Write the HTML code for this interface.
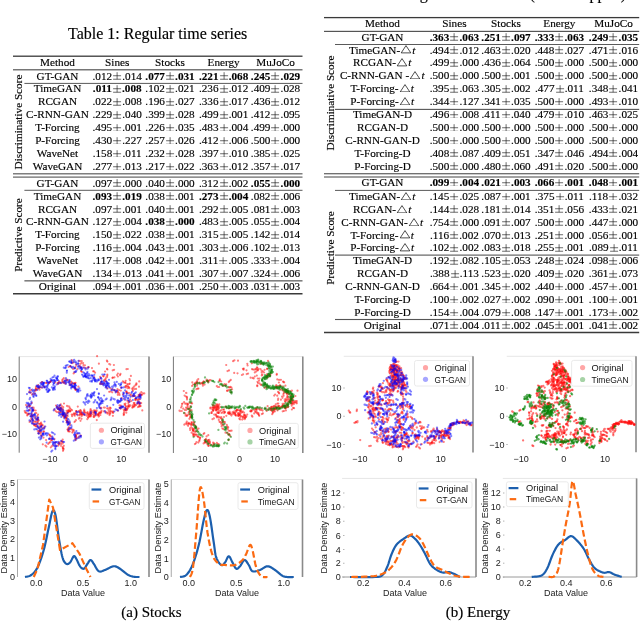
<!DOCTYPE html>
<html><head><meta charset="utf-8"><style>
html,body{margin:0;padding:0;background:#fff;}
body{width:640px;height:621px;position:relative;overflow:hidden;font-family:"Liberation Serif", serif;color:#000;filter:blur(0.3px);}
.t{-webkit-text-stroke:0.15px #000;position:absolute;width:0;height:0;line-height:0;white-space:nowrap;}
.cc{display:flex;justify-content:center;width:0;}
.cc>span,.ll>span,.rr>span{flex-shrink:0;}
.ll{display:flex;justify-content:flex-start;width:0;}
.rr{display:flex;justify-content:flex-end;width:0;}
.r{position:absolute;}
.pm{display:inline-block;vertical-align:-0.3px;margin-top:-7.6px;}
b{font-weight:bold;}
.tri{display:inline-block;vertical-align:-0.1px;margin-top:-8.2px;}
.mt{font-style:italic;margin-left:0.6px;margin-right:0.6px;}
.rot{-webkit-text-stroke:0.15px #000;position:absolute;width:0;height:0;line-height:0;white-space:nowrap;}
.cc2{position:absolute;left:0;top:0;transform:translate(-50%,-50%) rotate(-90deg);line-height:1;}
.s{font-family:"Liberation Sans", sans-serif;}
svg.p{position:absolute;left:0;top:0;}
</style></head><body>
<div class="t" style="left:157.60px;top:34.00px;font-size:16px;"><div class="cc"><span>Table 1: Regular time series</span></div></div><div class="t" style="left:57.50px;top:62.32px;font-size:11.2px;"><div class="cc"><span>Method</span></div></div><div class="t" style="left:117.20px;top:62.32px;font-size:11.2px;"><div class="cc"><span>Sines</span></div></div><div class="t" style="left:170.00px;top:62.32px;font-size:11.2px;"><div class="cc"><span>Stocks</span></div></div><div class="t" style="left:223.60px;top:62.32px;font-size:11.2px;"><div class="cc"><span>Energy</span></div></div><div class="t" style="left:275.50px;top:62.32px;font-size:11.2px;"><div class="cc"><span>MuJoCo</span></div></div><div class="t" style="left:57.50px;top:75.52px;font-size:11.2px;"><div class="cc"><span>GT-GAN</span></div></div><div class="t" style="left:117.20px;top:75.52px;font-size:11.2px;"><div class="cc"><span>.012<svg class="pm" width="10.2" height="7.6" viewBox="0 0 10.2 7.6"><path d="M1.1 3.75H9.1M1.1 7.25H9.1M5.1 0.2V7.25" stroke="#111" stroke-width="0.62"/></svg>.014</span></div></div><div class="t" style="left:170.00px;top:75.52px;font-size:11.2px;"><div class="cc"><span><b>.077<svg class="pm" width="10.2" height="7.6" viewBox="0 0 10.2 7.6"><path d="M1.1 3.75H9.1M1.1 7.25H9.1M5.1 0.2V7.25" stroke="#111" stroke-width="0.62"/></svg>.031</b></span></div></div><div class="t" style="left:223.60px;top:75.52px;font-size:11.2px;"><div class="cc"><span><b>.221<svg class="pm" width="10.2" height="7.6" viewBox="0 0 10.2 7.6"><path d="M1.1 3.75H9.1M1.1 7.25H9.1M5.1 0.2V7.25" stroke="#111" stroke-width="0.62"/></svg>.068</b></span></div></div><div class="t" style="left:275.50px;top:75.52px;font-size:11.2px;"><div class="cc"><span><b>.245<svg class="pm" width="10.2" height="7.6" viewBox="0 0 10.2 7.6"><path d="M1.1 3.75H9.1M1.1 7.25H9.1M5.1 0.2V7.25" stroke="#111" stroke-width="0.62"/></svg>.029</b></span></div></div><div class="t" style="left:57.50px;top:88.42px;font-size:11.2px;"><div class="cc"><span>TimeGAN</span></div></div><div class="t" style="left:117.20px;top:88.42px;font-size:11.2px;"><div class="cc"><span><b>.011<svg class="pm" width="10.2" height="7.6" viewBox="0 0 10.2 7.6"><path d="M1.1 3.75H9.1M1.1 7.25H9.1M5.1 0.2V7.25" stroke="#111" stroke-width="0.62"/></svg>.008</b></span></div></div><div class="t" style="left:170.00px;top:88.42px;font-size:11.2px;"><div class="cc"><span>.102<svg class="pm" width="10.2" height="7.6" viewBox="0 0 10.2 7.6"><path d="M1.1 3.75H9.1M1.1 7.25H9.1M5.1 0.2V7.25" stroke="#111" stroke-width="0.62"/></svg>.021</span></div></div><div class="t" style="left:223.60px;top:88.42px;font-size:11.2px;"><div class="cc"><span>.236<svg class="pm" width="10.2" height="7.6" viewBox="0 0 10.2 7.6"><path d="M1.1 3.75H9.1M1.1 7.25H9.1M5.1 0.2V7.25" stroke="#111" stroke-width="0.62"/></svg>.012</span></div></div><div class="t" style="left:275.50px;top:88.42px;font-size:11.2px;"><div class="cc"><span>.409<svg class="pm" width="10.2" height="7.6" viewBox="0 0 10.2 7.6"><path d="M1.1 3.75H9.1M1.1 7.25H9.1M5.1 0.2V7.25" stroke="#111" stroke-width="0.62"/></svg>.028</span></div></div><div class="t" style="left:57.50px;top:101.32px;font-size:11.2px;"><div class="cc"><span>RCGAN</span></div></div><div class="t" style="left:117.20px;top:101.32px;font-size:11.2px;"><div class="cc"><span>.022<svg class="pm" width="10.2" height="7.6" viewBox="0 0 10.2 7.6"><path d="M1.1 3.75H9.1M1.1 7.25H9.1M5.1 0.2V7.25" stroke="#111" stroke-width="0.62"/></svg>.008</span></div></div><div class="t" style="left:170.00px;top:101.32px;font-size:11.2px;"><div class="cc"><span>.196<svg class="pm" width="10.2" height="7.6" viewBox="0 0 10.2 7.6"><path d="M1.1 3.75H9.1M1.1 7.25H9.1M5.1 0.2V7.25" stroke="#111" stroke-width="0.62"/></svg>.027</span></div></div><div class="t" style="left:223.60px;top:101.32px;font-size:11.2px;"><div class="cc"><span>.336<svg class="pm" width="10.2" height="7.6" viewBox="0 0 10.2 7.6"><path d="M1.1 3.75H9.1M1.1 7.25H9.1M5.1 0.2V7.25" stroke="#111" stroke-width="0.62"/></svg>.017</span></div></div><div class="t" style="left:275.50px;top:101.32px;font-size:11.2px;"><div class="cc"><span>.436<svg class="pm" width="10.2" height="7.6" viewBox="0 0 10.2 7.6"><path d="M1.1 3.75H9.1M1.1 7.25H9.1M5.1 0.2V7.25" stroke="#111" stroke-width="0.62"/></svg>.012</span></div></div><div class="t" style="left:57.50px;top:114.22px;font-size:11.2px;"><div class="cc"><span>C-RNN-GAN</span></div></div><div class="t" style="left:117.20px;top:114.22px;font-size:11.2px;"><div class="cc"><span>.229<svg class="pm" width="10.2" height="7.6" viewBox="0 0 10.2 7.6"><path d="M1.1 3.75H9.1M1.1 7.25H9.1M5.1 0.2V7.25" stroke="#111" stroke-width="0.62"/></svg>.040</span></div></div><div class="t" style="left:170.00px;top:114.22px;font-size:11.2px;"><div class="cc"><span>.399<svg class="pm" width="10.2" height="7.6" viewBox="0 0 10.2 7.6"><path d="M1.1 3.75H9.1M1.1 7.25H9.1M5.1 0.2V7.25" stroke="#111" stroke-width="0.62"/></svg>.028</span></div></div><div class="t" style="left:223.60px;top:114.22px;font-size:11.2px;"><div class="cc"><span>.499<svg class="pm" width="10.2" height="7.6" viewBox="0 0 10.2 7.6"><path d="M1.1 3.75H9.1M1.1 7.25H9.1M5.1 0.2V7.25" stroke="#111" stroke-width="0.62"/></svg>.001</span></div></div><div class="t" style="left:275.50px;top:114.22px;font-size:11.2px;"><div class="cc"><span>.412<svg class="pm" width="10.2" height="7.6" viewBox="0 0 10.2 7.6"><path d="M1.1 3.75H9.1M1.1 7.25H9.1M5.1 0.2V7.25" stroke="#111" stroke-width="0.62"/></svg>.095</span></div></div><div class="t" style="left:57.50px;top:127.12px;font-size:11.2px;"><div class="cc"><span>T-Forcing</span></div></div><div class="t" style="left:117.20px;top:127.12px;font-size:11.2px;"><div class="cc"><span>.495<svg class="pm" width="10.2" height="7.6" viewBox="0 0 10.2 7.6"><path d="M1.1 3.75H9.1M1.1 7.25H9.1M5.1 0.2V7.25" stroke="#111" stroke-width="0.62"/></svg>.001</span></div></div><div class="t" style="left:170.00px;top:127.12px;font-size:11.2px;"><div class="cc"><span>.226<svg class="pm" width="10.2" height="7.6" viewBox="0 0 10.2 7.6"><path d="M1.1 3.75H9.1M1.1 7.25H9.1M5.1 0.2V7.25" stroke="#111" stroke-width="0.62"/></svg>.035</span></div></div><div class="t" style="left:223.60px;top:127.12px;font-size:11.2px;"><div class="cc"><span>.483<svg class="pm" width="10.2" height="7.6" viewBox="0 0 10.2 7.6"><path d="M1.1 3.75H9.1M1.1 7.25H9.1M5.1 0.2V7.25" stroke="#111" stroke-width="0.62"/></svg>.004</span></div></div><div class="t" style="left:275.50px;top:127.12px;font-size:11.2px;"><div class="cc"><span>.499<svg class="pm" width="10.2" height="7.6" viewBox="0 0 10.2 7.6"><path d="M1.1 3.75H9.1M1.1 7.25H9.1M5.1 0.2V7.25" stroke="#111" stroke-width="0.62"/></svg>.000</span></div></div><div class="t" style="left:57.50px;top:140.02px;font-size:11.2px;"><div class="cc"><span>P-Forcing</span></div></div><div class="t" style="left:117.20px;top:140.02px;font-size:11.2px;"><div class="cc"><span>.430<svg class="pm" width="10.2" height="7.6" viewBox="0 0 10.2 7.6"><path d="M1.1 3.75H9.1M1.1 7.25H9.1M5.1 0.2V7.25" stroke="#111" stroke-width="0.62"/></svg>.227</span></div></div><div class="t" style="left:170.00px;top:140.02px;font-size:11.2px;"><div class="cc"><span>.257<svg class="pm" width="10.2" height="7.6" viewBox="0 0 10.2 7.6"><path d="M1.1 3.75H9.1M1.1 7.25H9.1M5.1 0.2V7.25" stroke="#111" stroke-width="0.62"/></svg>.026</span></div></div><div class="t" style="left:223.60px;top:140.02px;font-size:11.2px;"><div class="cc"><span>.412<svg class="pm" width="10.2" height="7.6" viewBox="0 0 10.2 7.6"><path d="M1.1 3.75H9.1M1.1 7.25H9.1M5.1 0.2V7.25" stroke="#111" stroke-width="0.62"/></svg>.006</span></div></div><div class="t" style="left:275.50px;top:140.02px;font-size:11.2px;"><div class="cc"><span>.500<svg class="pm" width="10.2" height="7.6" viewBox="0 0 10.2 7.6"><path d="M1.1 3.75H9.1M1.1 7.25H9.1M5.1 0.2V7.25" stroke="#111" stroke-width="0.62"/></svg>.000</span></div></div><div class="t" style="left:57.50px;top:152.92px;font-size:11.2px;"><div class="cc"><span>WaveNet</span></div></div><div class="t" style="left:117.20px;top:152.92px;font-size:11.2px;"><div class="cc"><span>.158<svg class="pm" width="10.2" height="7.6" viewBox="0 0 10.2 7.6"><path d="M1.1 3.75H9.1M1.1 7.25H9.1M5.1 0.2V7.25" stroke="#111" stroke-width="0.62"/></svg>.011</span></div></div><div class="t" style="left:170.00px;top:152.92px;font-size:11.2px;"><div class="cc"><span>.232<svg class="pm" width="10.2" height="7.6" viewBox="0 0 10.2 7.6"><path d="M1.1 3.75H9.1M1.1 7.25H9.1M5.1 0.2V7.25" stroke="#111" stroke-width="0.62"/></svg>.028</span></div></div><div class="t" style="left:223.60px;top:152.92px;font-size:11.2px;"><div class="cc"><span>.397<svg class="pm" width="10.2" height="7.6" viewBox="0 0 10.2 7.6"><path d="M1.1 3.75H9.1M1.1 7.25H9.1M5.1 0.2V7.25" stroke="#111" stroke-width="0.62"/></svg>.010</span></div></div><div class="t" style="left:275.50px;top:152.92px;font-size:11.2px;"><div class="cc"><span>.385<svg class="pm" width="10.2" height="7.6" viewBox="0 0 10.2 7.6"><path d="M1.1 3.75H9.1M1.1 7.25H9.1M5.1 0.2V7.25" stroke="#111" stroke-width="0.62"/></svg>.025</span></div></div><div class="t" style="left:57.50px;top:165.82px;font-size:11.2px;"><div class="cc"><span>WaveGAN</span></div></div><div class="t" style="left:117.20px;top:165.82px;font-size:11.2px;"><div class="cc"><span>.277<svg class="pm" width="10.2" height="7.6" viewBox="0 0 10.2 7.6"><path d="M1.1 3.75H9.1M1.1 7.25H9.1M5.1 0.2V7.25" stroke="#111" stroke-width="0.62"/></svg>.013</span></div></div><div class="t" style="left:170.00px;top:165.82px;font-size:11.2px;"><div class="cc"><span>.217<svg class="pm" width="10.2" height="7.6" viewBox="0 0 10.2 7.6"><path d="M1.1 3.75H9.1M1.1 7.25H9.1M5.1 0.2V7.25" stroke="#111" stroke-width="0.62"/></svg>.022</span></div></div><div class="t" style="left:223.60px;top:165.82px;font-size:11.2px;"><div class="cc"><span>.363<svg class="pm" width="10.2" height="7.6" viewBox="0 0 10.2 7.6"><path d="M1.1 3.75H9.1M1.1 7.25H9.1M5.1 0.2V7.25" stroke="#111" stroke-width="0.62"/></svg>.012</span></div></div><div class="t" style="left:275.50px;top:165.82px;font-size:11.2px;"><div class="cc"><span>.357<svg class="pm" width="10.2" height="7.6" viewBox="0 0 10.2 7.6"><path d="M1.1 3.75H9.1M1.1 7.25H9.1M5.1 0.2V7.25" stroke="#111" stroke-width="0.62"/></svg>.017</span></div></div><div class="t" style="left:57.50px;top:182.52px;font-size:11.2px;"><div class="cc"><span>GT-GAN</span></div></div><div class="t" style="left:117.20px;top:182.52px;font-size:11.2px;"><div class="cc"><span>.097<svg class="pm" width="10.2" height="7.6" viewBox="0 0 10.2 7.6"><path d="M1.1 3.75H9.1M1.1 7.25H9.1M5.1 0.2V7.25" stroke="#111" stroke-width="0.62"/></svg>.000</span></div></div><div class="t" style="left:170.00px;top:182.52px;font-size:11.2px;"><div class="cc"><span>.040<svg class="pm" width="10.2" height="7.6" viewBox="0 0 10.2 7.6"><path d="M1.1 3.75H9.1M1.1 7.25H9.1M5.1 0.2V7.25" stroke="#111" stroke-width="0.62"/></svg>.000</span></div></div><div class="t" style="left:223.60px;top:182.52px;font-size:11.2px;"><div class="cc"><span>.312<svg class="pm" width="10.2" height="7.6" viewBox="0 0 10.2 7.6"><path d="M1.1 3.75H9.1M1.1 7.25H9.1M5.1 0.2V7.25" stroke="#111" stroke-width="0.62"/></svg>.002</span></div></div><div class="t" style="left:275.50px;top:182.52px;font-size:11.2px;"><div class="cc"><span><b>.055<svg class="pm" width="10.2" height="7.6" viewBox="0 0 10.2 7.6"><path d="M1.1 3.75H9.1M1.1 7.25H9.1M5.1 0.2V7.25" stroke="#111" stroke-width="0.62"/></svg>.000</b></span></div></div><div class="t" style="left:57.50px;top:195.62px;font-size:11.2px;"><div class="cc"><span>TimeGAN</span></div></div><div class="t" style="left:117.20px;top:195.62px;font-size:11.2px;"><div class="cc"><span><b>.093<svg class="pm" width="10.2" height="7.6" viewBox="0 0 10.2 7.6"><path d="M1.1 3.75H9.1M1.1 7.25H9.1M5.1 0.2V7.25" stroke="#111" stroke-width="0.62"/></svg>.019</b></span></div></div><div class="t" style="left:170.00px;top:195.62px;font-size:11.2px;"><div class="cc"><span>.038<svg class="pm" width="10.2" height="7.6" viewBox="0 0 10.2 7.6"><path d="M1.1 3.75H9.1M1.1 7.25H9.1M5.1 0.2V7.25" stroke="#111" stroke-width="0.62"/></svg>.001</span></div></div><div class="t" style="left:223.60px;top:195.62px;font-size:11.2px;"><div class="cc"><span><b>.273<svg class="pm" width="10.2" height="7.6" viewBox="0 0 10.2 7.6"><path d="M1.1 3.75H9.1M1.1 7.25H9.1M5.1 0.2V7.25" stroke="#111" stroke-width="0.62"/></svg>.004</b></span></div></div><div class="t" style="left:275.50px;top:195.62px;font-size:11.2px;"><div class="cc"><span>.082<svg class="pm" width="10.2" height="7.6" viewBox="0 0 10.2 7.6"><path d="M1.1 3.75H9.1M1.1 7.25H9.1M5.1 0.2V7.25" stroke="#111" stroke-width="0.62"/></svg>.006</span></div></div><div class="t" style="left:57.50px;top:208.52px;font-size:11.2px;"><div class="cc"><span>RCGAN</span></div></div><div class="t" style="left:117.20px;top:208.52px;font-size:11.2px;"><div class="cc"><span>.097<svg class="pm" width="10.2" height="7.6" viewBox="0 0 10.2 7.6"><path d="M1.1 3.75H9.1M1.1 7.25H9.1M5.1 0.2V7.25" stroke="#111" stroke-width="0.62"/></svg>.001</span></div></div><div class="t" style="left:170.00px;top:208.52px;font-size:11.2px;"><div class="cc"><span>.040<svg class="pm" width="10.2" height="7.6" viewBox="0 0 10.2 7.6"><path d="M1.1 3.75H9.1M1.1 7.25H9.1M5.1 0.2V7.25" stroke="#111" stroke-width="0.62"/></svg>.001</span></div></div><div class="t" style="left:223.60px;top:208.52px;font-size:11.2px;"><div class="cc"><span>.292<svg class="pm" width="10.2" height="7.6" viewBox="0 0 10.2 7.6"><path d="M1.1 3.75H9.1M1.1 7.25H9.1M5.1 0.2V7.25" stroke="#111" stroke-width="0.62"/></svg>.005</span></div></div><div class="t" style="left:275.50px;top:208.52px;font-size:11.2px;"><div class="cc"><span>.081<svg class="pm" width="10.2" height="7.6" viewBox="0 0 10.2 7.6"><path d="M1.1 3.75H9.1M1.1 7.25H9.1M5.1 0.2V7.25" stroke="#111" stroke-width="0.62"/></svg>.003</span></div></div><div class="t" style="left:57.50px;top:221.42px;font-size:11.2px;"><div class="cc"><span>C-RNN-GAN</span></div></div><div class="t" style="left:117.20px;top:221.42px;font-size:11.2px;"><div class="cc"><span>.127<svg class="pm" width="10.2" height="7.6" viewBox="0 0 10.2 7.6"><path d="M1.1 3.75H9.1M1.1 7.25H9.1M5.1 0.2V7.25" stroke="#111" stroke-width="0.62"/></svg>.004</span></div></div><div class="t" style="left:170.00px;top:221.42px;font-size:11.2px;"><div class="cc"><span><b>.038<svg class="pm" width="10.2" height="7.6" viewBox="0 0 10.2 7.6"><path d="M1.1 3.75H9.1M1.1 7.25H9.1M5.1 0.2V7.25" stroke="#111" stroke-width="0.62"/></svg>.000</b></span></div></div><div class="t" style="left:223.60px;top:221.42px;font-size:11.2px;"><div class="cc"><span>.483<svg class="pm" width="10.2" height="7.6" viewBox="0 0 10.2 7.6"><path d="M1.1 3.75H9.1M1.1 7.25H9.1M5.1 0.2V7.25" stroke="#111" stroke-width="0.62"/></svg>.005</span></div></div><div class="t" style="left:275.50px;top:221.42px;font-size:11.2px;"><div class="cc"><span>.055<svg class="pm" width="10.2" height="7.6" viewBox="0 0 10.2 7.6"><path d="M1.1 3.75H9.1M1.1 7.25H9.1M5.1 0.2V7.25" stroke="#111" stroke-width="0.62"/></svg>.004</span></div></div><div class="t" style="left:57.50px;top:234.32px;font-size:11.2px;"><div class="cc"><span>T-Forcing</span></div></div><div class="t" style="left:117.20px;top:234.32px;font-size:11.2px;"><div class="cc"><span>.150<svg class="pm" width="10.2" height="7.6" viewBox="0 0 10.2 7.6"><path d="M1.1 3.75H9.1M1.1 7.25H9.1M5.1 0.2V7.25" stroke="#111" stroke-width="0.62"/></svg>.022</span></div></div><div class="t" style="left:170.00px;top:234.32px;font-size:11.2px;"><div class="cc"><span>.038<svg class="pm" width="10.2" height="7.6" viewBox="0 0 10.2 7.6"><path d="M1.1 3.75H9.1M1.1 7.25H9.1M5.1 0.2V7.25" stroke="#111" stroke-width="0.62"/></svg>.001</span></div></div><div class="t" style="left:223.60px;top:234.32px;font-size:11.2px;"><div class="cc"><span>.315<svg class="pm" width="10.2" height="7.6" viewBox="0 0 10.2 7.6"><path d="M1.1 3.75H9.1M1.1 7.25H9.1M5.1 0.2V7.25" stroke="#111" stroke-width="0.62"/></svg>.005</span></div></div><div class="t" style="left:275.50px;top:234.32px;font-size:11.2px;"><div class="cc"><span>.142<svg class="pm" width="10.2" height="7.6" viewBox="0 0 10.2 7.6"><path d="M1.1 3.75H9.1M1.1 7.25H9.1M5.1 0.2V7.25" stroke="#111" stroke-width="0.62"/></svg>.014</span></div></div><div class="t" style="left:57.50px;top:247.22px;font-size:11.2px;"><div class="cc"><span>P-Forcing</span></div></div><div class="t" style="left:117.20px;top:247.22px;font-size:11.2px;"><div class="cc"><span>.116<svg class="pm" width="10.2" height="7.6" viewBox="0 0 10.2 7.6"><path d="M1.1 3.75H9.1M1.1 7.25H9.1M5.1 0.2V7.25" stroke="#111" stroke-width="0.62"/></svg>.004</span></div></div><div class="t" style="left:170.00px;top:247.22px;font-size:11.2px;"><div class="cc"><span>.043<svg class="pm" width="10.2" height="7.6" viewBox="0 0 10.2 7.6"><path d="M1.1 3.75H9.1M1.1 7.25H9.1M5.1 0.2V7.25" stroke="#111" stroke-width="0.62"/></svg>.001</span></div></div><div class="t" style="left:223.60px;top:247.22px;font-size:11.2px;"><div class="cc"><span>.303<svg class="pm" width="10.2" height="7.6" viewBox="0 0 10.2 7.6"><path d="M1.1 3.75H9.1M1.1 7.25H9.1M5.1 0.2V7.25" stroke="#111" stroke-width="0.62"/></svg>.006</span></div></div><div class="t" style="left:275.50px;top:247.22px;font-size:11.2px;"><div class="cc"><span>.102<svg class="pm" width="10.2" height="7.6" viewBox="0 0 10.2 7.6"><path d="M1.1 3.75H9.1M1.1 7.25H9.1M5.1 0.2V7.25" stroke="#111" stroke-width="0.62"/></svg>.013</span></div></div><div class="t" style="left:57.50px;top:260.12px;font-size:11.2px;"><div class="cc"><span>WaveNet</span></div></div><div class="t" style="left:117.20px;top:260.12px;font-size:11.2px;"><div class="cc"><span>.117<svg class="pm" width="10.2" height="7.6" viewBox="0 0 10.2 7.6"><path d="M1.1 3.75H9.1M1.1 7.25H9.1M5.1 0.2V7.25" stroke="#111" stroke-width="0.62"/></svg>.008</span></div></div><div class="t" style="left:170.00px;top:260.12px;font-size:11.2px;"><div class="cc"><span>.042<svg class="pm" width="10.2" height="7.6" viewBox="0 0 10.2 7.6"><path d="M1.1 3.75H9.1M1.1 7.25H9.1M5.1 0.2V7.25" stroke="#111" stroke-width="0.62"/></svg>.001</span></div></div><div class="t" style="left:223.60px;top:260.12px;font-size:11.2px;"><div class="cc"><span>.311<svg class="pm" width="10.2" height="7.6" viewBox="0 0 10.2 7.6"><path d="M1.1 3.75H9.1M1.1 7.25H9.1M5.1 0.2V7.25" stroke="#111" stroke-width="0.62"/></svg>.005</span></div></div><div class="t" style="left:275.50px;top:260.12px;font-size:11.2px;"><div class="cc"><span>.333<svg class="pm" width="10.2" height="7.6" viewBox="0 0 10.2 7.6"><path d="M1.1 3.75H9.1M1.1 7.25H9.1M5.1 0.2V7.25" stroke="#111" stroke-width="0.62"/></svg>.004</span></div></div><div class="t" style="left:57.50px;top:273.02px;font-size:11.2px;"><div class="cc"><span>WaveGAN</span></div></div><div class="t" style="left:117.20px;top:273.02px;font-size:11.2px;"><div class="cc"><span>.134<svg class="pm" width="10.2" height="7.6" viewBox="0 0 10.2 7.6"><path d="M1.1 3.75H9.1M1.1 7.25H9.1M5.1 0.2V7.25" stroke="#111" stroke-width="0.62"/></svg>.013</span></div></div><div class="t" style="left:170.00px;top:273.02px;font-size:11.2px;"><div class="cc"><span>.041<svg class="pm" width="10.2" height="7.6" viewBox="0 0 10.2 7.6"><path d="M1.1 3.75H9.1M1.1 7.25H9.1M5.1 0.2V7.25" stroke="#111" stroke-width="0.62"/></svg>.001</span></div></div><div class="t" style="left:223.60px;top:273.02px;font-size:11.2px;"><div class="cc"><span>.307<svg class="pm" width="10.2" height="7.6" viewBox="0 0 10.2 7.6"><path d="M1.1 3.75H9.1M1.1 7.25H9.1M5.1 0.2V7.25" stroke="#111" stroke-width="0.62"/></svg>.007</span></div></div><div class="t" style="left:275.50px;top:273.02px;font-size:11.2px;"><div class="cc"><span>.324<svg class="pm" width="10.2" height="7.6" viewBox="0 0 10.2 7.6"><path d="M1.1 3.75H9.1M1.1 7.25H9.1M5.1 0.2V7.25" stroke="#111" stroke-width="0.62"/></svg>.006</span></div></div><div class="t" style="left:57.50px;top:286.12px;font-size:11.2px;"><div class="cc"><span>Original</span></div></div><div class="t" style="left:117.20px;top:286.12px;font-size:11.2px;"><div class="cc"><span>.094<svg class="pm" width="10.2" height="7.6" viewBox="0 0 10.2 7.6"><path d="M1.1 3.75H9.1M1.1 7.25H9.1M5.1 0.2V7.25" stroke="#111" stroke-width="0.62"/></svg>.001</span></div></div><div class="t" style="left:170.00px;top:286.12px;font-size:11.2px;"><div class="cc"><span>.036<svg class="pm" width="10.2" height="7.6" viewBox="0 0 10.2 7.6"><path d="M1.1 3.75H9.1M1.1 7.25H9.1M5.1 0.2V7.25" stroke="#111" stroke-width="0.62"/></svg>.001</span></div></div><div class="t" style="left:223.60px;top:286.12px;font-size:11.2px;"><div class="cc"><span>.250<svg class="pm" width="10.2" height="7.6" viewBox="0 0 10.2 7.6"><path d="M1.1 3.75H9.1M1.1 7.25H9.1M5.1 0.2V7.25" stroke="#111" stroke-width="0.62"/></svg>.003</span></div></div><div class="t" style="left:275.50px;top:286.12px;font-size:11.2px;"><div class="cc"><span>.031<svg class="pm" width="10.2" height="7.6" viewBox="0 0 10.2 7.6"><path d="M1.1 3.75H9.1M1.1 7.25H9.1M5.1 0.2V7.25" stroke="#111" stroke-width="0.62"/></svg>.003</span></div></div><div class="rot" style="left:19.30px;top:122.00px;font-size:11.2px"><div class="cc2">Discriminative Score</div></div><div class="rot" style="left:19.30px;top:235.00px;font-size:11.2px"><div class="cc2">Predictive Score</div></div><div class="t" style="left:341.00px;top:-5.70px;font-size:16px;"><div class="ll"><span>Table 2: Irregular time series (30% dropped)</span></div></div><div class="t" style="left:382.50px;top:23.22px;font-size:11.2px;"><div class="cc"><span>Method</span></div></div><div class="t" style="left:454.40px;top:23.22px;font-size:11.2px;"><div class="cc"><span>Sines</span></div></div><div class="t" style="left:506.00px;top:23.22px;font-size:11.2px;"><div class="cc"><span>Stocks</span></div></div><div class="t" style="left:559.40px;top:23.22px;font-size:11.2px;"><div class="cc"><span>Energy</span></div></div><div class="t" style="left:613.50px;top:23.22px;font-size:11.2px;"><div class="cc"><span>MuJoCo</span></div></div><div class="t" style="left:382.50px;top:36.52px;font-size:11.2px;"><div class="cc"><span>GT-GAN</span></div></div><div class="t" style="left:454.40px;top:36.52px;font-size:11.2px;"><div class="cc"><span><b>.363<svg class="pm" width="10.2" height="7.6" viewBox="0 0 10.2 7.6"><path d="M1.1 3.75H9.1M1.1 7.25H9.1M5.1 0.2V7.25" stroke="#111" stroke-width="0.62"/></svg>.063</b></span></div></div><div class="t" style="left:506.00px;top:36.52px;font-size:11.2px;"><div class="cc"><span><b>.251<svg class="pm" width="10.2" height="7.6" viewBox="0 0 10.2 7.6"><path d="M1.1 3.75H9.1M1.1 7.25H9.1M5.1 0.2V7.25" stroke="#111" stroke-width="0.62"/></svg>.097</b></span></div></div><div class="t" style="left:559.40px;top:36.52px;font-size:11.2px;"><div class="cc"><span><b>.333<svg class="pm" width="10.2" height="7.6" viewBox="0 0 10.2 7.6"><path d="M1.1 3.75H9.1M1.1 7.25H9.1M5.1 0.2V7.25" stroke="#111" stroke-width="0.62"/></svg>.063</b></span></div></div><div class="t" style="left:613.50px;top:36.52px;font-size:11.2px;"><div class="cc"><span><b>.249<svg class="pm" width="10.2" height="7.6" viewBox="0 0 10.2 7.6"><path d="M1.1 3.75H9.1M1.1 7.25H9.1M5.1 0.2V7.25" stroke="#111" stroke-width="0.62"/></svg>.035</b></span></div></div><div class="t" style="left:382.50px;top:49.52px;font-size:11.2px;"><div class="cc"><span>TimeGAN-<svg class="tri" width="11.6" height="8.2" viewBox="0 0 11.6 8.2"><path d="M6.0 0.6 L10.8 7.9 L1.2 7.9 Z" fill="none" stroke="#000" stroke-width="0.7" stroke-linejoin="miter"/></svg><i class="mt">t</i></span></div></div><div class="t" style="left:454.40px;top:49.52px;font-size:11.2px;"><div class="cc"><span>.494<svg class="pm" width="10.2" height="7.6" viewBox="0 0 10.2 7.6"><path d="M1.1 3.75H9.1M1.1 7.25H9.1M5.1 0.2V7.25" stroke="#111" stroke-width="0.62"/></svg>.012</span></div></div><div class="t" style="left:506.00px;top:49.52px;font-size:11.2px;"><div class="cc"><span>.463<svg class="pm" width="10.2" height="7.6" viewBox="0 0 10.2 7.6"><path d="M1.1 3.75H9.1M1.1 7.25H9.1M5.1 0.2V7.25" stroke="#111" stroke-width="0.62"/></svg>.020</span></div></div><div class="t" style="left:559.40px;top:49.52px;font-size:11.2px;"><div class="cc"><span>.448<svg class="pm" width="10.2" height="7.6" viewBox="0 0 10.2 7.6"><path d="M1.1 3.75H9.1M1.1 7.25H9.1M5.1 0.2V7.25" stroke="#111" stroke-width="0.62"/></svg>.027</span></div></div><div class="t" style="left:613.50px;top:49.52px;font-size:11.2px;"><div class="cc"><span>.471<svg class="pm" width="10.2" height="7.6" viewBox="0 0 10.2 7.6"><path d="M1.1 3.75H9.1M1.1 7.25H9.1M5.1 0.2V7.25" stroke="#111" stroke-width="0.62"/></svg>.016</span></div></div><div class="t" style="left:382.50px;top:62.42px;font-size:11.2px;"><div class="cc"><span>RCGAN-<svg class="tri" width="11.6" height="8.2" viewBox="0 0 11.6 8.2"><path d="M6.0 0.6 L10.8 7.9 L1.2 7.9 Z" fill="none" stroke="#000" stroke-width="0.7" stroke-linejoin="miter"/></svg><i class="mt">t</i></span></div></div><div class="t" style="left:454.40px;top:62.42px;font-size:11.2px;"><div class="cc"><span>.499<svg class="pm" width="10.2" height="7.6" viewBox="0 0 10.2 7.6"><path d="M1.1 3.75H9.1M1.1 7.25H9.1M5.1 0.2V7.25" stroke="#111" stroke-width="0.62"/></svg>.000</span></div></div><div class="t" style="left:506.00px;top:62.42px;font-size:11.2px;"><div class="cc"><span>.436<svg class="pm" width="10.2" height="7.6" viewBox="0 0 10.2 7.6"><path d="M1.1 3.75H9.1M1.1 7.25H9.1M5.1 0.2V7.25" stroke="#111" stroke-width="0.62"/></svg>.064</span></div></div><div class="t" style="left:559.40px;top:62.42px;font-size:11.2px;"><div class="cc"><span>.500<svg class="pm" width="10.2" height="7.6" viewBox="0 0 10.2 7.6"><path d="M1.1 3.75H9.1M1.1 7.25H9.1M5.1 0.2V7.25" stroke="#111" stroke-width="0.62"/></svg>.000</span></div></div><div class="t" style="left:613.50px;top:62.42px;font-size:11.2px;"><div class="cc"><span>.500<svg class="pm" width="10.2" height="7.6" viewBox="0 0 10.2 7.6"><path d="M1.1 3.75H9.1M1.1 7.25H9.1M5.1 0.2V7.25" stroke="#111" stroke-width="0.62"/></svg>.000</span></div></div><div class="t" style="left:382.50px;top:75.32px;font-size:11.2px;"><div class="cc"><span>C-RNN-GAN -<svg class="tri" width="11.6" height="8.2" viewBox="0 0 11.6 8.2"><path d="M6.0 0.6 L10.8 7.9 L1.2 7.9 Z" fill="none" stroke="#000" stroke-width="0.7" stroke-linejoin="miter"/></svg><i class="mt">t</i></span></div></div><div class="t" style="left:454.40px;top:75.32px;font-size:11.2px;"><div class="cc"><span>.500<svg class="pm" width="10.2" height="7.6" viewBox="0 0 10.2 7.6"><path d="M1.1 3.75H9.1M1.1 7.25H9.1M5.1 0.2V7.25" stroke="#111" stroke-width="0.62"/></svg>.000</span></div></div><div class="t" style="left:506.00px;top:75.32px;font-size:11.2px;"><div class="cc"><span>.500<svg class="pm" width="10.2" height="7.6" viewBox="0 0 10.2 7.6"><path d="M1.1 3.75H9.1M1.1 7.25H9.1M5.1 0.2V7.25" stroke="#111" stroke-width="0.62"/></svg>.001</span></div></div><div class="t" style="left:559.40px;top:75.32px;font-size:11.2px;"><div class="cc"><span>.500<svg class="pm" width="10.2" height="7.6" viewBox="0 0 10.2 7.6"><path d="M1.1 3.75H9.1M1.1 7.25H9.1M5.1 0.2V7.25" stroke="#111" stroke-width="0.62"/></svg>.000</span></div></div><div class="t" style="left:613.50px;top:75.32px;font-size:11.2px;"><div class="cc"><span>.500<svg class="pm" width="10.2" height="7.6" viewBox="0 0 10.2 7.6"><path d="M1.1 3.75H9.1M1.1 7.25H9.1M5.1 0.2V7.25" stroke="#111" stroke-width="0.62"/></svg>.000</span></div></div><div class="t" style="left:382.50px;top:88.22px;font-size:11.2px;"><div class="cc"><span>T-Forcing-<svg class="tri" width="11.6" height="8.2" viewBox="0 0 11.6 8.2"><path d="M6.0 0.6 L10.8 7.9 L1.2 7.9 Z" fill="none" stroke="#000" stroke-width="0.7" stroke-linejoin="miter"/></svg><i class="mt">t</i></span></div></div><div class="t" style="left:454.40px;top:88.22px;font-size:11.2px;"><div class="cc"><span>.395<svg class="pm" width="10.2" height="7.6" viewBox="0 0 10.2 7.6"><path d="M1.1 3.75H9.1M1.1 7.25H9.1M5.1 0.2V7.25" stroke="#111" stroke-width="0.62"/></svg>.063</span></div></div><div class="t" style="left:506.00px;top:88.22px;font-size:11.2px;"><div class="cc"><span>.305<svg class="pm" width="10.2" height="7.6" viewBox="0 0 10.2 7.6"><path d="M1.1 3.75H9.1M1.1 7.25H9.1M5.1 0.2V7.25" stroke="#111" stroke-width="0.62"/></svg>.002</span></div></div><div class="t" style="left:559.40px;top:88.22px;font-size:11.2px;"><div class="cc"><span>.477<svg class="pm" width="10.2" height="7.6" viewBox="0 0 10.2 7.6"><path d="M1.1 3.75H9.1M1.1 7.25H9.1M5.1 0.2V7.25" stroke="#111" stroke-width="0.62"/></svg>.011</span></div></div><div class="t" style="left:613.50px;top:88.22px;font-size:11.2px;"><div class="cc"><span>.348<svg class="pm" width="10.2" height="7.6" viewBox="0 0 10.2 7.6"><path d="M1.1 3.75H9.1M1.1 7.25H9.1M5.1 0.2V7.25" stroke="#111" stroke-width="0.62"/></svg>.041</span></div></div><div class="t" style="left:382.50px;top:101.12px;font-size:11.2px;"><div class="cc"><span>P-Forcing-<svg class="tri" width="11.6" height="8.2" viewBox="0 0 11.6 8.2"><path d="M6.0 0.6 L10.8 7.9 L1.2 7.9 Z" fill="none" stroke="#000" stroke-width="0.7" stroke-linejoin="miter"/></svg><i class="mt">t</i></span></div></div><div class="t" style="left:454.40px;top:101.12px;font-size:11.2px;"><div class="cc"><span>.344<svg class="pm" width="10.2" height="7.6" viewBox="0 0 10.2 7.6"><path d="M1.1 3.75H9.1M1.1 7.25H9.1M5.1 0.2V7.25" stroke="#111" stroke-width="0.62"/></svg>.127</span></div></div><div class="t" style="left:506.00px;top:101.12px;font-size:11.2px;"><div class="cc"><span>.341<svg class="pm" width="10.2" height="7.6" viewBox="0 0 10.2 7.6"><path d="M1.1 3.75H9.1M1.1 7.25H9.1M5.1 0.2V7.25" stroke="#111" stroke-width="0.62"/></svg>.035</span></div></div><div class="t" style="left:559.40px;top:101.12px;font-size:11.2px;"><div class="cc"><span>.500<svg class="pm" width="10.2" height="7.6" viewBox="0 0 10.2 7.6"><path d="M1.1 3.75H9.1M1.1 7.25H9.1M5.1 0.2V7.25" stroke="#111" stroke-width="0.62"/></svg>.000</span></div></div><div class="t" style="left:613.50px;top:101.12px;font-size:11.2px;"><div class="cc"><span>.493<svg class="pm" width="10.2" height="7.6" viewBox="0 0 10.2 7.6"><path d="M1.1 3.75H9.1M1.1 7.25H9.1M5.1 0.2V7.25" stroke="#111" stroke-width="0.62"/></svg>.010</span></div></div><div class="t" style="left:382.50px;top:114.02px;font-size:11.2px;"><div class="cc"><span>TimeGAN-D</span></div></div><div class="t" style="left:454.40px;top:114.02px;font-size:11.2px;"><div class="cc"><span>.496<svg class="pm" width="10.2" height="7.6" viewBox="0 0 10.2 7.6"><path d="M1.1 3.75H9.1M1.1 7.25H9.1M5.1 0.2V7.25" stroke="#111" stroke-width="0.62"/></svg>.008</span></div></div><div class="t" style="left:506.00px;top:114.02px;font-size:11.2px;"><div class="cc"><span>.411<svg class="pm" width="10.2" height="7.6" viewBox="0 0 10.2 7.6"><path d="M1.1 3.75H9.1M1.1 7.25H9.1M5.1 0.2V7.25" stroke="#111" stroke-width="0.62"/></svg>.040</span></div></div><div class="t" style="left:559.40px;top:114.02px;font-size:11.2px;"><div class="cc"><span>.479<svg class="pm" width="10.2" height="7.6" viewBox="0 0 10.2 7.6"><path d="M1.1 3.75H9.1M1.1 7.25H9.1M5.1 0.2V7.25" stroke="#111" stroke-width="0.62"/></svg>.010</span></div></div><div class="t" style="left:613.50px;top:114.02px;font-size:11.2px;"><div class="cc"><span>.463<svg class="pm" width="10.2" height="7.6" viewBox="0 0 10.2 7.6"><path d="M1.1 3.75H9.1M1.1 7.25H9.1M5.1 0.2V7.25" stroke="#111" stroke-width="0.62"/></svg>.025</span></div></div><div class="t" style="left:382.50px;top:126.92px;font-size:11.2px;"><div class="cc"><span>RCGAN-D</span></div></div><div class="t" style="left:454.40px;top:126.92px;font-size:11.2px;"><div class="cc"><span>.500<svg class="pm" width="10.2" height="7.6" viewBox="0 0 10.2 7.6"><path d="M1.1 3.75H9.1M1.1 7.25H9.1M5.1 0.2V7.25" stroke="#111" stroke-width="0.62"/></svg>.000</span></div></div><div class="t" style="left:506.00px;top:126.92px;font-size:11.2px;"><div class="cc"><span>.500<svg class="pm" width="10.2" height="7.6" viewBox="0 0 10.2 7.6"><path d="M1.1 3.75H9.1M1.1 7.25H9.1M5.1 0.2V7.25" stroke="#111" stroke-width="0.62"/></svg>.000</span></div></div><div class="t" style="left:559.40px;top:126.92px;font-size:11.2px;"><div class="cc"><span>.500<svg class="pm" width="10.2" height="7.6" viewBox="0 0 10.2 7.6"><path d="M1.1 3.75H9.1M1.1 7.25H9.1M5.1 0.2V7.25" stroke="#111" stroke-width="0.62"/></svg>.000</span></div></div><div class="t" style="left:613.50px;top:126.92px;font-size:11.2px;"><div class="cc"><span>.500<svg class="pm" width="10.2" height="7.6" viewBox="0 0 10.2 7.6"><path d="M1.1 3.75H9.1M1.1 7.25H9.1M5.1 0.2V7.25" stroke="#111" stroke-width="0.62"/></svg>.000</span></div></div><div class="t" style="left:382.50px;top:139.82px;font-size:11.2px;"><div class="cc"><span>C-RNN-GAN-D</span></div></div><div class="t" style="left:454.40px;top:139.82px;font-size:11.2px;"><div class="cc"><span>.500<svg class="pm" width="10.2" height="7.6" viewBox="0 0 10.2 7.6"><path d="M1.1 3.75H9.1M1.1 7.25H9.1M5.1 0.2V7.25" stroke="#111" stroke-width="0.62"/></svg>.000</span></div></div><div class="t" style="left:506.00px;top:139.82px;font-size:11.2px;"><div class="cc"><span>.500<svg class="pm" width="10.2" height="7.6" viewBox="0 0 10.2 7.6"><path d="M1.1 3.75H9.1M1.1 7.25H9.1M5.1 0.2V7.25" stroke="#111" stroke-width="0.62"/></svg>.000</span></div></div><div class="t" style="left:559.40px;top:139.82px;font-size:11.2px;"><div class="cc"><span>.500<svg class="pm" width="10.2" height="7.6" viewBox="0 0 10.2 7.6"><path d="M1.1 3.75H9.1M1.1 7.25H9.1M5.1 0.2V7.25" stroke="#111" stroke-width="0.62"/></svg>.000</span></div></div><div class="t" style="left:613.50px;top:139.82px;font-size:11.2px;"><div class="cc"><span>.500<svg class="pm" width="10.2" height="7.6" viewBox="0 0 10.2 7.6"><path d="M1.1 3.75H9.1M1.1 7.25H9.1M5.1 0.2V7.25" stroke="#111" stroke-width="0.62"/></svg>.000</span></div></div><div class="t" style="left:382.50px;top:152.72px;font-size:11.2px;"><div class="cc"><span>T-Forcing-D</span></div></div><div class="t" style="left:454.40px;top:152.72px;font-size:11.2px;"><div class="cc"><span>.408<svg class="pm" width="10.2" height="7.6" viewBox="0 0 10.2 7.6"><path d="M1.1 3.75H9.1M1.1 7.25H9.1M5.1 0.2V7.25" stroke="#111" stroke-width="0.62"/></svg>.087</span></div></div><div class="t" style="left:506.00px;top:152.72px;font-size:11.2px;"><div class="cc"><span>.409<svg class="pm" width="10.2" height="7.6" viewBox="0 0 10.2 7.6"><path d="M1.1 3.75H9.1M1.1 7.25H9.1M5.1 0.2V7.25" stroke="#111" stroke-width="0.62"/></svg>.051</span></div></div><div class="t" style="left:559.40px;top:152.72px;font-size:11.2px;"><div class="cc"><span>.347<svg class="pm" width="10.2" height="7.6" viewBox="0 0 10.2 7.6"><path d="M1.1 3.75H9.1M1.1 7.25H9.1M5.1 0.2V7.25" stroke="#111" stroke-width="0.62"/></svg>.046</span></div></div><div class="t" style="left:613.50px;top:152.72px;font-size:11.2px;"><div class="cc"><span>.494<svg class="pm" width="10.2" height="7.6" viewBox="0 0 10.2 7.6"><path d="M1.1 3.75H9.1M1.1 7.25H9.1M5.1 0.2V7.25" stroke="#111" stroke-width="0.62"/></svg>.004</span></div></div><div class="t" style="left:382.50px;top:165.62px;font-size:11.2px;"><div class="cc"><span>P-Forcing-D</span></div></div><div class="t" style="left:454.40px;top:165.62px;font-size:11.2px;"><div class="cc"><span>.500<svg class="pm" width="10.2" height="7.6" viewBox="0 0 10.2 7.6"><path d="M1.1 3.75H9.1M1.1 7.25H9.1M5.1 0.2V7.25" stroke="#111" stroke-width="0.62"/></svg>.000</span></div></div><div class="t" style="left:506.00px;top:165.62px;font-size:11.2px;"><div class="cc"><span>.480<svg class="pm" width="10.2" height="7.6" viewBox="0 0 10.2 7.6"><path d="M1.1 3.75H9.1M1.1 7.25H9.1M5.1 0.2V7.25" stroke="#111" stroke-width="0.62"/></svg>.060</span></div></div><div class="t" style="left:559.40px;top:165.62px;font-size:11.2px;"><div class="cc"><span>.491<svg class="pm" width="10.2" height="7.6" viewBox="0 0 10.2 7.6"><path d="M1.1 3.75H9.1M1.1 7.25H9.1M5.1 0.2V7.25" stroke="#111" stroke-width="0.62"/></svg>.020</span></div></div><div class="t" style="left:613.50px;top:165.62px;font-size:11.2px;"><div class="cc"><span>.500<svg class="pm" width="10.2" height="7.6" viewBox="0 0 10.2 7.6"><path d="M1.1 3.75H9.1M1.1 7.25H9.1M5.1 0.2V7.25" stroke="#111" stroke-width="0.62"/></svg>.000</span></div></div><div class="t" style="left:382.50px;top:182.02px;font-size:11.2px;"><div class="cc"><span>GT-GAN</span></div></div><div class="t" style="left:454.40px;top:182.02px;font-size:11.2px;"><div class="cc"><span><b>.099<svg class="pm" width="10.2" height="7.6" viewBox="0 0 10.2 7.6"><path d="M1.1 3.75H9.1M1.1 7.25H9.1M5.1 0.2V7.25" stroke="#111" stroke-width="0.62"/></svg>.004</b></span></div></div><div class="t" style="left:506.00px;top:182.02px;font-size:11.2px;"><div class="cc"><span><b>.021<svg class="pm" width="10.2" height="7.6" viewBox="0 0 10.2 7.6"><path d="M1.1 3.75H9.1M1.1 7.25H9.1M5.1 0.2V7.25" stroke="#111" stroke-width="0.62"/></svg>.003</b></span></div></div><div class="t" style="left:559.40px;top:182.02px;font-size:11.2px;"><div class="cc"><span><b>.066<svg class="pm" width="10.2" height="7.6" viewBox="0 0 10.2 7.6"><path d="M1.1 3.75H9.1M1.1 7.25H9.1M5.1 0.2V7.25" stroke="#111" stroke-width="0.62"/></svg>.001</b></span></div></div><div class="t" style="left:613.50px;top:182.02px;font-size:11.2px;"><div class="cc"><span><b>.048<svg class="pm" width="10.2" height="7.6" viewBox="0 0 10.2 7.6"><path d="M1.1 3.75H9.1M1.1 7.25H9.1M5.1 0.2V7.25" stroke="#111" stroke-width="0.62"/></svg>.001</b></span></div></div><div class="t" style="left:382.50px;top:195.82px;font-size:11.2px;"><div class="cc"><span>TimeGAN-<svg class="tri" width="11.6" height="8.2" viewBox="0 0 11.6 8.2"><path d="M6.0 0.6 L10.8 7.9 L1.2 7.9 Z" fill="none" stroke="#000" stroke-width="0.7" stroke-linejoin="miter"/></svg><i class="mt">t</i></span></div></div><div class="t" style="left:454.40px;top:195.82px;font-size:11.2px;"><div class="cc"><span>.145<svg class="pm" width="10.2" height="7.6" viewBox="0 0 10.2 7.6"><path d="M1.1 3.75H9.1M1.1 7.25H9.1M5.1 0.2V7.25" stroke="#111" stroke-width="0.62"/></svg>.025</span></div></div><div class="t" style="left:506.00px;top:195.82px;font-size:11.2px;"><div class="cc"><span>.087<svg class="pm" width="10.2" height="7.6" viewBox="0 0 10.2 7.6"><path d="M1.1 3.75H9.1M1.1 7.25H9.1M5.1 0.2V7.25" stroke="#111" stroke-width="0.62"/></svg>.001</span></div></div><div class="t" style="left:559.40px;top:195.82px;font-size:11.2px;"><div class="cc"><span>.375<svg class="pm" width="10.2" height="7.6" viewBox="0 0 10.2 7.6"><path d="M1.1 3.75H9.1M1.1 7.25H9.1M5.1 0.2V7.25" stroke="#111" stroke-width="0.62"/></svg>.011</span></div></div><div class="t" style="left:613.50px;top:195.82px;font-size:11.2px;"><div class="cc"><span>.118<svg class="pm" width="10.2" height="7.6" viewBox="0 0 10.2 7.6"><path d="M1.1 3.75H9.1M1.1 7.25H9.1M5.1 0.2V7.25" stroke="#111" stroke-width="0.62"/></svg>.032</span></div></div><div class="t" style="left:382.50px;top:208.72px;font-size:11.2px;"><div class="cc"><span>RCGAN-<svg class="tri" width="11.6" height="8.2" viewBox="0 0 11.6 8.2"><path d="M6.0 0.6 L10.8 7.9 L1.2 7.9 Z" fill="none" stroke="#000" stroke-width="0.7" stroke-linejoin="miter"/></svg><i class="mt">t</i></span></div></div><div class="t" style="left:454.40px;top:208.72px;font-size:11.2px;"><div class="cc"><span>.144<svg class="pm" width="10.2" height="7.6" viewBox="0 0 10.2 7.6"><path d="M1.1 3.75H9.1M1.1 7.25H9.1M5.1 0.2V7.25" stroke="#111" stroke-width="0.62"/></svg>.028</span></div></div><div class="t" style="left:506.00px;top:208.72px;font-size:11.2px;"><div class="cc"><span>.181<svg class="pm" width="10.2" height="7.6" viewBox="0 0 10.2 7.6"><path d="M1.1 3.75H9.1M1.1 7.25H9.1M5.1 0.2V7.25" stroke="#111" stroke-width="0.62"/></svg>.014</span></div></div><div class="t" style="left:559.40px;top:208.72px;font-size:11.2px;"><div class="cc"><span>.351<svg class="pm" width="10.2" height="7.6" viewBox="0 0 10.2 7.6"><path d="M1.1 3.75H9.1M1.1 7.25H9.1M5.1 0.2V7.25" stroke="#111" stroke-width="0.62"/></svg>.056</span></div></div><div class="t" style="left:613.50px;top:208.72px;font-size:11.2px;"><div class="cc"><span>.433<svg class="pm" width="10.2" height="7.6" viewBox="0 0 10.2 7.6"><path d="M1.1 3.75H9.1M1.1 7.25H9.1M5.1 0.2V7.25" stroke="#111" stroke-width="0.62"/></svg>.021</span></div></div><div class="t" style="left:382.50px;top:221.62px;font-size:11.2px;"><div class="cc"><span>C-RNN-GAN-<svg class="tri" width="11.6" height="8.2" viewBox="0 0 11.6 8.2"><path d="M6.0 0.6 L10.8 7.9 L1.2 7.9 Z" fill="none" stroke="#000" stroke-width="0.7" stroke-linejoin="miter"/></svg><i class="mt">t</i></span></div></div><div class="t" style="left:454.40px;top:221.62px;font-size:11.2px;"><div class="cc"><span>.754<svg class="pm" width="10.2" height="7.6" viewBox="0 0 10.2 7.6"><path d="M1.1 3.75H9.1M1.1 7.25H9.1M5.1 0.2V7.25" stroke="#111" stroke-width="0.62"/></svg>.000</span></div></div><div class="t" style="left:506.00px;top:221.62px;font-size:11.2px;"><div class="cc"><span>.091<svg class="pm" width="10.2" height="7.6" viewBox="0 0 10.2 7.6"><path d="M1.1 3.75H9.1M1.1 7.25H9.1M5.1 0.2V7.25" stroke="#111" stroke-width="0.62"/></svg>.007</span></div></div><div class="t" style="left:559.40px;top:221.62px;font-size:11.2px;"><div class="cc"><span>.500<svg class="pm" width="10.2" height="7.6" viewBox="0 0 10.2 7.6"><path d="M1.1 3.75H9.1M1.1 7.25H9.1M5.1 0.2V7.25" stroke="#111" stroke-width="0.62"/></svg>.000</span></div></div><div class="t" style="left:613.50px;top:221.62px;font-size:11.2px;"><div class="cc"><span>.447<svg class="pm" width="10.2" height="7.6" viewBox="0 0 10.2 7.6"><path d="M1.1 3.75H9.1M1.1 7.25H9.1M5.1 0.2V7.25" stroke="#111" stroke-width="0.62"/></svg>.000</span></div></div><div class="t" style="left:382.50px;top:234.52px;font-size:11.2px;"><div class="cc"><span>T-Forcing-<svg class="tri" width="11.6" height="8.2" viewBox="0 0 11.6 8.2"><path d="M6.0 0.6 L10.8 7.9 L1.2 7.9 Z" fill="none" stroke="#000" stroke-width="0.7" stroke-linejoin="miter"/></svg><i class="mt">t</i></span></div></div><div class="t" style="left:454.40px;top:234.52px;font-size:11.2px;"><div class="cc"><span>.116<svg class="pm" width="10.2" height="7.6" viewBox="0 0 10.2 7.6"><path d="M1.1 3.75H9.1M1.1 7.25H9.1M5.1 0.2V7.25" stroke="#111" stroke-width="0.62"/></svg>.002</span></div></div><div class="t" style="left:506.00px;top:234.52px;font-size:11.2px;"><div class="cc"><span>.070<svg class="pm" width="10.2" height="7.6" viewBox="0 0 10.2 7.6"><path d="M1.1 3.75H9.1M1.1 7.25H9.1M5.1 0.2V7.25" stroke="#111" stroke-width="0.62"/></svg>.013</span></div></div><div class="t" style="left:559.40px;top:234.52px;font-size:11.2px;"><div class="cc"><span>.251<svg class="pm" width="10.2" height="7.6" viewBox="0 0 10.2 7.6"><path d="M1.1 3.75H9.1M1.1 7.25H9.1M5.1 0.2V7.25" stroke="#111" stroke-width="0.62"/></svg>.000</span></div></div><div class="t" style="left:613.50px;top:234.52px;font-size:11.2px;"><div class="cc"><span>.056<svg class="pm" width="10.2" height="7.6" viewBox="0 0 10.2 7.6"><path d="M1.1 3.75H9.1M1.1 7.25H9.1M5.1 0.2V7.25" stroke="#111" stroke-width="0.62"/></svg>.001</span></div></div><div class="t" style="left:382.50px;top:247.42px;font-size:11.2px;"><div class="cc"><span>P-Forcing-<svg class="tri" width="11.6" height="8.2" viewBox="0 0 11.6 8.2"><path d="M6.0 0.6 L10.8 7.9 L1.2 7.9 Z" fill="none" stroke="#000" stroke-width="0.7" stroke-linejoin="miter"/></svg><i class="mt">t</i></span></div></div><div class="t" style="left:454.40px;top:247.42px;font-size:11.2px;"><div class="cc"><span>.102<svg class="pm" width="10.2" height="7.6" viewBox="0 0 10.2 7.6"><path d="M1.1 3.75H9.1M1.1 7.25H9.1M5.1 0.2V7.25" stroke="#111" stroke-width="0.62"/></svg>.002</span></div></div><div class="t" style="left:506.00px;top:247.42px;font-size:11.2px;"><div class="cc"><span>.083<svg class="pm" width="10.2" height="7.6" viewBox="0 0 10.2 7.6"><path d="M1.1 3.75H9.1M1.1 7.25H9.1M5.1 0.2V7.25" stroke="#111" stroke-width="0.62"/></svg>.018</span></div></div><div class="t" style="left:559.40px;top:247.42px;font-size:11.2px;"><div class="cc"><span>.255<svg class="pm" width="10.2" height="7.6" viewBox="0 0 10.2 7.6"><path d="M1.1 3.75H9.1M1.1 7.25H9.1M5.1 0.2V7.25" stroke="#111" stroke-width="0.62"/></svg>.001</span></div></div><div class="t" style="left:613.50px;top:247.42px;font-size:11.2px;"><div class="cc"><span>.089<svg class="pm" width="10.2" height="7.6" viewBox="0 0 10.2 7.6"><path d="M1.1 3.75H9.1M1.1 7.25H9.1M5.1 0.2V7.25" stroke="#111" stroke-width="0.62"/></svg>.011</span></div></div><div class="t" style="left:382.50px;top:260.32px;font-size:11.2px;"><div class="cc"><span>TimeGAN-D</span></div></div><div class="t" style="left:454.40px;top:260.32px;font-size:11.2px;"><div class="cc"><span>.192<svg class="pm" width="10.2" height="7.6" viewBox="0 0 10.2 7.6"><path d="M1.1 3.75H9.1M1.1 7.25H9.1M5.1 0.2V7.25" stroke="#111" stroke-width="0.62"/></svg>.082</span></div></div><div class="t" style="left:506.00px;top:260.32px;font-size:11.2px;"><div class="cc"><span>.105<svg class="pm" width="10.2" height="7.6" viewBox="0 0 10.2 7.6"><path d="M1.1 3.75H9.1M1.1 7.25H9.1M5.1 0.2V7.25" stroke="#111" stroke-width="0.62"/></svg>.053</span></div></div><div class="t" style="left:559.40px;top:260.32px;font-size:11.2px;"><div class="cc"><span>.248<svg class="pm" width="10.2" height="7.6" viewBox="0 0 10.2 7.6"><path d="M1.1 3.75H9.1M1.1 7.25H9.1M5.1 0.2V7.25" stroke="#111" stroke-width="0.62"/></svg>.024</span></div></div><div class="t" style="left:613.50px;top:260.32px;font-size:11.2px;"><div class="cc"><span>.098<svg class="pm" width="10.2" height="7.6" viewBox="0 0 10.2 7.6"><path d="M1.1 3.75H9.1M1.1 7.25H9.1M5.1 0.2V7.25" stroke="#111" stroke-width="0.62"/></svg>.006</span></div></div><div class="t" style="left:382.50px;top:273.22px;font-size:11.2px;"><div class="cc"><span>RCGAN-D</span></div></div><div class="t" style="left:454.40px;top:273.22px;font-size:11.2px;"><div class="cc"><span>.388<svg class="pm" width="10.2" height="7.6" viewBox="0 0 10.2 7.6"><path d="M1.1 3.75H9.1M1.1 7.25H9.1M5.1 0.2V7.25" stroke="#111" stroke-width="0.62"/></svg>.113</span></div></div><div class="t" style="left:506.00px;top:273.22px;font-size:11.2px;"><div class="cc"><span>.523<svg class="pm" width="10.2" height="7.6" viewBox="0 0 10.2 7.6"><path d="M1.1 3.75H9.1M1.1 7.25H9.1M5.1 0.2V7.25" stroke="#111" stroke-width="0.62"/></svg>.020</span></div></div><div class="t" style="left:559.40px;top:273.22px;font-size:11.2px;"><div class="cc"><span>.409<svg class="pm" width="10.2" height="7.6" viewBox="0 0 10.2 7.6"><path d="M1.1 3.75H9.1M1.1 7.25H9.1M5.1 0.2V7.25" stroke="#111" stroke-width="0.62"/></svg>.020</span></div></div><div class="t" style="left:613.50px;top:273.22px;font-size:11.2px;"><div class="cc"><span>.361<svg class="pm" width="10.2" height="7.6" viewBox="0 0 10.2 7.6"><path d="M1.1 3.75H9.1M1.1 7.25H9.1M5.1 0.2V7.25" stroke="#111" stroke-width="0.62"/></svg>.073</span></div></div><div class="t" style="left:382.50px;top:286.12px;font-size:11.2px;"><div class="cc"><span>C-RNN-GAN-D</span></div></div><div class="t" style="left:454.40px;top:286.12px;font-size:11.2px;"><div class="cc"><span>.664<svg class="pm" width="10.2" height="7.6" viewBox="0 0 10.2 7.6"><path d="M1.1 3.75H9.1M1.1 7.25H9.1M5.1 0.2V7.25" stroke="#111" stroke-width="0.62"/></svg>.001</span></div></div><div class="t" style="left:506.00px;top:286.12px;font-size:11.2px;"><div class="cc"><span>.345<svg class="pm" width="10.2" height="7.6" viewBox="0 0 10.2 7.6"><path d="M1.1 3.75H9.1M1.1 7.25H9.1M5.1 0.2V7.25" stroke="#111" stroke-width="0.62"/></svg>.002</span></div></div><div class="t" style="left:559.40px;top:286.12px;font-size:11.2px;"><div class="cc"><span>.440<svg class="pm" width="10.2" height="7.6" viewBox="0 0 10.2 7.6"><path d="M1.1 3.75H9.1M1.1 7.25H9.1M5.1 0.2V7.25" stroke="#111" stroke-width="0.62"/></svg>.000</span></div></div><div class="t" style="left:613.50px;top:286.12px;font-size:11.2px;"><div class="cc"><span>.457<svg class="pm" width="10.2" height="7.6" viewBox="0 0 10.2 7.6"><path d="M1.1 3.75H9.1M1.1 7.25H9.1M5.1 0.2V7.25" stroke="#111" stroke-width="0.62"/></svg>.001</span></div></div><div class="t" style="left:382.50px;top:299.02px;font-size:11.2px;"><div class="cc"><span>T-Forcing-D</span></div></div><div class="t" style="left:454.40px;top:299.02px;font-size:11.2px;"><div class="cc"><span>.100<svg class="pm" width="10.2" height="7.6" viewBox="0 0 10.2 7.6"><path d="M1.1 3.75H9.1M1.1 7.25H9.1M5.1 0.2V7.25" stroke="#111" stroke-width="0.62"/></svg>.002</span></div></div><div class="t" style="left:506.00px;top:299.02px;font-size:11.2px;"><div class="cc"><span>.027<svg class="pm" width="10.2" height="7.6" viewBox="0 0 10.2 7.6"><path d="M1.1 3.75H9.1M1.1 7.25H9.1M5.1 0.2V7.25" stroke="#111" stroke-width="0.62"/></svg>.002</span></div></div><div class="t" style="left:559.40px;top:299.02px;font-size:11.2px;"><div class="cc"><span>.090<svg class="pm" width="10.2" height="7.6" viewBox="0 0 10.2 7.6"><path d="M1.1 3.75H9.1M1.1 7.25H9.1M5.1 0.2V7.25" stroke="#111" stroke-width="0.62"/></svg>.001</span></div></div><div class="t" style="left:613.50px;top:299.02px;font-size:11.2px;"><div class="cc"><span>.100<svg class="pm" width="10.2" height="7.6" viewBox="0 0 10.2 7.6"><path d="M1.1 3.75H9.1M1.1 7.25H9.1M5.1 0.2V7.25" stroke="#111" stroke-width="0.62"/></svg>.001</span></div></div><div class="t" style="left:382.50px;top:311.92px;font-size:11.2px;"><div class="cc"><span>P-Forcing-D</span></div></div><div class="t" style="left:454.40px;top:311.92px;font-size:11.2px;"><div class="cc"><span>.154<svg class="pm" width="10.2" height="7.6" viewBox="0 0 10.2 7.6"><path d="M1.1 3.75H9.1M1.1 7.25H9.1M5.1 0.2V7.25" stroke="#111" stroke-width="0.62"/></svg>.004</span></div></div><div class="t" style="left:506.00px;top:311.92px;font-size:11.2px;"><div class="cc"><span>.079<svg class="pm" width="10.2" height="7.6" viewBox="0 0 10.2 7.6"><path d="M1.1 3.75H9.1M1.1 7.25H9.1M5.1 0.2V7.25" stroke="#111" stroke-width="0.62"/></svg>.008</span></div></div><div class="t" style="left:559.40px;top:311.92px;font-size:11.2px;"><div class="cc"><span>.147<svg class="pm" width="10.2" height="7.6" viewBox="0 0 10.2 7.6"><path d="M1.1 3.75H9.1M1.1 7.25H9.1M5.1 0.2V7.25" stroke="#111" stroke-width="0.62"/></svg>.001</span></div></div><div class="t" style="left:613.50px;top:311.92px;font-size:11.2px;"><div class="cc"><span>.173<svg class="pm" width="10.2" height="7.6" viewBox="0 0 10.2 7.6"><path d="M1.1 3.75H9.1M1.1 7.25H9.1M5.1 0.2V7.25" stroke="#111" stroke-width="0.62"/></svg>.002</span></div></div><div class="t" style="left:382.50px;top:324.72px;font-size:11.2px;"><div class="cc"><span>Original</span></div></div><div class="t" style="left:454.40px;top:324.72px;font-size:11.2px;"><div class="cc"><span>.071<svg class="pm" width="10.2" height="7.6" viewBox="0 0 10.2 7.6"><path d="M1.1 3.75H9.1M1.1 7.25H9.1M5.1 0.2V7.25" stroke="#111" stroke-width="0.62"/></svg>.004</span></div></div><div class="t" style="left:506.00px;top:324.72px;font-size:11.2px;"><div class="cc"><span>.011<svg class="pm" width="10.2" height="7.6" viewBox="0 0 10.2 7.6"><path d="M1.1 3.75H9.1M1.1 7.25H9.1M5.1 0.2V7.25" stroke="#111" stroke-width="0.62"/></svg>.002</span></div></div><div class="t" style="left:559.40px;top:324.72px;font-size:11.2px;"><div class="cc"><span>.045<svg class="pm" width="10.2" height="7.6" viewBox="0 0 10.2 7.6"><path d="M1.1 3.75H9.1M1.1 7.25H9.1M5.1 0.2V7.25" stroke="#111" stroke-width="0.62"/></svg>.001</span></div></div><div class="t" style="left:613.50px;top:324.72px;font-size:11.2px;"><div class="cc"><span>.041<svg class="pm" width="10.2" height="7.6" viewBox="0 0 10.2 7.6"><path d="M1.1 3.75H9.1M1.1 7.25H9.1M5.1 0.2V7.25" stroke="#111" stroke-width="0.62"/></svg>.002</span></div></div><div class="rot" style="left:331.20px;top:102.50px;font-size:11.2px"><div class="cc2">Discriminative Score</div></div><div class="rot" style="left:331.00px;top:248.00px;font-size:11.2px"><div class="cc2">Predictive Score</div></div><svg class="p" width="640" height="621"><rect x="13.00" y="55.55" width="289.50" height="1.30" fill="#3a3a3a"/><rect x="13.00" y="69.20" width="289.50" height="1.20" fill="#555"/><rect x="24.40" y="82.90" width="278.10" height="1.00" fill="#5a5a5a"/><rect x="13.00" y="173.15" width="289.50" height="1.30" fill="#6a6a6a"/><rect x="13.00" y="176.55" width="289.50" height="1.10" fill="#555"/><rect x="24.40" y="189.80" width="278.10" height="1.00" fill="#5a5a5a"/><rect x="24.40" y="280.25" width="278.10" height="1.20" fill="#555"/><rect x="13.00" y="293.00" width="289.50" height="1.50" fill="#3a3a3a"/><rect x="324.00" y="16.95" width="315.20" height="1.30" fill="#3a3a3a"/><rect x="324.00" y="30.80" width="315.20" height="1.20" fill="#555"/><rect x="335.00" y="44.00" width="304.20" height="1.00" fill="#5a5a5a"/><rect x="335.00" y="108.85" width="304.20" height="1.10" fill="#555"/><rect x="324.00" y="173.05" width="315.20" height="1.30" fill="#6a6a6a"/><rect x="324.00" y="176.45" width="315.20" height="1.10" fill="#555"/><rect x="335.00" y="189.90" width="304.20" height="1.00" fill="#5a5a5a"/><rect x="335.00" y="254.55" width="304.20" height="1.10" fill="#555"/><rect x="335.00" y="318.95" width="304.20" height="1.10" fill="#555"/><rect x="324.00" y="331.75" width="315.20" height="1.50" fill="#3a3a3a"/></svg><svg class="p s" width="640" height="621" viewBox="0 0 640 621" font-family='"Liberation Sans", sans-serif'><line x1="19.2" y1="356.6" x2="149" y2="356.6" stroke="#e6e6e6" stroke-width="1"/><line x1="19.2" y1="356.6" x2="19.2" y2="452.7" stroke="#777" stroke-width="1"/><line x1="149" y1="356.6" x2="149" y2="452.7" stroke="#8a8a8a" stroke-width="1.6"/><path d="M38.2 385.2h0M36.7 386.3h0M35.9 386.9h0M70.0 384.9h0M64.4 382.4h0M63.0 382.3h0M61.5 382.7h0M63.8 378.2h0M39.5 389.6h0M62.6 381.8h0M50.5 381.6h0M73.2 387.3h0M43.5 385.9h0M67.8 379.9h0M34.9 391.1h0M39.0 387.4h0M71.2 381.5h0M31.2 390.0h0M29.8 390.2h0M30.7 392.7h0M59.2 382.8h0M57.6 383.0h0M74.8 383.6h0M75.5 389.8h0M26.0 405.0h0M41.2 435.0h0M45.4 445.5h0M62.4 441.8h0M44.1 431.6h0M62.6 447.1h0M62.9 448.6h0M31.8 414.5h0M37.4 416.2h0M35.6 421.9h0M29.3 413.8h0M63.0 450.8h0M34.0 410.3h0M36.2 413.1h0M35.2 413.0h0M36.4 426.5h0M58.7 444.2h0M39.6 430.7h0M38.4 433.5h0M37.9 421.1h0M37.3 421.3h0M40.0 426.4h0M38.0 419.4h0M33.4 415.6h0M34.2 416.7h0M38.5 423.6h0M40.5 423.6h0M50.3 436.1h0M30.5 420.7h0M55.0 442.7h0M31.8 413.7h0M31.2 418.7h0M36.7 426.5h0M37.3 426.8h0M38.8 427.6h0M40.6 433.3h0M68.2 431.3h0M63.6 415.2h0M64.0 415.9h0M64.6 417.6h0M67.5 420.9h0M75.6 435.2h0M75.6 437.9h0M58.4 409.2h0M61.0 412.3h0M56.9 406.5h0M67.7 422.8h0M70.2 428.9h0M67.6 416.2h0M65.9 416.3h0M76.1 436.3h0M60.8 408.1h0M73.4 429.8h0M62.2 414.4h0M69.9 425.1h0M84.2 409.7h0M84.0 410.8h0M135.1 405.3h0M62.5 410.7h0M125.5 403.6h0M100.1 412.4h0M129.4 406.3h0M94.0 411.7h0M109.4 413.7h0M87.9 418.2h0M87.3 419.2h0M90.0 411.7h0M75.3 413.9h0M139.8 406.3h0M94.5 415.8h0M93.6 416.8h0M100.4 415.0h0M99.2 415.6h0M84.4 414.9h0M96.2 414.2h0M81.3 413.8h0M82.0 414.8h0M89.9 416.3h0M66.7 412.7h0M109.9 411.3h0M109.1 411.7h0M107.9 412.6h0M105.8 411.8h0M128.8 401.7h0M119.7 408.0h0M130.1 399.3h0M121.9 407.0h0M99.7 414.6h0M98.4 414.2h0M64.0 403.5h0M68.8 409.9h0M66.6 410.8h0M65.7 415.5h0M66.6 415.9h0M70.0 411.4h0M110.7 411.0h0M58.3 412.2h0M125.1 410.1h0M113.1 412.9h0M61.2 409.4h0M139.3 404.5h0M74.4 414.0h0M74.8 415.7h0M88.7 415.0h0M120.6 408.8h0M123.7 415.1h0M127.7 408.6h0M70.9 409.4h0M78.9 418.7h0M87.7 414.4h0M76.3 411.1h0M90.6 409.2h0M95.1 410.5h0M135.4 399.4h0M69.4 410.0h0M75.9 420.2h0M75.3 421.0h0M84.5 412.2h0M107.3 374.6h0M107.4 369.5h0M128.2 384.6h0M128.0 386.5h0M97.1 356.2h0M129.5 379.0h0M130.0 380.3h0M132.6 389.6h0M127.7 388.2h0M112.8 377.5h0M114.1 369.8h0M125.2 386.6h0M129.0 384.1h0M126.5 391.3h0M134.1 395.6h0M119.1 390.2h0M72.2 363.1h0M95.1 372.7h0M106.1 387.0h0M107.6 388.4h0M122.9 381.4h0M125.1 382.6h0M83.4 365.1h0M84.9 365.3h0M101.6 384.0h0M79.2 365.6h0M74.4 372.4h0M104.0 380.4h0M88.7 367.1h0M70.7 366.4h0M68.6 367.0h0M137.9 407.1h0M144.3 393.4h0M125.9 406.2h0M139.7 396.2h0M129.2 393.0h0" stroke="#ff0000" stroke-opacity="0.5" stroke-width="2.20" stroke-linecap="round" fill="none"/><path d="M41.3 382.5h0M45.8 382.8h0M62.2 380.3h0M76.4 389.6h0M49.0 383.1h0M66.8 380.3h0M65.6 380.2h0M37.8 388.4h0M36.4 388.8h0M29.3 392.4h0M50.7 381.0h0M71.8 382.6h0M35.9 388.6h0M58.4 382.8h0M74.7 383.3h0M78.4 386.7h0M66.0 379.5h0M75.2 388.6h0M55.1 382.4h0M39.6 424.1h0M40.7 424.4h0M41.2 425.8h0M46.4 446.6h0M28.8 406.3h0M27.1 406.6h0M27.0 413.3h0M38.0 414.5h0M33.2 420.7h0M34.7 421.6h0M28.4 414.2h0M52.8 445.3h0M51.8 446.2h0M50.8 447.3h0M58.4 445.6h0M36.6 424.6h0M41.6 424.0h0M58.5 445.3h0M39.3 432.4h0M59.4 442.8h0M37.7 419.6h0M34.0 425.2h0M37.4 422.4h0M44.5 426.5h0M38.8 420.4h0M31.8 415.9h0M31.5 416.7h0M61.4 441.6h0M40.6 424.9h0M49.9 435.0h0M29.6 410.5h0M49.2 442.8h0M25.2 412.5h0M41.1 432.1h0M37.8 431.1h0M40.0 431.5h0M62.5 415.2h0M69.7 431.6h0M66.3 418.1h0M66.5 419.8h0M66.9 420.8h0M66.4 418.9h0M57.8 407.6h0M57.3 407.6h0M68.0 430.1h0M76.0 438.5h0M76.1 435.0h0M68.3 428.5h0M63.9 416.9h0M65.1 417.5h0M54.2 409.7h0M55.6 411.0h0M69.4 422.9h0M75.4 439.2h0M80.9 435.6h0M70.0 423.6h0M113.4 411.5h0M128.8 404.8h0M134.4 404.3h0M79.2 415.0h0M96.7 410.3h0M124.5 404.0h0M110.0 407.5h0M132.8 405.4h0M77.8 415.3h0M94.0 410.3h0M72.7 414.5h0M68.0 412.2h0M140.7 406.1h0M128.2 405.7h0M125.6 407.5h0M80.9 411.6h0M80.3 410.2h0M80.0 411.6h0M97.8 415.2h0M123.7 409.6h0M126.1 410.2h0M107.1 408.3h0M96.5 411.4h0M81.1 412.0h0M133.8 403.1h0M81.3 413.1h0M87.6 412.2h0M88.3 413.6h0M80.4 413.7h0M106.7 412.8h0M107.4 413.6h0M112.8 412.2h0M133.5 406.6h0M132.4 407.7h0M119.5 405.4h0M89.2 413.3h0M67.9 410.6h0M82.6 414.3h0M110.3 413.6h0M99.0 412.7h0M74.1 414.7h0M60.2 408.2h0M137.6 403.3h0M142.3 410.4h0M93.1 414.5h0M138.6 399.6h0M137.9 400.6h0M101.5 410.7h0M100.9 412.9h0M88.9 416.6h0M124.0 414.3h0M69.9 408.2h0M89.8 414.3h0M90.9 415.6h0M138.7 399.7h0M96.8 420.1h0M103.9 411.3h0M72.1 416.2h0M94.6 412.6h0M135.3 400.1h0M125.8 408.4h0M74.5 422.0h0M136.2 404.9h0M60.2 409.6h0M136.1 388.9h0M112.7 370.3h0M117.9 376.5h0M125.4 382.8h0M103.5 376.5h0M100.2 376.8h0M120.5 373.9h0M113.9 365.0h0M127.2 384.0h0M106.9 360.7h0M135.6 385.0h0M134.3 386.4h0M139.2 381.4h0M142.3 394.6h0M127.8 393.2h0M123.0 394.3h0M117.8 394.8h0M73.6 362.5h0M123.8 382.4h0M103.5 383.5h0M100.9 381.9h0M100.6 382.9h0M113.9 389.9h0M75.6 366.8h0M117.9 392.1h0M83.6 367.4h0M110.6 391.5h0M112.2 392.3h0M93.1 371.3h0M110.6 388.6h0M80.9 367.5h0M73.6 373.5h0M81.3 363.2h0M80.5 363.8h0M70.1 366.2h0M135.2 398.9h0M139.0 406.6h0M136.4 383.4h0M142.8 393.4h0M138.5 396.5h0M126.9 386.1h0M139.5 395.2h0M138.6 402.1h0" stroke="#ff0000" stroke-opacity="0.5" stroke-width="2.20" stroke-linecap="round" fill="none"/><path d="M46.7 383.0h0M44.7 387.3h0M58.9 381.2h0M33.5 393.5h0M32.0 394.6h0M38.7 387.9h0M36.3 390.2h0M42.2 382.0h0M50.5 382.0h0M41.8 387.7h0M73.9 383.8h0M43.5 437.6h0M62.8 443.3h0M43.3 431.7h0M63.5 449.6h0M29.8 406.1h0M51.1 439.2h0M52.0 440.2h0M32.1 407.7h0M46.1 440.1h0M63.8 445.8h0M27.2 415.5h0M63.5 449.2h0M35.7 410.5h0M35.8 424.6h0M35.5 426.1h0M62.5 443.6h0M49.7 438.4h0M49.2 434.6h0M42.8 444.3h0M33.4 423.7h0M42.7 425.2h0M54.4 438.8h0M62.7 439.5h0M62.1 441.0h0M41.1 422.5h0M51.6 436.6h0M29.6 422.0h0M31.0 416.0h0M32.2 419.3h0M35.2 418.5h0M36.4 418.7h0M24.7 411.0h0M40.7 429.8h0M64.6 413.2h0M63.8 414.1h0M71.9 429.4h0M66.3 417.9h0M76.0 436.3h0M76.9 437.8h0M59.8 411.7h0M73.7 430.5h0M73.7 431.5h0M56.0 405.5h0M72.9 431.1h0M66.6 422.4h0M68.8 429.1h0M77.5 433.8h0M68.7 427.4h0M67.4 429.5h0M61.7 405.9h0M61.4 408.4h0M64.8 413.7h0M72.9 431.5h0M75.6 440.2h0M79.1 436.6h0M78.4 437.4h0M128.3 403.0h0M59.5 407.6h0M134.5 403.1h0M134.4 404.3h0M62.9 409.2h0M62.8 412.2h0M117.8 410.7h0M110.7 408.2h0M60.8 404.3h0M132.7 406.9h0M128.5 407.1h0M87.3 416.1h0M109.5 415.1h0M88.2 417.2h0M79.6 417.6h0M101.3 407.9h0M71.7 414.6h0M91.8 410.9h0M92.3 412.4h0M133.6 406.5h0M80.1 412.8h0M95.1 414.0h0M76.3 411.2h0M86.5 415.4h0M70.3 411.2h0M95.8 415.4h0M90.7 416.4h0M88.7 416.7h0M126.3 412.7h0M77.8 406.6h0M81.3 415.2h0M81.6 416.2h0M81.5 418.8h0M110.5 411.7h0M120.9 405.7h0M76.1 412.4h0M76.4 413.8h0M90.7 413.0h0M85.8 412.9h0M87.1 413.2h0M139.6 402.4h0M140.2 403.3h0M68.8 411.5h0M110.5 412.4h0M60.0 412.2h0M67.0 405.9h0M68.1 406.4h0M69.3 406.6h0M90.8 414.2h0M90.5 414.7h0M98.3 415.4h0M98.7 416.6h0M81.6 412.5h0M125.5 408.9h0M138.9 402.9h0M59.1 407.7h0M74.0 413.3h0M91.0 412.4h0M120.2 407.7h0M126.9 410.1h0M123.7 413.5h0M72.0 410.2h0M63.2 407.2h0M62.5 408.0h0M61.9 409.6h0M80.5 420.8h0M137.4 399.3h0M90.8 414.1h0M76.5 412.3h0M75.7 412.8h0M94.9 411.8h0M96.0 411.6h0M107.0 368.8h0M117.9 373.6h0M117.0 375.0h0M132.2 388.5h0M128.9 387.2h0M92.0 368.1h0M100.4 378.4h0M107.3 375.6h0M120.0 375.2h0M126.5 369.2h0M127.8 369.0h0M98.9 363.7h0M130.9 375.9h0M125.8 387.5h0M125.7 380.8h0M129.8 383.7h0M141.2 394.8h0M126.3 392.1h0M119.5 394.9h0M120.8 390.6h0M105.2 379.5h0M71.8 360.1h0M72.1 360.8h0M102.6 384.1h0M115.1 390.7h0M73.1 369.1h0M77.4 369.0h0M117.5 389.2h0M117.6 391.3h0M81.9 371.8h0M109.2 391.8h0M104.7 380.7h0M88.1 367.3h0M86.0 368.0h0M83.1 363.1h0M136.4 384.4h0M133.0 395.5h0M130.8 394.5h0M125.0 405.1h0M125.9 385.8h0M136.2 399.4h0M135.3 396.3h0M133.3 395.7h0" stroke="#ff0000" stroke-opacity="0.5" stroke-width="2.20" stroke-linecap="round" fill="none"/><path d="M69.6 382.3h0M69.8 383.4h0M35.8 389.2h0M62.7 379.3h0M75.7 389.4h0M34.9 393.9h0M49.2 382.8h0M63.2 382.1h0M64.0 382.8h0M65.5 383.7h0M40.1 387.3h0M71.4 384.1h0M36.4 389.6h0M57.9 384.1h0M75.6 382.8h0M73.3 383.3h0M75.1 387.5h0M42.1 428.1h0M41.8 436.0h0M61.0 445.8h0M25.8 412.6h0M27.6 414.6h0M51.1 440.3h0M33.6 407.5h0M60.6 443.5h0M61.0 444.2h0M63.0 447.9h0M63.4 448.3h0M33.6 408.7h0M33.0 410.5h0M56.1 445.6h0M28.8 404.7h0M29.8 405.8h0M34.9 425.2h0M35.0 425.0h0M58.9 442.6h0M60.9 443.7h0M32.9 422.6h0M44.2 427.9h0M31.8 402.9h0M41.7 425.4h0M37.6 418.1h0M29.7 409.8h0M50.1 442.2h0M48.2 443.9h0M39.7 429.3h0M39.1 431.4h0M68.8 431.1h0M68.3 422.1h0M66.3 417.7h0M66.2 420.3h0M65.7 415.1h0M63.9 415.5h0M63.1 415.6h0M67.0 413.8h0M67.5 414.8h0M66.4 417.8h0M56.7 412.0h0M63.2 415.2h0M72.3 432.6h0M81.7 414.0h0M79.9 414.6h0M83.9 412.7h0M112.9 415.8h0M99.6 413.3h0M108.5 409.9h0M59.7 405.6h0M93.9 416.2h0M94.1 417.0h0M94.0 412.9h0M100.3 407.9h0M91.0 413.4h0M127.4 406.8h0M138.0 402.8h0M80.7 410.5h0M134.4 406.4h0M109.9 409.4h0M124.9 409.9h0M108.5 408.4h0M69.4 410.9h0M94.2 416.5h0M90.5 414.7h0M78.8 411.0h0M79.7 412.0h0M103.9 407.5h0M89.0 414.6h0M112.3 411.6h0M127.4 400.8h0M129.4 401.5h0M83.6 414.3h0M84.4 412.5h0M139.6 405.4h0M128.9 405.9h0M125.8 409.4h0M124.9 410.5h0M124.2 410.8h0M98.1 414.1h0M130.4 405.4h0M139.8 399.1h0M101.3 411.9h0M127.1 408.8h0M124.1 412.2h0M84.5 411.0h0M104.8 407.6h0M139.5 399.2h0M89.4 413.5h0M90.6 410.3h0M68.2 411.7h0M131.3 401.0h0M57.7 408.7h0M59.0 409.7h0M134.5 389.1h0M106.2 377.4h0M105.7 378.7h0M109.2 364.0h0M110.2 364.6h0M133.2 387.6h0M129.3 388.2h0M103.3 375.9h0M112.5 377.9h0M107.1 377.1h0M132.9 390.9h0M114.4 377.3h0M107.4 361.6h0M105.1 371.5h0M139.0 386.7h0M139.9 393.6h0M126.7 392.4h0M79.2 360.9h0M80.6 361.0h0M81.7 361.2h0M119.2 393.3h0M118.1 393.0h0M141.3 394.8h0M139.8 394.4h0M138.6 395.2h0M100.0 383.9h0M116.0 391.9h0M94.2 377.0h0M112.2 389.3h0M76.1 364.8h0M74.4 368.1h0M81.0 371.2h0M94.0 371.3h0M80.2 366.7h0M105.9 381.5h0M132.5 396.3h0M130.6 395.4h0M124.5 399.6h0M121.8 398.1h0M141.2 403.1h0M121.2 387.4h0M141.3 392.2h0" stroke="#ff0000" stroke-opacity="0.5" stroke-width="2.20" stroke-linecap="round" fill="none"/><path d="M37.0 386.4h0M32.3 389.5h0M33.5 390.2h0M35.3 394.1h0M36.2 395.2h0M54.1 380.2h0M51.3 380.4h0M73.5 386.1h0M63.4 382.5h0M43.4 383.1h0M35.0 393.4h0M47.7 384.9h0M43.4 385.0h0M70.9 385.0h0M74.6 387.3h0M38.6 386.8h0M65.5 383.7h0M66.0 383.7h0M53.3 384.9h0M34.7 395.0h0M77.5 389.8h0M64.9 381.0h0M53.9 388.7h0M53.5 388.3h0M53.1 388.9h0M42.5 434.0h0M28.7 410.1h0M52.4 436.6h0M46.6 442.6h0M55.3 448.1h0M38.2 417.9h0M37.8 419.7h0M36.2 420.0h0M32.3 410.1h0M31.6 412.5h0M55.9 442.1h0M35.6 416.3h0M59.3 443.8h0M38.3 433.2h0M33.1 420.5h0M31.1 408.4h0M55.8 446.3h0M41.5 425.8h0M26.6 410.6h0M51.3 438.5h0M43.6 429.4h0M37.0 429.3h0M40.2 439.3h0M55.1 444.9h0M53.2 433.0h0M64.1 442.0h0M34.9 414.2h0M33.4 415.0h0M29.5 420.4h0M52.4 437.6h0M54.2 439.5h0M37.3 426.3h0M43.1 428.5h0M32.4 423.7h0M58.7 409.1h0M67.7 413.1h0M67.1 421.2h0M75.0 435.1h0M56.6 407.7h0M59.1 413.2h0M80.8 435.9h0M62.9 414.5h0M71.3 428.0h0M76.4 431.1h0M74.9 433.7h0M62.7 412.5h0M65.6 414.4h0M60.3 414.8h0M58.9 415.5h0M60.1 409.7h0M68.8 423.8h0M74.4 435.3h0M65.0 416.8h0M58.8 409.2h0M62.7 413.0h0M61.7 409.2h0M63.1 413.2h0M88.3 375.8h0M125.1 390.4h0M104.0 374.5h0M102.3 374.6h0M84.7 374.5h0M83.5 377.0h0M101.7 381.0h0M85.7 376.3h0M126.6 394.1h0M126.7 395.6h0M107.8 384.9h0M108.9 385.8h0M123.8 387.4h0M90.2 375.5h0M91.6 375.4h0M75.3 371.6h0M74.6 371.9h0M117.0 390.5h0M103.2 381.7h0M69.3 361.6h0M124.0 393.0h0M93.8 379.1h0M78.2 367.0h0M87.4 371.9h0M88.4 376.3h0M88.4 378.2h0M71.0 362.8h0M65.7 365.8h0M114.4 384.7h0M94.5 379.8h0M98.3 380.5h0M107.7 383.1h0M79.4 368.5h0M105.9 386.1h0M104.1 383.4h0M132.0 391.8h0M75.4 361.3h0M75.5 362.3h0M107.0 383.0h0M116.8 381.9h0M82.0 369.2h0M78.2 363.4h0M76.6 364.4h0M92.7 380.0h0M140.5 396.4h0M137.3 397.1h0M135.9 398.2h0M126.2 397.4h0M120.4 400.9h0M84.7 403.3h0M85.3 404.6h0M111.2 399.0h0M132.7 395.7h0M138.5 401.5h0M98.3 397.4h0M99.6 400.1h0M85.9 399.4h0M99.5 405.3h0M92.1 395.8h0M91.1 397.8h0M89.4 401.6h0M86.2 402.0h0M95.2 400.2h0M93.1 393.6h0M120.9 398.5h0M120.3 407.9h0M84.7 414.8h0M116.7 409.9h0M95.6 412.7h0M123.2 407.2h0M77.1 414.6h0" stroke="#0000ff" stroke-opacity="0.5" stroke-width="2.20" stroke-linecap="round" fill="none"/><path d="M46.4 389.0h0M75.3 385.7h0M67.0 382.0h0M49.9 382.1h0M64.4 380.5h0M65.2 381.2h0M74.1 386.9h0M74.5 388.1h0M43.2 383.5h0M30.5 392.4h0M69.2 380.6h0M69.3 381.5h0M69.7 383.3h0M48.2 383.9h0M46.7 380.8h0M47.3 382.2h0M42.6 385.5h0M66.3 381.0h0M29.8 388.1h0M72.5 387.0h0M77.0 391.6h0M78.5 391.8h0M44.8 387.3h0M58.0 376.4h0M39.9 386.0h0M40.7 387.0h0M41.2 384.4h0M68.8 382.7h0M33.6 396.9h0M53.8 383.3h0M52.2 380.6h0M79.4 388.3h0M56.9 378.8h0M57.6 380.1h0M47.3 388.4h0M48.3 388.8h0M56.7 384.5h0M48.2 391.8h0M49.4 390.2h0M43.7 435.0h0M28.0 410.9h0M38.9 433.7h0M38.5 428.2h0M39.4 430.6h0M54.7 443.2h0M31.4 401.5h0M31.4 402.9h0M32.5 418.8h0M26.7 402.9h0M29.4 403.9h0M51.3 451.6h0M37.5 423.3h0M36.7 423.9h0M41.2 427.0h0M28.8 413.6h0M27.7 410.7h0M49.4 438.7h0M31.4 402.8h0M28.0 402.8h0M30.4 416.2h0M34.3 429.4h0M35.8 429.1h0M53.2 443.5h0M32.9 411.0h0M53.0 439.0h0M41.8 435.8h0M43.1 434.1h0M41.8 429.4h0M45.2 433.4h0M31.8 423.1h0M60.0 405.2h0M79.4 436.6h0M80.6 435.9h0M63.0 412.7h0M68.0 424.5h0M70.0 428.1h0M69.4 428.6h0M64.4 413.1h0M63.1 421.7h0M75.3 436.4h0M75.5 439.8h0M73.8 440.7h0M54.6 409.2h0M53.7 410.3h0M71.4 425.3h0M79.5 433.4h0M69.6 421.4h0M69.6 427.8h0M68.6 419.5h0M78.9 437.9h0M64.3 418.4h0M71.5 426.7h0M75.1 432.5h0M59.8 410.0h0M86.9 375.9h0M71.2 360.7h0M95.0 380.7h0M109.0 379.8h0M135.8 392.4h0M104.7 374.5h0M120.9 384.1h0M85.8 375.0h0M136.2 398.2h0M65.2 368.2h0M100.7 383.5h0M115.8 385.1h0M102.2 384.2h0M106.9 388.4h0M66.8 371.1h0M66.8 372.7h0M82.6 367.8h0M82.0 374.5h0M76.5 370.6h0M104.4 382.6h0M94.3 374.8h0M100.8 383.2h0M100.5 384.1h0M91.9 381.7h0M84.4 373.0h0M85.8 374.3h0M93.8 377.9h0M93.2 378.1h0M84.6 376.2h0M123.6 394.2h0M123.3 395.7h0M95.7 380.4h0M78.5 360.9h0M121.5 382.9h0M120.8 384.0h0M88.3 367.6h0M87.6 368.7h0M134.5 396.0h0M115.0 390.3h0M116.4 391.2h0M81.6 368.6h0M74.6 368.2h0M67.7 365.0h0M66.7 365.4h0M113.7 385.8h0M139.5 394.9h0M105.6 387.5h0M101.7 381.9h0M123.3 395.9h0M85.6 369.4h0M73.7 361.8h0M69.6 361.6h0M99.0 380.0h0M81.8 367.4h0M103.7 384.6h0M131.5 392.9h0M95.5 381.0h0M109.1 387.0h0M76.3 362.7h0M86.4 373.9h0M139.4 396.0h0M105.7 399.5h0M102.6 403.0h0M128.3 397.9h0M139.5 402.9h0M137.2 403.5h0M99.2 398.7h0M140.4 396.8h0M114.7 399.4h0M113.4 398.8h0M100.4 403.7h0M88.6 400.6h0M129.2 400.8h0M129.5 401.8h0M97.0 389.1h0M94.4 392.2h0M90.7 395.2h0M90.2 396.4h0M98.9 394.1h0M94.2 395.5h0M87.0 395.2h0M102.2 401.2h0M117.9 400.3h0M98.7 404.7h0M120.4 401.6h0M121.7 407.8h0M107.2 406.1h0M95.0 411.8h0M91.0 412.1h0M99.5 407.7h0M77.7 412.2h0M78.5 411.9h0M90.7 413.4h0M125.1 407.9h0M125.6 409.4h0" stroke="#0000ff" stroke-opacity="0.5" stroke-width="2.20" stroke-linecap="round" fill="none"/><path d="M71.2 388.4h0M46.7 387.2h0M75.0 384.1h0M68.8 381.8h0M55.0 381.3h0M38.0 387.2h0M58.5 383.5h0M42.4 387.5h0M35.0 390.0h0M36.3 396.0h0M76.1 385.5h0M77.3 390.1h0M32.6 391.2h0M33.7 391.9h0M43.5 383.9h0M53.8 380.4h0M74.7 386.5h0M75.3 387.8h0M43.9 383.0h0M65.9 378.2h0M66.7 379.7h0M72.4 383.4h0M72.0 384.7h0M72.2 386.4h0M28.9 387.8h0M43.8 387.2h0M47.1 380.8h0M48.0 382.3h0M53.5 377.0h0M36.6 385.6h0M60.1 382.7h0M58.8 382.9h0M37.8 386.6h0M77.9 389.9h0M40.6 383.2h0M69.7 380.0h0M69.7 381.2h0M33.3 395.9h0M77.9 389.3h0M56.9 378.0h0M77.9 391.0h0M53.2 387.5h0M51.9 387.4h0M54.9 386.3h0M53.9 387.3h0M48.6 391.1h0M47.4 434.3h0M46.8 435.4h0M31.7 411.3h0M43.1 433.2h0M34.9 415.1h0M40.4 427.0h0M39.6 427.6h0M49.1 439.1h0M29.3 405.3h0M40.6 430.9h0M38.9 437.6h0M31.8 414.9h0M32.4 416.7h0M32.4 419.7h0M54.2 445.9h0M56.9 446.1h0M27.8 403.9h0M52.3 450.5h0M35.0 424.0h0M40.6 436.4h0M41.2 437.4h0M44.5 421.5h0M52.3 439.1h0M30.8 404.4h0M45.3 426.5h0M31.4 416.8h0M32.6 417.4h0M53.8 442.1h0M51.9 432.4h0M35.4 417.8h0M61.1 440.9h0M63.2 441.8h0M32.9 409.9h0M30.9 421.3h0M32.5 421.1h0M58.6 441.8h0M55.6 442.4h0M37.8 426.0h0M38.4 427.3h0M39.8 428.3h0M48.0 433.5h0M45.8 434.1h0M47.1 435.2h0M37.9 417.5h0M59.3 406.1h0M69.8 422.5h0M63.5 411.5h0M69.3 423.3h0M76.9 438.6h0M64.8 415.4h0M57.6 405.2h0M57.0 406.7h0M77.1 433.2h0M67.8 422.2h0M67.7 418.8h0M80.8 437.3h0M63.4 414.0h0M61.3 416.9h0M61.6 414.1h0M62.8 415.3h0M61.3 413.8h0M58.2 407.4h0M57.8 408.8h0M59.7 408.6h0M67.7 424.7h0M60.4 411.0h0M61.4 413.9h0M60.2 413.9h0M71.3 362.1h0M96.9 381.6h0M97.0 380.4h0M96.3 380.8h0M85.3 376.1h0M65.9 367.5h0M108.1 383.7h0M86.5 377.4h0M115.5 386.4h0M92.2 375.7h0M111.5 390.3h0M126.8 393.3h0M106.7 385.5h0M71.5 367.2h0M121.2 387.9h0M105.5 383.8h0M114.5 382.3h0M115.1 384.0h0M87.3 373.1h0M88.0 374.2h0M101.0 377.8h0M88.9 374.8h0M134.0 393.9h0M98.4 379.3h0M89.4 378.5h0M90.8 378.1h0M79.9 366.4h0M75.0 368.3h0M112.1 386.6h0M139.4 396.6h0M138.9 397.7h0M123.3 392.6h0M124.1 396.4h0M125.4 396.0h0M109.0 383.7h0M130.6 396.8h0M80.8 367.6h0M103.6 385.4h0M118.8 383.9h0M121.0 384.7h0M115.7 386.3h0M95.4 379.5h0M109.8 387.5h0M112.2 386.9h0M112.7 387.7h0M87.9 374.3h0M88.9 374.2h0M106.2 381.2h0M94.8 378.5h0M81.3 369.9h0M78.2 363.8h0M106.7 398.7h0M121.1 400.0h0M87.6 401.5h0M83.6 402.2h0M118.9 400.9h0M101.9 401.6h0M128.0 398.6h0M128.3 400.1h0M137.5 402.3h0M140.5 394.9h0M101.2 403.4h0M98.1 397.3h0M91.6 396.9h0M87.9 402.9h0M94.4 401.9h0M93.7 402.4h0M88.4 395.6h0M98.8 393.3h0M87.5 394.0h0M117.9 402.3h0M117.6 402.6h0M117.2 400.6h0M97.0 402.2h0M119.1 402.1h0M119.7 407.8h0M95.6 414.7h0M114.3 411.5h0M99.1 406.6h0M100.7 408.6h0M76.6 411.8h0M122.1 406.5h0M113.3 404.8h0M82.4 412.6h0" stroke="#0000ff" stroke-opacity="0.5" stroke-width="2.20" stroke-linecap="round" fill="none"/><path d="M71.2 387.0h0M50.6 378.9h0M51.0 379.5h0M51.9 380.1h0M47.4 386.2h0M65.6 382.5h0M74.6 385.5h0M55.2 380.5h0M48.8 382.3h0M72.3 386.0h0M75.0 384.4h0M27.0 394.1h0M78.7 390.2h0M80.3 390.5h0M44.0 382.7h0M42.0 384.2h0M42.2 382.0h0M53.9 382.2h0M29.2 392.2h0M46.3 386.0h0M42.4 384.4h0M75.8 389.0h0M69.4 385.1h0M70.7 385.1h0M30.1 397.9h0M29.6 399.2h0M57.2 378.9h0M56.3 380.3h0M71.4 385.8h0M54.5 375.6h0M52.4 377.5h0M57.7 380.0h0M37.5 389.8h0M61.0 383.1h0M57.3 376.7h0M55.8 377.7h0M39.2 387.7h0M38.3 385.6h0M33.0 394.2h0M53.2 382.2h0M53.9 383.2h0M44.5 386.6h0M49.5 389.9h0M54.6 387.7h0M54.9 389.4h0M53.7 388.3h0M47.3 391.9h0M53.1 389.9h0M46.6 390.1h0M47.7 391.0h0M36.7 419.2h0M27.8 406.1h0M26.7 407.2h0M52.9 438.1h0M55.5 446.6h0M55.4 449.2h0M32.3 407.8h0M32.7 409.4h0M43.1 434.2h0M52.4 442.2h0M53.3 442.8h0M57.7 443.0h0M30.9 413.9h0M29.7 407.5h0M44.3 427.9h0M27.1 406.9h0M27.2 408.0h0M53.1 444.6h0M41.3 438.4h0M54.7 434.3h0M32.6 416.2h0M57.0 442.1h0M41.4 430.3h0M46.7 433.0h0M33.9 424.0h0M34.1 414.5h0M63.2 410.4h0M68.5 429.8h0M62.8 413.9h0M75.1 437.6h0M66.6 415.5h0M65.5 416.7h0M78.6 433.2h0M67.0 422.4h0M64.3 413.6h0M67.9 422.7h0M74.1 434.5h0M74.9 436.9h0M60.8 407.8h0M63.0 414.1h0M61.5 411.1h0M71.8 362.8h0M134.7 393.4h0M133.6 394.0h0M95.1 381.4h0M140.5 398.6h0M85.6 374.0h0M63.8 367.7h0M107.7 383.4h0M85.9 376.9h0M87.6 377.5h0M101.3 382.0h0M83.1 375.9h0M84.4 375.9h0M112.1 389.7h0M105.4 385.3h0M107.8 385.9h0M70.2 366.0h0M72.1 367.8h0M67.0 370.5h0M100.9 378.3h0M122.0 387.6h0M92.7 375.9h0M129.1 395.3h0M83.4 372.3h0M106.3 385.1h0M106.5 386.7h0M107.0 383.5h0M75.8 371.9h0M82.9 375.5h0M94.7 380.1h0M78.2 366.0h0M101.5 378.9h0M115.7 392.4h0M133.8 395.0h0M113.9 390.2h0M80.8 367.8h0M73.2 366.9h0M102.0 382.5h0M74.2 359.8h0M84.7 367.9h0M73.9 360.2h0M120.1 385.5h0M123.7 398.5h0M106.8 382.1h0M107.0 382.1h0M93.6 377.7h0M91.6 380.9h0M90.2 381.3h0M104.1 395.5h0M118.8 401.6h0M102.5 400.6h0M103.5 401.0h0M111.5 397.5h0M110.7 400.2h0M133.6 396.1h0M124.8 398.2h0M125.5 399.7h0M139.8 403.6h0M140.6 397.9h0M101.0 398.2h0M102.0 399.3h0M85.5 398.2h0M132.9 400.0h0M94.0 393.2h0M90.9 396.1h0M92.0 393.4h0M93.2 394.8h0M91.2 394.4h0M93.2 393.6h0M93.6 394.1h0M86.7 396.6h0M101.1 401.2h0M100.6 402.3h0M99.7 403.8h0M121.1 398.9h0M121.9 399.9h0M117.3 401.8h0M118.1 402.8h0M97.5 403.1h0M96.9 408.1h0M83.8 413.8h0M95.9 413.1h0M104.9 411.0h0M105.4 412.6h0M123.1 406.4h0M121.1 406.7h0M115.6 409.4h0M118.1 410.4h0" stroke="#0000ff" stroke-opacity="0.5" stroke-width="2.20" stroke-linecap="round" fill="none"/><rect x="90.4" y="423.2" width="54.099999999999994" height="25.19999999999999" rx="2" fill="#fff" fill-opacity="0.85" stroke="#e4e4e4" stroke-width="0.8"/><circle cx="101.4" cy="430.26" r="2.6" fill="#ff0000" fill-opacity="0.35"/><text x="110.40" y="433.46" font-size="9" text-anchor="start" fill="#111" textLength="32.0" lengthAdjust="spacingAndGlyphs">Original</text><circle cx="101.4" cy="441.85" r="2.6" fill="#0000ff" fill-opacity="0.35"/><text x="110.40" y="445.05" font-size="9" text-anchor="start" fill="#111" textLength="31.5" lengthAdjust="spacingAndGlyphs">GT-GAN</text><text x="50.00" y="462.00" font-size="9" text-anchor="middle" fill="#222">−10</text><text x="85.50" y="462.00" font-size="9" text-anchor="middle" fill="#222">0</text><text x="121.25" y="462.00" font-size="9" text-anchor="middle" fill="#222">10</text><text x="17.00" y="382.45" font-size="9" text-anchor="end" fill="#222">10</text><text x="17.00" y="409.95" font-size="9" text-anchor="end" fill="#222">0</text><text x="17.00" y="436.95" font-size="9" text-anchor="end" fill="#222">−10</text><line x1="173.4" y1="356.6" x2="302.8" y2="356.6" stroke="#e6e6e6" stroke-width="1"/><line x1="173.4" y1="356.6" x2="173.4" y2="453" stroke="#777" stroke-width="1"/><line x1="302.8" y1="356.6" x2="302.8" y2="453" stroke="#8a8a8a" stroke-width="1.6"/><path d="M228.7 387.3h0M219.8 380.5h0M202.3 383.6h0M224.5 384.0h0M223.8 385.1h0M184.6 395.6h0M208.0 381.2h0M199.4 382.5h0M204.6 384.6h0M227.4 390.9h0M196.5 383.2h0M226.2 384.3h0M197.2 382.0h0M203.5 381.7h0M191.1 427.4h0M190.0 428.4h0M190.1 429.9h0M193.8 434.7h0M193.5 435.9h0M193.1 429.9h0M186.1 410.0h0M184.9 409.9h0M186.7 423.0h0M187.5 405.3h0M200.2 437.5h0M192.1 428.0h0M193.4 430.4h0M186.0 407.7h0M191.4 416.3h0M189.4 418.8h0M191.3 403.1h0M218.6 444.0h0M205.7 439.7h0M185.6 423.6h0M191.2 425.2h0M204.3 433.2h0M188.8 422.9h0M196.6 430.9h0M208.4 446.0h0M196.5 442.1h0M195.9 443.3h0M182.5 403.5h0M206.6 436.4h0M193.8 424.4h0M209.7 443.5h0M205.6 441.8h0M191.4 422.3h0M218.4 410.3h0M223.3 425.2h0M213.1 411.0h0M219.5 421.8h0M217.4 416.5h0M218.8 413.0h0M221.6 426.3h0M213.4 407.8h0M210.4 408.4h0M225.5 432.7h0M217.3 412.6h0M217.2 408.8h0M217.2 412.1h0M216.0 414.3h0M230.2 436.0h0M227.5 432.9h0M228.2 427.4h0M258.9 409.0h0M252.4 416.7h0M229.8 413.7h0M224.0 409.6h0M278.1 406.3h0M276.8 406.8h0M217.8 409.5h0M214.8 406.9h0M261.5 409.8h0M217.6 407.2h0M213.2 404.9h0M258.3 413.8h0M244.5 415.7h0M245.4 416.4h0M246.4 416.4h0M274.5 406.3h0M233.6 413.0h0M290.3 398.2h0M275.5 407.3h0M294.2 403.7h0M281.0 407.1h0M244.8 419.2h0M291.7 405.7h0M242.7 416.8h0M294.5 402.5h0M296.4 402.4h0M238.0 413.1h0M239.0 413.3h0M270.2 409.6h0M289.7 402.1h0M288.2 402.0h0M242.8 412.0h0M244.1 412.7h0M223.4 412.2h0M282.7 405.3h0M224.5 412.4h0M211.4 412.9h0M247.2 414.5h0M246.4 415.9h0M240.3 412.4h0M256.0 409.1h0M216.9 405.7h0M272.7 406.9h0M229.6 411.5h0M239.7 415.2h0M258.4 413.1h0M259.2 415.8h0M236.7 410.2h0M234.9 413.2h0M285.7 405.8h0M251.3 411.2h0M243.1 411.7h0M240.6 412.0h0M287.3 404.0h0M287.9 404.9h0M275.9 408.5h0M243.8 417.4h0M242.7 418.9h0M242.2 419.6h0M239.3 413.7h0M274.7 411.6h0M239.3 413.5h0M238.5 415.9h0M220.1 407.0h0M273.6 408.6h0M285.3 408.4h0M224.0 417.0h0M222.5 412.3h0M224.1 413.2h0M275.6 408.6h0M229.0 408.5h0M243.4 418.7h0M256.8 375.6h0M261.8 375.4h0M267.7 377.4h0M254.6 369.6h0M267.6 375.4h0M257.3 368.0h0M256.4 369.4h0M280.3 385.6h0M280.9 379.8h0M260.5 363.9h0M267.2 368.5h0M247.3 363.8h0M262.9 371.3h0M246.5 370.3h0M243.8 368.6h0M285.4 391.8h0M280.6 389.4h0M257.8 378.5h0M288.5 391.1h0M288.0 392.2h0M252.6 377.9h0M276.0 386.4h0M260.7 384.6h0M287.8 396.9h0M277.2 395.7h0M290.8 403.2h0M286.7 398.7h0M289.6 399.0h0M293.4 404.2h0M265.7 386.6h0M226.2 365.0h0M291.6 398.7h0M295.4 396.0h0M295.5 401.1h0M287.4 399.7h0M287.2 400.6h0M283.6 395.8h0M284.7 400.0h0M285.0 401.3h0M285.4 398.9h0" stroke="#ff0000" stroke-opacity="0.5" stroke-width="2.20" stroke-linecap="round" fill="none"/><path d="M229.6 380.9h0M207.5 380.8h0M231.1 392.3h0M230.5 386.9h0M198.5 388.6h0M196.4 389.2h0M195.1 383.5h0M201.8 383.1h0M203.1 383.9h0M206.6 379.5h0M207.1 380.2h0M192.1 385.9h0M208.7 380.9h0M187.0 398.0h0M225.5 385.6h0M202.9 385.7h0M199.5 440.0h0M206.9 443.6h0M194.6 434.4h0M194.7 434.2h0M194.5 436.0h0M214.0 444.3h0M212.7 444.9h0M212.0 444.9h0M190.2 424.1h0M187.8 404.2h0M187.7 406.7h0M204.0 443.0h0M203.6 443.4h0M198.0 436.6h0M189.0 408.8h0M204.7 440.2h0M205.0 441.5h0M204.7 442.4h0M194.4 428.4h0M193.0 433.5h0M207.8 441.4h0M186.6 403.7h0M181.1 407.5h0M198.6 428.5h0M197.8 428.9h0M203.5 434.0h0M207.7 444.7h0M191.5 410.2h0M193.1 431.0h0M194.2 431.6h0M208.3 435.2h0M193.5 422.0h0M192.0 422.7h0M191.7 423.5h0M187.0 415.9h0M188.7 412.7h0M218.8 419.9h0M216.7 416.2h0M213.9 418.4h0M212.5 419.2h0M222.6 421.6h0M228.6 439.9h0M223.4 429.1h0M230.3 430.8h0M213.8 408.8h0M221.1 418.5h0M222.0 420.0h0M219.7 417.4h0M228.4 434.4h0M228.9 434.0h0M213.3 409.9h0M269.7 408.5h0M225.5 406.5h0M226.6 407.7h0M218.7 408.0h0M286.4 405.3h0M271.0 410.2h0M260.1 409.9h0M229.0 412.9h0M260.8 408.5h0M291.3 400.6h0M289.7 402.0h0M212.9 406.1h0M254.3 409.8h0M251.8 415.7h0M291.4 400.1h0M272.5 410.3h0M292.1 400.2h0M291.6 404.2h0M261.8 414.1h0M238.6 413.6h0M237.0 409.4h0M287.7 406.8h0M245.2 417.7h0M255.3 411.2h0M270.9 408.3h0M241.4 416.2h0M243.0 417.1h0M279.4 406.2h0M270.7 408.2h0M279.0 408.3h0M278.8 409.2h0M285.2 407.8h0M251.0 411.4h0M214.8 406.0h0M213.8 407.2h0M214.5 408.7h0M265.3 408.5h0M224.5 411.6h0M255.0 409.3h0M213.4 407.5h0M214.8 407.4h0M294.1 408.2h0M291.9 409.5h0M256.4 409.2h0M216.6 407.2h0M272.7 409.8h0M282.8 406.6h0M273.4 409.9h0M274.5 410.7h0M232.1 414.2h0M232.4 412.3h0M233.8 412.8h0M287.3 406.7h0M276.7 407.7h0M216.6 409.8h0M239.9 415.0h0M231.5 415.6h0M240.7 410.7h0M217.5 404.5h0M218.1 405.5h0M218.0 407.3h0M256.6 411.7h0M256.7 412.4h0M262.6 410.6h0M219.3 404.4h0M234.1 414.2h0M235.4 414.9h0M236.1 410.7h0M273.0 412.8h0M282.7 411.3h0M292.4 398.8h0M240.9 410.1h0M277.4 403.6h0M272.5 411.6h0M275.0 409.0h0M271.4 406.8h0M252.0 369.2h0M291.9 390.7h0M291.1 391.0h0M269.8 376.3h0M257.0 367.3h0M266.2 377.5h0M255.8 368.8h0M266.8 374.4h0M267.0 374.9h0M268.6 374.7h0M257.7 370.4h0M289.1 393.9h0M261.7 372.6h0M283.1 381.5h0M284.2 382.3h0M270.6 373.5h0M251.8 363.3h0M278.9 382.5h0M283.9 392.9h0M243.1 374.3h0M241.9 375.0h0M248.1 373.6h0M289.2 401.0h0M264.6 387.9h0M287.2 396.9h0M233.1 361.2h0M266.9 387.3h0M257.2 385.4h0M291.3 395.3h0M234.2 372.9h0M276.1 387.6h0M282.4 386.7h0M279.0 392.7h0M275.1 394.5h0M274.2 395.6h0M282.0 396.6h0M282.5 397.8h0M286.3 392.9h0M279.9 385.3h0M278.3 386.1h0M280.9 399.7h0" stroke="#ff0000" stroke-opacity="0.5" stroke-width="2.20" stroke-linecap="round" fill="none"/><path d="M230.8 379.9h0M228.8 382.1h0M208.3 382.2h0M203.8 381.5h0M200.4 383.7h0M219.4 380.8h0M230.1 389.8h0M232.1 389.3h0M196.7 381.8h0M197.0 383.2h0M192.3 382.4h0M185.9 396.5h0M221.2 381.5h0M193.2 384.5h0M195.4 382.8h0M210.6 380.2h0M209.7 380.2h0M183.8 391.0h0M197.3 383.1h0M198.3 442.6h0M196.5 434.5h0M190.9 414.6h0M190.6 415.8h0M190.0 417.2h0M192.5 429.6h0M187.1 424.1h0M205.2 442.0h0M197.2 436.1h0M209.3 439.9h0M189.5 407.8h0M194.2 422.8h0M187.2 408.4h0M188.5 409.1h0M191.6 432.7h0M208.3 440.3h0M189.6 402.6h0M192.1 403.4h0M185.2 403.7h0M187.7 403.9h0M186.9 424.3h0M184.3 424.7h0M181.8 406.0h0M183.2 408.7h0M214.2 443.4h0M188.5 424.2h0M200.0 438.7h0M182.0 404.0h0M181.8 411.0h0M190.1 410.9h0M216.9 442.9h0M217.3 443.8h0M218.0 445.3h0M209.4 441.0h0M209.8 442.7h0M205.0 442.6h0M209.0 443.1h0M191.4 423.8h0M184.3 413.1h0M185.3 413.7h0M187.8 414.9h0M186.7 415.3h0M214.2 414.6h0M215.8 415.4h0M217.1 409.0h0M224.8 422.7h0M211.7 411.9h0M220.4 422.0h0M221.9 422.6h0M220.1 411.2h0M219.0 412.1h0M224.9 422.1h0M229.0 430.8h0M212.3 409.2h0M218.5 412.8h0M215.7 410.3h0M215.7 415.3h0M229.4 434.7h0M226.8 424.9h0M235.5 414.8h0M276.6 408.0h0M271.5 407.1h0M230.0 412.9h0M227.9 413.2h0M290.3 401.2h0M271.8 408.1h0M257.2 413.3h0M243.9 415.3h0M243.9 414.8h0M240.4 416.9h0M292.5 401.9h0M292.2 403.2h0M282.7 405.7h0M238.2 415.8h0M245.5 416.5h0M284.2 403.6h0M254.2 413.4h0M240.1 419.4h0M293.4 402.5h0M278.5 405.9h0M240.4 413.7h0M277.5 410.5h0M250.9 410.3h0M221.5 413.0h0M267.6 406.2h0M211.7 413.0h0M239.9 410.5h0M216.3 408.0h0M266.7 410.9h0M293.1 407.9h0M238.5 415.2h0M258.3 413.9h0M210.5 407.5h0M212.3 407.6h0M237.4 410.4h0M287.9 407.2h0M250.1 411.2h0M226.3 415.8h0M288.4 406.5h0M218.2 407.0h0M236.9 410.7h0M225.0 412.3h0M285.9 410.4h0M291.3 398.5h0M276.1 409.0h0M245.8 417.2h0M245.0 418.0h0M253.2 369.6h0M283.5 382.1h0M270.4 374.9h0M250.6 377.7h0M268.0 360.9h0M276.8 373.9h0M285.4 385.7h0M279.1 379.9h0M247.6 365.5h0M258.5 368.9h0M261.5 370.7h0M284.7 389.6h0M284.4 390.7h0M290.9 399.3h0M291.9 400.7h0M246.7 374.1h0M290.5 399.6h0M242.9 368.8h0M283.6 391.2h0M253.7 378.4h0M276.8 387.3h0M229.0 370.4h0M261.5 385.0h0M238.0 360.7h0M259.4 378.5h0M259.0 380.7h0M293.2 397.5h0M257.3 386.2h0M257.5 381.8h0M276.9 388.3h0M297.5 390.7h0M296.8 401.1h0M293.8 401.0h0M286.9 393.6h0M290.9 396.2h0M278.2 398.5h0M296.8 403.3h0" stroke="#ff0000" stroke-opacity="0.5" stroke-width="2.20" stroke-linecap="round" fill="none"/><path d="M216.8 386.2h0M217.8 386.9h0M219.1 387.0h0M229.7 387.3h0M202.6 382.7h0M219.8 379.3h0M231.5 387.5h0M186.4 393.0h0M186.1 392.9h0M222.5 385.8h0M227.0 390.6h0M197.0 385.7h0M197.7 388.6h0M195.0 384.6h0M206.4 381.1h0M228.6 390.0h0M187.0 396.9h0M187.0 399.4h0M198.3 379.1h0M197.3 380.2h0M199.3 441.2h0M196.4 427.4h0M193.2 434.8h0M188.9 423.5h0M186.8 421.7h0M195.8 434.8h0M208.0 440.9h0M190.4 406.2h0M193.2 429.2h0M193.7 429.4h0M193.2 430.5h0M191.0 417.4h0M192.5 424.9h0M208.2 440.0h0M205.9 439.1h0M213.1 442.7h0M188.1 425.8h0M198.4 437.1h0M199.7 437.6h0M194.9 444.1h0M184.1 402.2h0M180.0 411.1h0M179.5 410.7h0M189.4 411.7h0M195.5 431.9h0M194.8 425.2h0M196.0 426.5h0M208.8 445.6h0M208.1 441.9h0M209.7 441.7h0M185.6 415.7h0M189.5 414.3h0M221.1 423.6h0M227.4 427.9h0M227.7 429.3h0M223.7 421.9h0M221.6 424.4h0M213.2 410.1h0M218.4 416.6h0M221.3 410.1h0M221.9 424.7h0M222.4 428.5h0M231.6 430.7h0M214.6 407.8h0M215.7 408.9h0M221.1 417.8h0M216.2 410.1h0M218.2 412.9h0M216.9 417.3h0M218.5 417.5h0M227.4 426.7h0M221.3 417.0h0M221.7 418.3h0M228.7 413.8h0M235.3 413.3h0M223.1 409.6h0M215.4 405.5h0M270.6 408.4h0M216.8 406.5h0M218.7 408.8h0M258.9 415.0h0M245.0 414.9h0M275.2 406.7h0M233.6 411.7h0M272.9 411.8h0M291.1 399.3h0M262.9 413.4h0M286.0 400.0h0M285.5 401.3h0M281.9 406.6h0M238.0 414.7h0M238.8 410.1h0M271.3 409.6h0M239.3 418.7h0M279.9 407.6h0M241.6 411.3h0M283.6 407.3h0M286.1 407.8h0M235.8 412.2h0M282.6 403.8h0M240.2 410.8h0M256.7 409.7h0M267.4 409.3h0M257.4 407.7h0M216.7 404.3h0M273.2 408.7h0M228.3 412.3h0M213.6 407.5h0M252.2 410.4h0M241.9 412.4h0M275.6 405.8h0M273.8 406.1h0M257.3 407.7h0M230.6 414.4h0M239.0 414.9h0M255.5 412.1h0M218.5 405.7h0M236.0 415.7h0M234.9 411.3h0M272.9 412.1h0M272.2 414.2h0M284.0 411.0h0M230.9 407.8h0M230.1 408.2h0M274.6 409.2h0M273.3 410.3h0M278.4 403.5h0M275.7 404.4h0M273.5 408.9h0M286.6 390.0h0M287.6 391.1h0M256.1 371.6h0M254.8 372.4h0M257.8 370.1h0M276.7 374.8h0M287.7 394.1h0M262.3 374.6h0M261.9 363.0h0M267.1 369.1h0M260.5 369.0h0M277.3 379.4h0M264.1 372.5h0M264.6 369.8h0M282.2 390.1h0M287.4 393.7h0M276.3 385.2h0M227.5 371.1h0M234.4 360.3h0M237.5 373.3h0M243.6 369.7h0M288.3 399.0h0M287.4 395.1h0M254.8 376.5h0M292.5 401.6h0M292.7 403.1h0M258.0 383.0h0M259.4 383.4h0M283.4 394.2h0M278.0 391.9h0M279.1 393.5h0M278.0 400.0h0M295.1 402.3h0" stroke="#ff0000" stroke-opacity="0.5" stroke-width="2.20" stroke-linecap="round" fill="none"/><path d="M190.3 411.5h0M190.3 402.7h0M191.9 390.9h0M211.0 445.5h0M214.0 446.3h0M231.0 389.9h0M225.6 430.4h0M190.2 412.0h0M189.8 401.9h0M207.1 442.1h0M197.3 383.9h0M208.5 443.6h0M190.8 412.5h0M191.9 415.2h0M217.4 445.0h0M192.1 418.6h0M222.4 385.3h0M192.8 392.8h0M189.8 411.0h0M193.5 420.1h0M228.3 440.0h0M197.0 382.8h0M206.3 440.6h0M190.9 397.3h0M228.4 434.6h0M225.9 428.4h0M196.0 426.9h0M221.3 384.3h0M218.5 382.1h0M217.7 446.2h0M220.0 384.6h0M194.7 384.8h0M200.4 434.9h0M211.9 380.8h0M198.6 434.6h0M213.2 381.2h0M231.6 392.4h0M224.8 429.7h0M212.9 446.3h0M226.2 427.1h0M208.2 382.4h0M192.0 417.3h0M196.0 427.4h0M213.8 400.7h0M216.3 400.0h0M214.8 399.3h0M271.9 410.3h0M285.1 407.9h0M239.7 405.8h0M249.0 407.4h0M278.2 407.3h0M284.9 406.2h0M243.6 407.6h0M231.1 407.0h0M274.1 408.9h0M282.5 406.7h0M266.1 410.1h0M226.8 408.1h0M235.1 408.0h0M275.8 407.5h0M232.7 407.4h0M279.7 408.7h0M227.2 407.3h0M221.9 407.6h0M265.7 409.2h0M257.4 407.3h0M237.0 406.9h0M247.6 407.6h0M272.8 408.9h0M286.1 407.1h0M273.6 409.6h0M270.1 376.3h0M254.2 361.4h0M292.7 394.7h0M284.6 391.7h0M255.1 362.5h0M273.3 388.8h0M275.5 387.1h0M271.0 388.8h0M271.2 369.3h0M265.0 379.1h0M276.1 387.1h0M266.7 378.8h0M288.0 405.1h0M269.4 386.7h0M268.5 365.7h0M252.5 362.3h0M264.7 376.6h0M269.5 375.4h0M263.4 382.5h0M263.6 384.5h0M292.7 396.8h0M262.0 380.5h0M293.0 396.5h0M291.2 397.1h0M267.1 384.7h0M286.4 391.8h0M279.0 387.6h0M281.9 388.3h0M257.5 360.8h0M272.6 371.9h0M290.1 391.6h0M268.5 387.4h0M291.9 397.3h0M289.0 391.4h0M285.0 391.3h0M271.9 371.9h0M284.5 390.0h0M262.5 384.5h0M293.2 400.1h0M280.3 386.4h0M251.6 362.2h0M258.2 360.5h0M277.2 388.4h0M293.6 394.6h0M269.3 365.9h0M250.7 361.8h0M286.5 391.1h0M261.4 361.6h0M269.4 388.0h0M283.5 386.6h0M285.7 390.0h0M292.9 394.7h0M286.8 391.0h0M265.0 382.8h0M264.0 382.3h0M267.3 376.0h0M271.4 369.8h0M291.9 399.6h0M256.5 362.3h0M267.0 376.8h0M279.6 389.7h0M283.5 387.2h0M265.0 384.3h0M271.1 372.5h0M288.3 392.3h0M269.9 385.8h0M263.8 377.2h0M287.9 391.3h0M290.8 393.6h0M291.9 400.0h0M266.2 376.9h0M263.8 364.1h0M267.4 365.5h0M188.0 409.0h0" stroke="#008000" stroke-opacity="0.5" stroke-width="2.30" stroke-linecap="round" fill="none"/><path d="M195.9 428.2h0M191.9 395.1h0M194.0 390.9h0M195.1 386.2h0M214.4 382.1h0M191.7 415.8h0M192.3 417.6h0M224.2 443.4h0M191.8 413.5h0M225.1 429.3h0M204.9 440.4h0M191.0 407.3h0M224.5 427.0h0M219.3 445.2h0M215.6 444.4h0M204.7 382.4h0M224.5 423.8h0M231.5 393.6h0M193.0 390.6h0M193.7 388.9h0M208.0 443.9h0M224.8 442.7h0M201.2 435.2h0M212.9 446.4h0M230.8 392.5h0M214.0 446.0h0M195.7 428.2h0M203.2 383.0h0M215.7 445.8h0M215.6 400.1h0M215.5 399.7h0M213.9 402.6h0M213.6 402.8h0M253.4 408.6h0M228.9 406.5h0M273.9 407.9h0M229.0 407.9h0M262.0 408.1h0M284.8 406.5h0M268.2 409.9h0M252.4 406.7h0M228.3 408.1h0M279.6 408.3h0M264.6 408.9h0M249.3 406.7h0M238.9 407.5h0M247.5 407.6h0M252.4 408.8h0M285.7 404.5h0M285.1 406.5h0M224.2 407.3h0M259.9 407.3h0M276.8 408.0h0M245.3 405.9h0M231.3 407.7h0M234.6 406.7h0M250.9 407.2h0M286.3 405.0h0M251.9 361.2h0M286.5 391.0h0M267.2 387.2h0M263.5 364.8h0M290.5 395.1h0M290.8 402.5h0M263.7 378.2h0M273.5 388.8h0M274.6 388.9h0M254.4 361.6h0M272.1 372.9h0M291.3 394.1h0M258.2 359.6h0M263.2 362.7h0M287.3 392.9h0M267.9 365.6h0M267.0 377.0h0M269.3 370.9h0M266.4 363.2h0M258.5 361.6h0M267.3 388.4h0M291.4 397.7h0M288.1 406.5h0M291.0 396.6h0M277.1 387.7h0M257.2 364.4h0M256.3 361.7h0M253.7 361.3h0M264.1 378.3h0M262.6 378.9h0M274.6 386.7h0M253.6 362.1h0M264.5 363.4h0M272.9 385.6h0M261.1 363.7h0M291.3 398.1h0M290.6 391.8h0M271.0 370.8h0M269.5 368.9h0M256.5 361.4h0M272.6 372.1h0M260.5 361.8h0M266.1 385.4h0M271.7 370.1h0M274.5 387.3h0M270.2 366.9h0M268.6 374.1h0M269.4 366.3h0M272.7 386.9h0M285.5 390.1h0M293.2 396.9h0M290.2 402.2h0M253.8 362.3h0M278.9 388.2h0M264.5 362.3h0M280.3 386.9h0M271.2 387.9h0M250.7 361.3h0M285.6 404.2h0M259.8 362.0h0M267.9 385.8h0M286.2 404.8h0M268.5 387.5h0M253.6 361.8h0M253.2 361.8h0M287.1 405.5h0M285.8 403.1h0M290.6 399.6h0M287.3 390.7h0M287.8 403.7h0M289.5 394.4h0M271.0 372.0h0M290.9 393.2h0M282.8 388.4h0M264.9 384.7h0M209.1 413.4h0M205.0 377.5h0M184.0 413.0h0" stroke="#008000" stroke-opacity="0.5" stroke-width="2.30" stroke-linecap="round" fill="none"/><path d="M229.8 391.5h0M223.3 424.4h0M199.7 383.4h0M222.9 419.5h0M216.5 446.2h0M199.5 433.6h0M206.9 380.9h0M193.9 425.7h0M231.6 391.9h0M204.4 382.5h0M220.8 384.1h0M223.1 420.9h0M194.9 427.2h0M189.9 409.2h0M192.7 391.6h0M192.6 414.4h0M191.7 411.7h0M191.2 401.5h0M218.8 446.0h0M190.0 399.7h0M225.7 385.7h0M222.7 422.6h0M197.8 431.4h0M195.1 426.1h0M225.4 427.3h0M191.7 416.7h0M230.2 391.2h0M202.5 436.5h0M194.7 387.0h0M192.1 415.0h0M223.4 385.9h0M191.1 406.6h0M212.3 404.5h0M215.2 400.4h0M271.2 408.6h0M249.1 407.4h0M240.9 409.0h0M252.8 407.3h0M238.5 407.4h0M264.9 407.9h0M259.4 408.3h0M256.5 407.7h0M230.9 407.0h0M221.8 407.0h0M277.5 409.6h0M258.6 407.8h0M232.3 406.5h0M222.8 407.1h0M229.3 407.5h0M282.2 407.8h0M265.5 407.9h0M268.9 409.5h0M244.3 408.7h0M230.0 406.7h0M226.2 406.9h0M283.9 405.5h0M269.1 408.2h0M285.3 406.7h0M228.5 407.9h0M257.8 407.4h0M235.9 407.6h0M286.1 390.1h0M264.5 377.7h0M265.6 376.9h0M279.0 386.6h0M261.1 361.5h0M265.5 375.9h0M257.6 362.3h0M264.9 375.1h0M262.8 385.7h0M269.1 367.4h0M263.2 385.3h0M263.8 385.7h0M287.2 404.8h0M290.4 401.0h0M256.9 360.5h0M265.1 383.8h0M288.1 391.9h0M292.8 396.5h0M287.9 404.6h0M287.3 391.7h0M269.8 373.4h0M272.9 386.8h0M283.8 388.5h0M268.8 362.3h0M258.5 362.0h0M264.5 383.4h0M267.7 385.8h0M268.2 374.4h0M256.5 360.3h0M285.6 391.9h0M268.0 364.6h0M271.2 366.7h0M282.3 388.2h0M271.9 387.5h0M289.2 397.0h0M262.7 380.9h0M265.7 384.5h0M270.0 364.0h0M262.5 363.6h0M256.4 360.3h0M268.0 377.0h0M292.2 394.2h0M267.0 384.5h0M269.7 375.7h0M270.2 367.3h0M262.7 380.9h0M253.9 361.0h0M291.3 399.0h0M270.9 371.5h0M264.4 363.1h0M289.9 392.6h0M270.2 367.7h0M270.4 387.8h0M262.1 379.7h0M268.2 373.8h0M251.4 361.2h0M270.4 367.2h0M255.5 361.5h0M271.6 370.9h0M256.5 362.9h0M269.5 386.9h0M274.4 387.9h0M269.6 365.1h0M267.0 385.4h0M272.5 386.3h0M263.5 362.8h0M277.3 386.7h0M287.7 403.3h0M266.5 378.2h0M265.1 383.2h0M218.4 429.9h0" stroke="#008000" stroke-opacity="0.5" stroke-width="2.30" stroke-linecap="round" fill="none"/><path d="M191.9 417.7h0M195.4 426.5h0M194.8 384.3h0M229.4 434.7h0M222.3 420.4h0M207.6 380.7h0M189.7 413.9h0M195.7 428.0h0M198.3 432.2h0M192.1 416.6h0M225.8 386.1h0M212.9 381.0h0M227.7 387.0h0M193.4 424.1h0M226.2 428.7h0M230.9 436.9h0M198.8 383.1h0M226.8 387.3h0M227.0 432.7h0M194.7 421.8h0M222.1 384.5h0M226.9 387.5h0M196.3 431.0h0M196.8 430.2h0M227.1 443.5h0M216.6 445.7h0M214.0 444.7h0M225.2 385.6h0M196.5 429.9h0M206.1 441.7h0M228.8 439.5h0M190.7 398.9h0M218.5 446.3h0M192.1 394.5h0M210.6 445.0h0M193.4 392.5h0M213.4 402.4h0M213.5 405.3h0M215.0 403.5h0M228.5 405.8h0M284.1 406.0h0M255.1 408.1h0M250.6 406.6h0M254.0 408.3h0M249.0 407.6h0M234.7 408.6h0M276.9 408.3h0M252.0 407.6h0M284.0 406.7h0M240.1 406.6h0M280.7 408.4h0M278.5 408.5h0M226.1 406.7h0M266.5 389.2h0M289.3 402.2h0M269.1 363.9h0M290.7 403.1h0M259.9 362.5h0M264.2 387.1h0M283.0 389.9h0M262.5 363.7h0M254.2 362.6h0M264.9 379.3h0M286.5 390.9h0M289.2 403.6h0M290.9 397.4h0M266.0 363.6h0M288.5 392.1h0M285.2 389.6h0M289.1 393.6h0M271.8 366.9h0M268.7 366.2h0M286.8 389.9h0M290.2 401.1h0M267.0 386.3h0M279.8 387.8h0M263.8 385.1h0M274.1 387.4h0M277.7 387.5h0M270.1 375.3h0M265.1 383.9h0M268.3 386.8h0M285.6 390.0h0M287.9 389.1h0M262.1 380.4h0M286.4 389.9h0M284.1 389.8h0M260.8 360.9h0M265.2 377.2h0M270.0 364.9h0M264.2 383.3h0M288.4 391.0h0M268.0 363.3h0M268.1 375.8h0M270.2 365.8h0M291.5 398.7h0M265.8 364.7h0M272.9 366.6h0M267.1 386.1h0M261.8 363.2h0M269.6 376.0h0M277.9 387.6h0M256.7 361.5h0M270.6 373.1h0M293.3 395.9h0M289.5 402.7h0M266.0 375.9h0M272.1 369.4h0M292.1 395.2h0M274.9 387.9h0M268.5 368.4h0M258.5 364.0h0M266.1 386.8h0M263.1 363.7h0M269.3 373.3h0M281.2 386.6h0M291.7 393.4h0M278.6 388.7h0M262.7 378.2h0M289.1 401.3h0M272.6 387.7h0M266.9 363.0h0M285.0 389.2h0M272.7 388.1h0M193.6 437.1h0" stroke="#008000" stroke-opacity="0.5" stroke-width="2.30" stroke-linecap="round" fill="none"/><rect x="239" y="423.4" width="59.30000000000001" height="25.0" rx="2" fill="#fff" fill-opacity="0.85" stroke="#e4e4e4" stroke-width="0.8"/><circle cx="250" cy="430.40" r="2.6" fill="#ff0000" fill-opacity="0.35"/><text x="259.00" y="433.60" font-size="9" text-anchor="start" fill="#111" textLength="32.0" lengthAdjust="spacingAndGlyphs">Original</text><circle cx="250" cy="441.90" r="2.6" fill="#008000" fill-opacity="0.35"/><text x="259.00" y="445.10" font-size="9" text-anchor="start" fill="#111" textLength="37.0" lengthAdjust="spacingAndGlyphs">TimeGAN</text><text x="200.00" y="462.00" font-size="9" text-anchor="middle" fill="#222">−10</text><text x="239.50" y="462.00" font-size="9" text-anchor="middle" fill="#222">0</text><text x="275.00" y="462.00" font-size="9" text-anchor="middle" fill="#222">10</text><text x="171.20" y="382.45" font-size="9" text-anchor="end" fill="#222">10</text><text x="171.20" y="409.95" font-size="9" text-anchor="end" fill="#222">0</text><text x="171.20" y="436.95" font-size="9" text-anchor="end" fill="#222">−10</text><line x1="343.75" y1="356.3" x2="473" y2="356.3" stroke="#e6e6e6" stroke-width="1"/><line x1="473" y1="356.3" x2="473" y2="452.6" stroke="#8a8a8a" stroke-width="1.6"/><path d="M391.2 443.9h0M383.5 423.4h0M448.7 437.6h0M450.0 439.1h0M448.5 428.2h0M415.3 439.0h0M401.7 438.6h0M442.4 430.2h0M425.2 439.6h0M430.0 444.5h0M410.0 443.9h0M448.9 435.2h0M378.7 396.8h0M377.5 403.0h0M394.6 432.4h0M382.5 417.3h0M434.1 440.1h0M412.4 433.5h0M399.1 419.6h0M399.8 421.4h0M400.2 424.6h0M427.2 429.8h0M398.6 447.1h0M388.1 430.6h0M387.9 444.8h0M386.9 444.1h0M392.7 381.8h0M439.6 431.6h0M389.5 383.4h0M404.2 441.9h0M397.4 414.8h0M432.3 442.1h0M381.5 405.2h0M416.1 446.8h0M402.0 387.4h0M400.5 387.0h0M393.6 379.6h0M396.6 379.5h0M403.2 402.4h0M422.7 427.9h0M443.9 434.6h0M446.7 435.2h0M399.3 426.8h0M390.2 369.7h0M402.4 394.0h0M378.6 404.8h0M396.2 365.5h0M394.9 366.5h0M403.2 405.7h0M382.9 442.9h0M378.6 408.0h0M378.4 399.8h0M377.8 401.9h0M387.7 403.9h0M388.4 377.1h0M396.4 374.3h0M396.0 376.7h0M443.1 435.0h0M407.6 404.7h0M368.7 412.1h0M391.3 409.4h0M398.1 423.0h0M376.8 408.9h0M403.3 448.0h0M381.9 419.9h0M368.2 407.1h0M384.5 428.8h0M443.7 441.9h0M387.9 410.2h0M398.6 386.0h0M421.9 426.4h0M422.6 427.2h0M416.8 427.5h0M402.6 442.9h0M395.8 446.0h0M397.0 446.9h0M433.6 428.7h0M373.5 393.2h0M420.1 426.1h0M387.2 381.0h0M373.4 418.4h0M373.4 417.5h0M407.8 406.8h0M391.5 368.6h0M394.1 369.7h0M372.9 388.8h0M414.8 422.9h0M414.6 424.6h0M392.7 371.5h0M405.3 447.1h0M375.4 432.4h0M374.8 414.2h0M395.4 437.8h0M379.9 386.2h0M381.0 387.4h0M434.4 430.6h0M388.7 417.8h0M388.1 419.8h0M414.9 422.8h0M393.1 414.4h0M402.7 438.0h0M380.0 390.8h0M398.2 377.6h0M367.3 393.9h0M379.1 414.2h0M387.3 388.6h0M390.2 443.7h0M400.9 393.5h0M372.8 407.3h0M375.5 408.7h0M367.0 399.0h0M378.7 411.6h0M372.9 420.1h0M380.3 404.3h0M409.4 441.0h0M446.8 432.7h0M375.7 427.3h0M402.0 405.3h0M379.9 408.7h0M404.2 436.2h0M410.6 416.8h0M403.6 419.8h0M390.1 394.5h0M391.3 372.9h0M367.3 392.1h0M402.6 413.4h0M380.8 430.1h0M382.4 431.1h0M390.8 394.4h0M405.1 442.6h0M373.9 421.8h0M374.0 422.7h0M407.3 434.6h0M399.1 446.8h0M398.3 447.3h0M440.6 432.7h0M392.2 369.1h0M404.0 379.0h0M399.1 375.7h0M401.5 374.7h0M390.0 373.4h0M394.3 377.1h0M392.8 376.3h0M399.4 368.5h0M394.5 378.7h0M396.1 375.8h0M393.2 367.6h0M393.3 385.9h0M403.6 386.5h0M399.0 382.4h0M395.0 384.8h0M393.1 380.2h0M394.4 381.5h0M393.3 389.4h0M392.2 390.1h0M394.4 369.2h0M393.0 364.3h0M389.8 389.9h0M398.1 370.5h0M400.2 379.4h0M402.8 380.0h0M395.5 381.7h0M390.2 367.0h0M391.2 366.9h0M397.3 372.0h0M389.9 386.1h0M395.2 387.3h0M404.2 385.5h0M397.5 379.1h0M396.2 380.5h0M392.8 391.4h0M402.4 388.2h0M391.1 390.7h0M393.5 363.9h0M394.4 371.0h0M401.8 371.9h0M402.3 384.3h0M391.3 375.4h0M394.8 379.0h0M404.5 377.8h0M405.6 378.3h0M392.4 371.2h0M395.7 374.4h0M400.5 370.6h0M437.0 434.4h0M412.7 428.5h0M442.8 431.0h0M444.3 431.7h0M427.4 437.3h0M428.4 438.7h0M439.5 432.0h0M404.4 435.4h0M385.9 443.8h0M415.6 435.7h0M441.0 436.3h0M435.1 438.4h0M384.8 433.1h0M396.4 441.3h0M444.5 432.2h0M397.7 437.3h0M398.8 436.9h0M418.8 447.3h0M389.1 442.1h0M392.7 441.1h0M390.4 440.9h0M388.3 431.5h0M396.7 431.6h0M440.4 436.0h0M417.7 437.8h0M415.8 438.4h0M421.6 428.8h0M350.2 412.7h0M360.2 440.1h0M465.3 423.3h0M471.0 425.3h0M460.1 421.8h0M452.2 424.5h0M450.3 428.4h0M457.1 421.7h0M450.8 424.8h0M451.5 424.0h0M448.1 428.7h0M469.7 423.8h0M459.0 422.6h0M453.5 423.8h0M451.5 424.1h0M453.1 423.6h0M462.1 422.4h0" stroke="#ff0000" stroke-opacity="0.5" stroke-width="2.30" stroke-linecap="round" fill="none"/><path d="M371.1 405.7h0M382.6 417.1h0M383.6 418.7h0M393.4 427.9h0M387.2 419.5h0M387.7 420.6h0M387.1 422.1h0M394.2 374.4h0M378.4 402.8h0M379.1 403.3h0M389.3 400.2h0M389.6 401.6h0M401.1 436.0h0M441.7 431.2h0M388.1 399.5h0M386.4 392.0h0M395.0 376.0h0M395.4 377.7h0M447.8 435.6h0M389.7 389.9h0M390.1 390.8h0M390.4 392.2h0M377.6 398.0h0M393.8 365.9h0M372.3 408.9h0M449.2 432.0h0M397.6 391.7h0M382.8 389.1h0M398.5 420.6h0M400.1 423.5h0M393.8 414.2h0M370.9 394.1h0M399.7 405.9h0M388.8 444.0h0M389.5 445.0h0M379.0 399.9h0M398.7 415.0h0M391.9 382.5h0M417.6 444.5h0M417.0 445.7h0M402.4 427.5h0M424.1 427.5h0M445.0 434.3h0M382.8 400.2h0M422.3 436.6h0M397.7 435.2h0M402.9 407.3h0M382.6 442.2h0M375.8 408.2h0M408.5 447.5h0M395.3 427.6h0M394.3 427.7h0M379.0 419.5h0M410.2 405.9h0M394.5 440.3h0M380.6 426.2h0M367.8 412.6h0M390.2 409.3h0M400.5 423.4h0M373.3 410.3h0M402.9 449.3h0M382.6 420.7h0M386.2 428.4h0M407.4 415.1h0M416.1 436.0h0M377.6 394.9h0M386.1 441.3h0M385.2 442.0h0M401.0 429.4h0M410.0 426.0h0M411.0 426.7h0M394.2 370.3h0M399.5 386.5h0M402.7 446.1h0M402.0 440.2h0M402.1 441.5h0M403.1 375.4h0M383.4 392.1h0M373.4 416.3h0M415.0 434.7h0M381.0 438.8h0M373.2 387.7h0M375.0 403.2h0M374.3 432.0h0M393.7 437.5h0M396.7 437.9h0M386.3 418.5h0M406.5 439.0h0M406.6 433.0h0M407.9 443.1h0M399.5 421.1h0M390.3 413.4h0M391.6 415.3h0M403.0 396.3h0M399.5 368.8h0M402.3 438.7h0M382.3 392.2h0M367.2 391.4h0M392.5 371.8h0M401.0 375.1h0M379.0 412.5h0M379.3 415.5h0M400.2 405.2h0M375.9 417.1h0M408.1 417.0h0M394.8 373.7h0M379.0 412.3h0M380.4 413.0h0M378.7 438.1h0M377.5 439.0h0M372.9 420.7h0M408.4 440.7h0M391.4 366.4h0M369.8 397.3h0M386.5 441.6h0M405.2 435.1h0M411.9 417.8h0M389.3 393.8h0M391.1 394.7h0M400.6 384.3h0M439.6 432.1h0M380.3 430.0h0M391.8 395.0h0M391.5 367.2h0M401.7 379.4h0M402.3 378.9h0M396.4 365.1h0M390.0 370.0h0M399.3 372.5h0M397.5 382.6h0M395.8 370.9h0M393.8 375.6h0M402.1 385.8h0M388.9 384.9h0M394.0 372.3h0M400.9 389.7h0M397.6 365.1h0M394.1 388.5h0M403.0 381.6h0M391.9 366.5h0M395.7 369.7h0M396.3 372.2h0M394.7 374.8h0M395.0 382.2h0M388.6 384.6h0M389.6 384.9h0M394.0 379.7h0M396.1 387.9h0M390.8 365.1h0M398.5 380.3h0M401.3 375.4h0M389.3 388.9h0M390.3 390.0h0M393.5 371.9h0M396.4 370.8h0M396.3 370.0h0M397.8 368.3h0M391.7 376.4h0M391.0 385.8h0M396.1 367.4h0M393.7 368.6h0M396.7 384.2h0M449.2 437.4h0M405.3 434.7h0M415.5 434.5h0M416.8 436.6h0M432.0 436.2h0M383.4 435.7h0M382.3 438.5h0M414.5 430.0h0M435.5 437.5h0M387.1 435.9h0M444.2 431.5h0M445.3 431.6h0M428.4 442.9h0M391.5 444.4h0M429.5 442.9h0M431.1 443.0h0M397.7 428.0h0M386.9 436.9h0M391.5 441.1h0M388.5 431.9h0M401.3 433.0h0M441.3 435.6h0M439.1 436.1h0M356.9 409.7h0M354.4 422.8h0M356.1 421.8h0M451.6 425.7h0M464.6 421.2h0M466.8 421.7h0M449.6 428.4h0M468.3 421.5h0" stroke="#ff0000" stroke-opacity="0.5" stroke-width="2.30" stroke-linecap="round" fill="none"/><path d="M389.7 445.2h0M373.0 404.5h0M375.6 437.4h0M369.2 405.7h0M411.0 444.1h0M375.2 400.6h0M394.2 443.3h0M421.6 444.2h0M377.0 436.8h0M372.1 392.0h0M401.7 386.3h0M402.9 387.3h0M394.2 375.7h0M393.9 377.0h0M412.9 426.5h0M401.1 437.3h0M388.2 442.1h0M389.3 400.3h0M385.7 390.9h0M386.3 430.5h0M384.8 431.4h0M379.2 396.3h0M378.4 402.1h0M397.1 384.3h0M394.6 446.6h0M419.2 436.0h0M418.0 437.1h0M439.4 437.9h0M382.0 388.4h0M399.9 419.0h0M436.0 440.4h0M435.5 440.7h0M375.8 409.8h0M374.8 410.4h0M399.4 366.5h0M401.1 406.1h0M441.6 431.8h0M399.7 432.6h0M406.0 442.3h0M392.9 385.5h0M399.5 415.6h0M432.6 440.5h0M403.1 428.2h0M395.2 379.4h0M402.2 403.0h0M398.5 416.6h0M445.3 436.1h0M443.9 436.0h0M373.8 390.7h0M400.6 426.9h0M401.9 392.5h0M367.5 400.8h0M366.5 400.3h0M384.6 403.9h0M393.6 371.7h0M403.2 408.6h0M377.3 424.6h0M402.9 409.2h0M369.9 413.5h0M386.6 414.1h0M377.1 408.0h0M408.1 446.4h0M437.0 428.9h0M382.3 388.1h0M398.0 391.0h0M386.0 401.2h0M386.6 402.7h0M393.0 400.7h0M375.0 397.8h0M396.3 374.8h0M393.6 439.9h0M400.7 424.2h0M373.4 409.4h0M368.6 407.5h0M432.0 442.3h0M432.9 443.0h0M434.2 443.2h0M431.5 431.1h0M407.5 413.7h0M377.8 393.3h0M377.4 396.6h0M386.7 440.5h0M401.8 430.0h0M412.5 427.1h0M400.8 381.1h0M404.4 446.2h0M404.1 376.0h0M404.7 377.4h0M394.8 446.6h0M371.5 413.5h0M397.1 420.0h0M400.4 408.1h0M387.2 379.7h0M387.8 382.5h0M373.0 417.7h0M374.4 420.6h0M409.7 406.4h0M393.0 369.0h0M401.9 411.7h0M379.6 386.3h0M419.9 421.9h0M392.6 372.5h0M392.0 373.7h0M404.9 434.6h0M372.9 411.6h0M373.7 413.2h0M391.6 436.4h0M387.2 380.3h0M386.7 419.3h0M405.8 434.3h0M416.0 423.2h0M406.6 444.3h0M398.6 422.2h0M389.7 415.2h0M430.3 437.6h0M429.0 438.2h0M390.6 385.2h0M400.7 405.7h0M400.8 407.5h0M401.1 392.6h0M394.0 374.2h0M408.5 435.8h0M366.4 399.9h0M376.8 440.6h0M369.4 400.2h0M379.3 404.4h0M403.0 404.5h0M393.7 365.1h0M403.9 418.4h0M389.7 372.7h0M438.3 432.3h0M401.1 413.1h0M407.6 441.2h0M405.7 442.6h0M403.5 393.8h0M383.0 400.0h0M439.6 431.5h0M395.1 359.9h0M401.6 387.8h0M400.5 375.3h0M398.3 376.3h0M390.9 369.0h0M398.4 382.0h0M402.1 382.7h0M389.4 372.4h0M396.1 377.3h0M396.5 379.9h0M404.9 385.0h0M403.3 385.4h0M393.0 374.4h0M398.5 367.3h0M392.1 369.4h0M394.6 370.1h0M390.0 384.5h0M396.8 370.7h0M405.5 378.3h0M397.9 379.2h0M395.5 377.7h0M393.8 371.7h0M393.3 384.6h0M401.9 384.0h0M400.4 381.0h0M394.4 381.6h0M396.5 370.5h0M395.6 373.4h0M394.0 364.1h0M405.4 388.6h0M394.4 363.8h0M394.4 365.1h0M393.9 365.6h0M401.3 379.8h0M392.4 374.6h0M394.2 382.5h0M401.6 387.9h0M392.7 379.0h0M402.1 373.1h0M402.9 374.7h0M396.7 361.7h0M399.6 381.8h0M397.2 371.1h0M394.0 367.7h0M403.7 383.3h0M396.9 376.6h0M411.1 428.0h0M418.5 439.1h0M435.6 436.6h0M386.5 436.7h0M438.1 431.3h0M439.6 442.1h0M427.4 442.7h0M416.8 436.1h0M386.4 430.8h0M385.5 432.3h0M441.1 437.3h0M396.7 436.7h0M420.0 448.4h0M388.0 441.3h0M385.4 439.0h0M395.4 431.5h0M392.9 446.6h0M416.3 438.1h0M348.8 410.7h0M349.6 412.0h0M355.7 422.5h0M370.8 445.8h0M452.9 423.9h0M471.5 425.0h0M450.9 425.3h0M462.2 422.1h0M450.3 428.2h0M454.2 423.2h0M462.4 422.4h0M469.3 423.6h0M463.6 422.7h0M458.2 421.8h0M450.3 428.0h0M461.6 422.4h0" stroke="#ff0000" stroke-opacity="0.5" stroke-width="2.30" stroke-linecap="round" fill="none"/><path d="M391.0 444.3h0M419.5 422.3h0M420.5 422.4h0M370.8 406.6h0M374.1 437.2h0M377.5 441.4h0M382.9 421.9h0M448.7 436.9h0M392.1 383.4h0M394.5 441.9h0M372.0 428.6h0M373.1 429.9h0M450.5 427.6h0M449.8 427.5h0M402.8 446.1h0M372.5 392.3h0M403.7 388.2h0M389.3 428.6h0M403.2 400.1h0M389.5 402.9h0M441.1 432.8h0M425.2 438.4h0M431.4 443.2h0M391.0 400.1h0M394.8 374.8h0M446.1 435.8h0M379.3 435.0h0M395.1 365.5h0M448.2 432.5h0M434.1 438.9h0M381.5 386.7h0M378.7 386.7h0M395.1 413.4h0M373.5 403.7h0M398.1 366.7h0M372.4 393.1h0M390.9 405.7h0M439.3 431.4h0M392.5 385.6h0M431.7 443.5h0M401.0 426.6h0M421.5 428.1h0M397.0 417.2h0M395.7 418.1h0M401.5 427.8h0M427.8 431.7h0M382.1 400.4h0M421.0 428.8h0M368.7 418.5h0M369.0 400.6h0M394.0 367.3h0M405.7 390.7h0M406.4 391.9h0M382.5 440.5h0M396.6 404.9h0M369.4 412.6h0M370.6 414.4h0M387.0 412.7h0M396.7 427.0h0M393.5 402.5h0M373.7 398.6h0M443.5 434.9h0M410.2 406.8h0M409.6 408.2h0M396.1 440.7h0M406.8 405.2h0M405.9 406.3h0M370.5 411.1h0M375.6 408.3h0M374.9 409.0h0M403.9 446.3h0M384.0 421.7h0M372.7 409.1h0M375.0 409.5h0M369.6 409.4h0M385.3 409.3h0M432.9 430.1h0M430.9 431.7h0M417.7 436.1h0M418.9 437.5h0M388.8 409.0h0M401.8 445.9h0M389.9 409.0h0M371.4 415.2h0M371.0 416.6h0M376.8 392.6h0M377.3 394.2h0M384.8 392.6h0M395.3 380.0h0M402.3 412.3h0M388.9 402.8h0M387.5 403.2h0M404.4 434.6h0M376.8 403.0h0M391.8 436.8h0M386.1 379.6h0M381.8 388.2h0M407.0 443.7h0M391.1 429.6h0M403.3 398.4h0M401.1 368.2h0M381.0 391.3h0M367.6 392.6h0M390.3 384.1h0M387.4 387.3h0M386.4 390.2h0M375.4 416.1h0M406.9 417.4h0M401.2 394.8h0M373.9 407.8h0M396.8 374.3h0M368.0 397.8h0M382.9 383.2h0M369.0 404.2h0M369.0 401.4h0M447.0 433.7h0M446.7 435.3h0M380.6 408.8h0M382.2 408.9h0M386.3 439.6h0M386.9 442.1h0M412.4 419.0h0M396.6 443.6h0M389.8 367.7h0M389.6 368.4h0M400.2 446.4h0M441.1 433.4h0M395.5 361.3h0M402.2 388.1h0M396.3 365.9h0M391.6 367.5h0M400.7 373.1h0M396.4 383.5h0M401.6 381.2h0M389.4 371.0h0M398.3 380.8h0M392.1 377.4h0M393.1 369.6h0M394.1 370.2h0M394.1 383.1h0M402.9 385.6h0M397.9 383.5h0M396.1 385.4h0M397.3 386.1h0M398.6 385.2h0M399.8 380.5h0M392.5 379.5h0M404.2 382.6h0M390.6 367.1h0M397.5 380.6h0M393.2 375.9h0M396.0 369.4h0M396.9 370.4h0M403.1 385.9h0M394.0 386.1h0M398.1 381.4h0M391.3 365.3h0M391.1 366.9h0M404.6 384.4h0M395.4 381.5h0M398.5 361.6h0M395.8 362.1h0M398.0 378.6h0M394.6 388.7h0M393.5 390.2h0M403.1 381.3h0M404.2 382.3h0M396.7 372.3h0M405.4 385.0h0M406.5 386.4h0M391.8 389.6h0M393.6 390.6h0M398.7 369.2h0M391.2 369.6h0M398.0 374.8h0M395.1 368.4h0M396.3 375.3h0M436.4 436.1h0M433.9 436.7h0M413.3 441.7h0M427.2 436.1h0M448.6 438.2h0M388.0 437.5h0M406.3 433.7h0M430.7 436.3h0M441.6 435.0h0M383.3 436.8h0M434.4 439.5h0M381.1 433.1h0M380.9 434.6h0M388.8 435.6h0M416.1 435.6h0M431.6 442.9h0M441.8 438.8h0M442.1 439.9h0M396.7 442.9h0M397.9 443.9h0M445.0 435.3h0M435.3 431.7h0M412.7 432.8h0M444.3 433.4h0M392.4 445.2h0M392.6 447.4h0M356.7 411.1h0M357.4 422.3h0M357.5 421.2h0M369.2 446.1h0M466.6 425.0h0M467.6 421.8h0M453.5 423.2h0M467.4 422.5h0M450.7 424.1h0M466.2 422.8h0M468.3 424.1h0M458.1 422.6h0M463.6 420.3h0M454.2 424.3h0M453.1 425.2h0M460.1 422.9h0M460.0 422.0h0" stroke="#ff0000" stroke-opacity="0.5" stroke-width="2.30" stroke-linecap="round" fill="none"/><path d="M370.5 394.1h0M398.2 380.2h0M405.1 405.2h0M394.2 372.9h0M394.8 374.3h0M406.5 413.4h0M405.8 415.5h0M393.6 404.8h0M392.2 404.8h0M425.0 432.0h0M402.2 417.1h0M439.2 435.2h0M406.4 430.5h0M406.2 394.2h0M381.2 404.4h0M387.0 413.5h0M387.3 416.3h0M386.0 429.7h0M385.7 430.9h0M378.8 386.4h0M412.3 431.3h0M397.2 414.0h0M446.6 432.0h0M373.1 416.1h0M395.3 419.2h0M404.0 415.8h0M428.4 425.1h0M427.6 426.9h0M377.5 404.5h0M429.6 437.0h0M429.1 437.9h0M411.0 435.8h0M382.8 424.1h0M407.2 384.4h0M383.3 429.8h0M392.7 431.9h0M404.1 431.8h0M380.3 429.5h0M438.3 430.8h0M412.6 424.0h0M402.2 393.9h0M383.1 413.9h0M373.8 395.9h0M418.3 423.0h0M380.7 417.1h0M366.6 400.2h0M416.1 421.6h0M399.4 446.5h0M393.4 390.1h0M382.7 409.0h0M395.7 425.2h0M376.6 408.8h0M401.3 435.1h0M381.8 423.7h0M393.3 365.8h0M414.4 436.1h0M414.6 437.6h0M401.8 405.0h0M393.3 382.9h0M409.1 427.6h0M382.0 388.3h0M392.2 427.5h0M393.0 428.9h0M376.7 423.7h0M386.4 438.7h0M395.3 422.8h0M399.9 404.8h0M405.7 420.4h0M394.4 380.9h0M393.7 382.4h0M446.3 432.8h0M381.0 398.9h0M395.2 441.4h0M394.3 441.2h0M370.4 410.7h0M390.4 426.9h0M386.7 378.2h0M385.3 438.0h0M424.4 442.7h0M395.6 433.7h0M381.2 428.3h0M398.1 414.0h0M400.7 444.0h0M402.2 373.5h0M371.2 414.4h0M373.5 397.0h0M406.7 438.1h0M408.3 445.6h0M370.1 417.5h0M396.2 446.5h0M406.9 442.6h0M389.5 395.2h0M389.8 395.6h0M396.5 410.8h0M374.1 433.9h0M397.7 375.9h0M372.7 403.3h0M373.3 404.6h0M433.6 435.8h0M434.5 438.2h0M380.1 397.3h0M388.4 394.9h0M409.1 445.4h0M402.4 437.5h0M387.6 428.5h0M417.3 435.3h0M377.9 389.4h0M377.4 390.5h0M402.9 403.7h0M366.2 398.8h0M378.5 421.3h0M404.4 429.1h0M403.8 429.3h0M400.0 428.0h0M398.5 429.3h0M397.1 430.9h0M393.4 444.5h0M365.8 394.5h0M409.7 393.9h0M401.2 370.0h0M399.8 370.7h0M401.4 388.2h0M402.1 389.5h0M395.7 380.5h0M393.7 365.9h0M395.3 368.4h0M394.6 369.5h0M393.5 388.4h0M398.5 373.2h0M399.4 368.4h0M400.8 378.7h0M393.1 377.5h0M391.5 383.9h0M394.2 360.6h0M400.5 382.3h0M404.1 388.1h0M406.5 388.3h0M392.9 370.0h0M395.1 360.3h0M444.8 438.3h0M436.3 431.5h0M448.7 433.1h0M449.9 433.4h0M435.5 431.4h0M407.1 436.5h0M447.9 431.9h0M450.0 433.7h0M409.0 439.5h0M386.8 439.5h0M385.7 441.0h0M384.4 436.2h0M386.1 438.4h0M440.5 432.5h0M426.2 433.3h0M433.3 431.4h0M427.8 440.1h0M450.5 429.9h0M395.1 440.4h0M393.6 437.0h0M414.1 410.6h0M411.3 408.1h0M411.6 407.4h0M407.1 403.6h0M364.7 396.0h0M470.4 423.0h0M470.0 423.8h0M456.5 423.7h0M463.5 422.6h0M456.5 424.2h0M464.5 422.7h0M470.4 424.1h0M457.1 422.3h0M449.8 425.6h0M450.8 424.3h0M448.4 429.8h0" stroke="#0000ff" stroke-opacity="0.5" stroke-width="2.30" stroke-linecap="round" fill="none"/><path d="M370.2 402.0h0M367.3 398.6h0M399.3 380.2h0M385.0 412.5h0M393.6 371.4h0M388.3 436.4h0M392.5 436.8h0M393.5 437.5h0M437.2 434.6h0M373.3 403.6h0M410.8 425.4h0M407.9 402.2h0M390.9 437.7h0M407.9 386.7h0M372.5 415.0h0M379.6 402.3h0M403.8 417.1h0M411.5 435.4h0M407.2 382.3h0M382.5 431.1h0M397.6 429.9h0M395.3 431.7h0M393.8 438.7h0M394.7 439.9h0M381.2 427.3h0M410.0 390.5h0M411.0 391.6h0M372.8 393.6h0M384.6 403.9h0M400.6 444.6h0M400.0 444.7h0M373.6 394.3h0M372.8 395.7h0M401.7 440.6h0M404.7 433.2h0M382.2 440.4h0M377.4 409.7h0M371.4 403.0h0M385.6 386.9h0M384.3 387.9h0M402.3 402.9h0M401.0 403.8h0M395.9 403.9h0M419.2 432.5h0M420.6 432.8h0M403.8 390.3h0M381.8 421.3h0M381.6 422.2h0M375.1 425.2h0M386.7 405.3h0M386.9 406.7h0M410.5 426.7h0M385.1 422.1h0M396.7 422.4h0M404.6 399.1h0M405.3 399.5h0M404.2 378.0h0M445.3 431.2h0M382.5 398.9h0M369.2 412.8h0M411.6 443.3h0M388.6 377.5h0M396.4 399.2h0M397.7 399.9h0M399.3 378.5h0M398.7 379.5h0M439.0 437.5h0M400.7 446.3h0M401.1 373.1h0M376.7 431.2h0M385.9 397.8h0M370.7 411.4h0M371.0 413.2h0M402.9 385.7h0M402.0 387.8h0M404.0 424.1h0M401.5 424.1h0M393.8 441.6h0M389.5 397.1h0M395.3 411.8h0M394.4 412.0h0M380.1 428.1h0M372.9 402.2h0M377.9 414.2h0M378.8 402.4h0M379.9 396.6h0M403.4 424.8h0M401.9 438.2h0M400.7 439.3h0M391.6 379.6h0M396.2 439.6h0M387.5 395.2h0M367.1 398.7h0M381.9 408.7h0M405.7 429.7h0M398.0 430.5h0M413.0 425.7h0M366.9 394.1h0M410.3 430.1h0M397.0 380.1h0M394.9 381.4h0M390.0 378.7h0M394.8 383.0h0M397.1 383.7h0M402.5 379.8h0M403.2 381.0h0M392.1 386.7h0M392.0 387.9h0M397.7 374.5h0M407.1 378.4h0M394.7 383.4h0M393.9 368.3h0M402.0 380.7h0M401.4 380.2h0M388.4 388.4h0M391.0 382.2h0M395.1 374.8h0M398.3 381.5h0M392.1 371.4h0M393.5 360.9h0M395.5 359.2h0M394.9 360.2h0M444.0 437.3h0M442.4 437.5h0M439.5 432.3h0M438.1 433.0h0M394.8 441.2h0M434.6 430.6h0M418.8 435.5h0M427.7 438.0h0M390.7 442.9h0M390.2 443.6h0M412.2 443.7h0M447.2 430.7h0M443.5 438.1h0M393.9 436.1h0M412.8 410.2h0M410.4 403.9h0M411.0 407.4h0M371.2 392.6h0M364.0 396.7h0M365.0 395.9h0M452.0 423.1h0M466.1 422.6h0M450.4 427.0h0M457.5 421.3h0M450.7 425.5h0M453.0 423.7h0M452.7 424.8h0M450.4 427.4h0M462.2 422.6h0" stroke="#0000ff" stroke-opacity="0.5" stroke-width="2.30" stroke-linecap="round" fill="none"/><path d="M388.9 405.2h0M369.6 397.1h0M399.5 384.1h0M393.8 429.1h0M393.8 430.6h0M378.0 417.8h0M392.8 366.9h0M391.1 371.8h0M383.2 414.1h0M405.7 414.5h0M390.7 405.1h0M406.2 375.5h0M405.8 377.5h0M371.5 402.7h0M406.0 394.7h0M367.2 405.4h0M392.4 410.4h0M393.9 404.3h0M407.2 411.4h0M387.1 414.5h0M386.2 432.1h0M398.1 445.2h0M379.3 385.4h0M403.6 403.4h0M398.1 416.7h0M406.7 401.8h0M400.8 393.2h0M380.1 400.8h0M369.6 414.6h0M371.8 415.8h0M437.0 427.6h0M437.2 429.4h0M410.3 412.3h0M411.8 412.2h0M412.9 412.5h0M383.8 423.8h0M407.2 383.6h0M393.7 432.8h0M414.4 419.1h0M384.3 415.0h0M373.4 395.0h0M386.5 402.8h0M383.6 411.0h0M404.4 432.0h0M375.9 407.9h0M387.0 387.1h0M400.0 404.1h0M418.6 430.8h0M418.2 431.6h0M401.5 389.6h0M394.6 365.9h0M402.2 406.8h0M449.8 437.6h0M408.6 428.3h0M380.0 390.8h0M376.4 422.7h0M385.4 439.0h0M387.6 430.9h0M406.3 419.3h0M405.1 421.9h0M398.8 376.7h0M403.2 376.8h0M447.1 433.7h0M380.2 399.3h0M369.4 411.4h0M450.6 434.2h0M376.5 403.7h0M386.5 439.1h0M425.1 441.6h0M395.5 435.3h0M382.1 427.8h0M438.8 438.6h0M373.6 398.4h0M372.4 399.4h0M431.5 434.5h0M408.4 437.1h0M408.8 444.3h0M397.4 446.6h0M405.4 442.0h0M403.2 424.4h0M380.9 426.5h0M406.0 436.4h0M378.5 413.2h0M377.8 415.1h0M378.4 403.8h0M377.3 404.5h0M434.1 436.5h0M408.8 446.3h0M397.4 407.6h0M395.6 444.8h0M365.1 410.2h0M386.3 413.4h0M419.1 434.6h0M416.1 435.7h0M395.0 438.9h0M417.1 441.5h0M386.5 395.3h0M404.2 402.9h0M401.8 403.7h0M380.8 407.8h0M374.9 432.2h0M377.0 434.5h0M399.1 425.7h0M399.4 427.0h0M392.4 442.2h0M408.1 393.5h0M410.8 394.7h0M396.3 383.1h0M396.3 384.4h0M396.6 369.7h0M399.9 375.1h0M390.4 377.8h0M398.7 386.1h0M392.6 385.2h0M393.7 387.2h0M397.4 376.1h0M406.4 379.0h0M405.1 379.1h0M395.2 382.4h0M403.3 379.5h0M391.0 369.4h0M391.2 381.1h0M396.5 374.1h0M395.7 360.5h0M402.1 382.3h0M394.5 358.5h0M393.1 359.0h0M394.9 362.3h0M443.3 436.3h0M446.6 433.0h0M380.4 436.6h0M387.1 438.7h0M407.8 437.4h0M431.0 436.5h0M425.0 432.4h0M447.6 433.5h0M432.1 432.6h0M417.5 435.3h0M419.8 435.5h0M440.9 440.7h0M395.4 442.3h0M394.9 435.2h0M412.0 406.4h0M412.1 406.7h0M365.4 397.6h0M366.4 397.1h0M462.9 422.6h0M472.0 422.7h0M459.0 423.2h0M456.6 422.4h0M471.9 422.6h0M468.3 423.2h0M454.1 424.2h0M467.8 421.9h0M455.2 423.8h0M450.6 425.1h0" stroke="#0000ff" stroke-opacity="0.5" stroke-width="2.30" stroke-linecap="round" fill="none"/><path d="M403.9 388.6h0M368.4 398.6h0M384.2 413.8h0M394.3 430.7h0M395.5 431.6h0M403.7 417.2h0M436.1 434.1h0M364.6 404.7h0M365.6 404.9h0M399.6 426.6h0M371.9 423.5h0M380.5 384.8h0M397.8 414.8h0M379.8 429.1h0M400.7 391.7h0M379.0 403.3h0M369.7 392.4h0M370.8 414.9h0M437.4 430.9h0M402.3 417.8h0M401.3 417.8h0M398.1 406.5h0M430.3 435.6h0M408.8 429.0h0M396.1 431.2h0M404.0 432.7h0M395.1 440.8h0M390.3 443.9h0M380.6 428.5h0M385.7 403.5h0M404.7 438.6h0M415.8 420.6h0M397.7 420.3h0M396.6 421.5h0M405.8 418.1h0M406.3 418.6h0M383.2 410.1h0M391.5 394.7h0M392.6 395.5h0M382.8 439.9h0M384.4 440.6h0M402.5 435.6h0M373.7 402.0h0M373.0 402.9h0M395.9 405.0h0M391.5 404.3h0M391.9 365.5h0M414.6 435.1h0M393.0 384.1h0M381.0 389.9h0M398.5 436.1h0M394.0 430.0h0M377.3 424.5h0M387.8 438.7h0M389.1 411.1h0M388.1 411.5h0M386.5 411.4h0M387.8 429.3h0M393.3 383.8h0M404.0 410.6h0M368.1 397.0h0M379.7 384.1h0M380.5 384.2h0M451.2 436.1h0M413.3 443.1h0M389.3 377.2h0M426.9 440.7h0M395.8 432.6h0M400.6 378.0h0M399.6 414.7h0M400.5 444.6h0M383.7 432.0h0M402.3 386.7h0M399.3 446.2h0M393.3 440.9h0M371.3 432.8h0M372.3 433.1h0M397.2 374.9h0M415.1 436.4h0M396.9 408.6h0M392.2 380.4h0M388.2 429.3h0M397.7 439.8h0M416.0 440.2h0M373.8 417.1h0M384.8 395.4h0M383.8 380.8h0M380.1 421.9h0M376.1 433.6h0M393.5 443.5h0M390.4 386.5h0M420.7 444.6h0M399.0 371.1h0M397.2 370.8h0M397.1 366.9h0M401.7 375.6h0M403.1 375.9h0M390.2 376.3h0M396.2 383.4h0M402.0 380.7h0M403.2 377.7h0M403.0 379.5h0M392.8 370.0h0M398.6 388.0h0M403.6 378.9h0M394.5 384.4h0M395.1 368.7h0M394.8 374.6h0M392.7 360.5h0M399.7 382.6h0M405.4 388.0h0M397.8 377.9h0M393.5 357.5h0M395.7 361.8h0M393.7 361.9h0M435.4 433.4h0M436.4 434.0h0M407.7 429.7h0M419.2 435.4h0M435.5 432.6h0M407.7 436.8h0M409.0 437.4h0M444.8 433.3h0M432.0 436.5h0M433.2 436.3h0M382.9 433.4h0M383.9 435.0h0M389.7 438.8h0M387.9 438.5h0M426.2 431.5h0M441.9 441.5h0M413.7 442.6h0M411.3 444.1h0M397.3 437.7h0M445.2 428.8h0M445.6 430.1h0M446.8 431.1h0M410.6 408.6h0M409.7 404.6h0M412.9 405.2h0M411.8 408.4h0M366.6 393.0h0M366.7 394.1h0M369.8 392.2h0M469.7 425.0h0M454.7 422.7h0M459.1 423.1h0M466.1 420.0h0M450.5 424.0h0M448.9 426.6h0M465.1 423.3h0M448.9 429.9h0M453.5 422.8h0M470.0 423.1h0M456.9 420.0h0M450.7 425.4h0M470.3 423.7h0M468.9 424.2h0M456.4 422.3h0" stroke="#0000ff" stroke-opacity="0.5" stroke-width="2.30" stroke-linecap="round" fill="none"/><rect x="414.5" y="360.5" width="55.0" height="25.5" rx="2" fill="#fff" fill-opacity="0.85" stroke="#e4e4e4" stroke-width="0.8"/><circle cx="425.5" cy="367.64" r="2.6" fill="#ff0000" fill-opacity="0.35"/><text x="434.50" y="370.84" font-size="9" text-anchor="start" fill="#111" textLength="32.0" lengthAdjust="spacingAndGlyphs">Original</text><circle cx="425.5" cy="379.37" r="2.6" fill="#0000ff" fill-opacity="0.35"/><text x="434.50" y="382.57" font-size="9" text-anchor="start" fill="#111" textLength="31.5" lengthAdjust="spacingAndGlyphs">GT-GAN</text><line x1="343.25" y1="388.00" x2="344.75" y2="388.00" stroke="#aaa" stroke-width="0.9"/><line x1="343.25" y1="416.25" x2="344.75" y2="416.25" stroke="#aaa" stroke-width="0.9"/><line x1="343.25" y1="444.50" x2="344.75" y2="444.50" stroke="#aaa" stroke-width="0.9"/><text x="360.00" y="462.00" font-size="9" text-anchor="middle" fill="#222">−10</text><text x="400.00" y="462.00" font-size="9" text-anchor="middle" fill="#222">0</text><text x="440.75" y="462.00" font-size="9" text-anchor="middle" fill="#222">10</text><text x="341.55" y="391.20" font-size="9" text-anchor="end" fill="#222">10</text><text x="341.55" y="419.45" font-size="9" text-anchor="end" fill="#222">0</text><text x="341.55" y="447.70" font-size="9" text-anchor="end" fill="#222">−10</text><line x1="506.75" y1="356.3" x2="636" y2="356.3" stroke="#e6e6e6" stroke-width="1"/><line x1="636" y1="356.3" x2="636" y2="452.2" stroke="#8a8a8a" stroke-width="1.6"/><path d="M531.4 408.7h0M566.9 429.5h0M587.5 443.3h0M557.3 398.1h0M568.1 417.2h0M566.9 417.4h0M572.5 390.2h0M566.8 399.9h0M569.7 416.1h0M571.0 417.0h0M570.5 434.3h0M544.8 391.2h0M543.3 391.3h0M613.3 435.3h0M558.0 410.9h0M601.5 441.7h0M583.1 440.1h0M581.9 440.7h0M555.1 438.1h0M587.0 433.8h0M562.4 410.3h0M569.6 443.6h0M568.1 443.9h0M544.3 416.5h0M539.7 392.6h0M541.1 387.3h0M553.1 369.0h0M560.4 390.4h0M556.8 366.8h0M555.9 367.5h0M532.6 420.4h0M564.5 397.5h0M565.7 408.6h0M567.0 408.8h0M547.7 430.8h0M552.5 380.7h0M564.3 389.1h0M582.0 431.2h0M529.7 418.2h0M527.5 419.1h0M568.1 425.6h0M558.1 423.7h0M567.6 390.0h0M568.5 401.4h0M535.3 421.9h0M558.4 388.9h0M561.7 434.2h0M584.5 428.0h0M547.5 384.4h0M547.2 435.7h0M548.0 436.5h0M541.6 417.1h0M540.5 418.8h0M563.8 428.1h0M566.2 404.6h0M540.8 406.9h0M542.5 407.6h0M568.3 421.2h0M551.2 395.1h0M541.6 430.9h0M537.7 394.7h0M563.6 401.3h0M576.7 429.0h0M577.4 433.0h0M552.3 404.2h0M553.0 405.4h0M558.1 390.3h0M556.2 391.8h0M539.2 386.2h0M552.7 438.1h0M544.4 404.0h0M601.4 436.0h0M602.1 437.7h0M592.9 439.3h0M590.7 440.8h0M532.0 416.4h0M531.9 418.7h0M554.5 389.2h0M556.9 370.0h0M548.1 405.4h0M601.3 438.7h0M541.7 435.8h0M551.2 411.0h0M561.8 383.0h0M570.3 417.4h0M569.0 419.2h0M545.9 413.7h0M560.4 444.8h0M554.4 437.2h0M537.2 389.6h0M565.4 394.2h0M564.7 395.3h0M550.6 424.8h0M552.7 393.2h0M552.1 394.0h0M573.9 445.6h0M572.8 446.5h0M563.9 427.4h0M552.5 398.6h0M535.9 408.7h0M560.5 393.2h0M561.2 394.1h0M561.7 441.6h0M586.1 440.7h0M529.3 413.2h0M549.8 403.6h0M534.6 425.3h0M535.3 426.5h0M552.9 392.1h0M589.7 428.0h0M540.5 413.8h0M553.0 423.1h0M566.2 371.6h0M556.3 390.0h0M563.2 376.1h0M569.5 385.5h0M564.3 368.8h0M569.1 379.4h0M556.1 388.0h0M557.4 384.8h0M556.2 380.2h0M557.5 381.9h0M562.9 371.5h0M556.7 384.7h0M561.7 382.8h0M565.4 387.3h0M559.5 379.2h0M559.5 380.1h0M560.2 387.9h0M566.5 373.3h0M559.8 370.3h0M569.7 380.2h0M558.7 369.0h0M556.1 362.4h0M564.0 371.0h0M566.6 372.4h0M556.9 383.3h0M564.9 388.9h0M564.1 389.6h0M556.9 374.3h0M558.8 384.9h0M555.1 368.8h0M557.6 380.2h0M557.4 382.4h0M566.0 373.6h0M563.9 389.4h0M563.1 384.8h0M557.2 367.6h0M556.4 364.5h0M555.4 365.6h0M562.7 366.3h0M554.4 386.4h0M560.3 371.2h0M558.9 372.0h0M565.6 379.1h0M560.1 382.8h0M566.9 389.5h0M570.5 378.0h0M563.9 388.7h0M553.6 379.3h0M567.2 388.0h0M564.2 374.7h0M568.1 379.1h0M563.8 382.6h0M555.5 366.8h0M570.7 382.6h0M552.4 381.6h0M567.5 374.5h0M563.3 368.1h0M562.6 369.4h0M558.7 369.4h0M552.0 370.8h0M553.1 372.1h0M555.0 366.9h0M553.6 368.7h0M559.3 374.1h0M568.3 377.2h0M551.7 384.4h0M579.3 436.9h0M575.4 430.0h0M553.9 441.4h0M559.0 431.7h0M570.3 439.6h0M568.4 440.6h0M600.7 440.2h0M601.4 440.4h0M574.2 434.9h0M604.6 431.4h0M607.1 433.0h0M547.2 434.6h0M546.5 431.9h0M606.9 436.3h0M558.4 434.6h0M603.8 434.8h0M563.0 436.3h0M607.2 441.0h0M594.6 437.2h0M580.1 437.5h0M554.1 435.4h0M553.6 436.4h0M564.8 441.4h0M547.8 433.9h0M600.8 438.5h0M579.9 437.2h0M520.3 421.3h0M523.1 440.4h0M532.4 445.5h0M618.4 424.5h0M626.6 422.6h0M620.1 421.6h0M634.1 425.0h0M627.8 423.7h0M612.3 428.3h0M622.8 421.7h0M630.5 423.4h0M625.6 421.8h0M630.5 422.6h0M621.9 422.2h0M613.3 426.2h0M631.5 422.8h0M619.1 424.1h0M628.5 424.2h0M620.8 421.6h0M630.0 421.7h0M616.5 423.9h0M615.6 423.8h0" stroke="#ff0000" stroke-opacity="0.55" stroke-width="2.30" stroke-linecap="round" fill="none"/><path d="M576.5 438.9h0M586.7 442.5h0M557.2 396.9h0M607.7 428.8h0M541.2 404.3h0M584.8 434.5h0M550.2 417.7h0M572.1 389.6h0M570.9 432.6h0M566.4 384.2h0M565.4 384.8h0M570.1 396.2h0M542.1 415.6h0M562.6 417.4h0M581.2 441.2h0M566.4 448.3h0M540.7 417.1h0M557.3 431.6h0M538.4 392.8h0M536.8 393.2h0M545.9 438.0h0M543.8 393.1h0M556.5 421.7h0M547.2 382.3h0M534.1 407.9h0M576.3 419.9h0M550.7 426.8h0M570.0 406.4h0M583.4 437.3h0M558.0 415.5h0M552.5 382.0h0M552.4 383.0h0M563.7 405.8h0M562.7 406.4h0M566.0 424.1h0M567.2 424.5h0M558.9 413.5h0M532.5 406.2h0M531.3 407.3h0M537.5 421.3h0M536.2 421.3h0M560.8 371.7h0M531.3 424.1h0M540.9 418.1h0M553.3 434.6h0M557.9 380.3h0M567.3 413.9h0M567.3 414.7h0M570.7 390.4h0M568.6 409.4h0M558.4 424.5h0M552.6 379.9h0M603.3 430.9h0M560.9 389.7h0M568.1 419.6h0M600.1 436.7h0M554.3 437.2h0M544.0 397.6h0M554.8 402.6h0M570.9 416.5h0M570.3 417.4h0M561.4 440.2h0M538.8 395.6h0M561.8 391.3h0M577.7 430.6h0M546.3 427.5h0M552.0 380.5h0M553.0 381.9h0M538.0 385.6h0M548.5 434.4h0M548.9 435.2h0M549.6 390.4h0M550.2 392.0h0M601.8 438.3h0M543.6 403.1h0M566.2 434.8h0M591.2 439.7h0M547.4 418.5h0M531.5 417.5h0M544.9 434.8h0M609.9 430.8h0M610.7 431.7h0M562.6 432.5h0M564.3 433.2h0M564.3 388.8h0M541.3 435.3h0M559.5 381.3h0M561.2 382.0h0M577.3 422.9h0M593.1 432.4h0M574.5 436.7h0M575.8 437.7h0M576.7 438.4h0M533.2 413.2h0M532.4 414.5h0M545.0 414.7h0M544.3 416.3h0M604.9 439.3h0M546.0 382.0h0M536.3 408.0h0M529.3 415.5h0M565.6 393.1h0M542.5 416.0h0M601.0 441.5h0M600.9 433.9h0M602.9 434.7h0M584.7 437.2h0M584.7 438.1h0M551.1 395.2h0M539.5 401.7h0M539.7 403.2h0M563.1 426.4h0M550.3 397.7h0M551.4 398.5h0M535.3 405.6h0M555.2 435.4h0M562.6 441.7h0M586.1 442.2h0M585.4 443.9h0M609.1 429.2h0M547.8 403.6h0M539.1 401.5h0M564.2 379.1h0M551.8 424.3h0M546.0 439.8h0M558.3 386.8h0M558.7 388.3h0M554.6 366.8h0M560.4 368.8h0M561.0 369.9h0M555.8 365.0h0M563.2 368.1h0M562.3 370.9h0M563.0 370.1h0M564.7 379.7h0M563.3 381.8h0M552.2 375.6h0M552.0 376.8h0M564.5 388.6h0M560.3 389.3h0M560.4 390.1h0M565.3 372.5h0M555.3 388.4h0M560.4 373.4h0M561.9 384.6h0M556.3 363.6h0M557.0 382.1h0M559.6 383.5h0M553.2 373.3h0M552.8 374.6h0M562.5 380.3h0M562.5 390.0h0M562.6 382.6h0M561.3 376.7h0M568.9 385.0h0M569.1 386.6h0M552.4 385.1h0M553.0 385.4h0M552.7 377.2h0M557.9 372.7h0M560.9 368.3h0M562.5 388.8h0M563.8 376.0h0M556.8 372.6h0M559.4 386.8h0M559.6 387.6h0M558.8 386.6h0M559.7 369.5h0M563.8 367.9h0M557.9 372.6h0M555.2 369.8h0M567.9 387.9h0M562.5 363.6h0M568.2 387.2h0M569.2 379.0h0M566.9 389.0h0M555.4 374.1h0M556.2 374.7h0M564.0 382.3h0M555.6 385.3h0M569.0 381.2h0M569.9 381.7h0M560.2 362.7h0M560.9 363.4h0M554.1 367.1h0M565.6 378.8h0M566.1 382.7h0M559.9 435.6h0M556.0 433.6h0M575.2 430.7h0M554.0 442.2h0M577.6 438.7h0M557.7 432.8h0M569.0 440.6h0M600.1 438.9h0M589.6 437.7h0M589.2 435.5h0M546.6 430.8h0M547.0 433.6h0M592.9 435.1h0M593.7 436.1h0M566.1 441.5h0M563.8 441.8h0M597.7 431.6h0M559.7 428.4h0M560.5 429.3h0M554.4 434.1h0M581.9 438.6h0M614.8 426.0h0M612.6 429.3h0M633.9 424.1h0M629.5 423.2h0M628.6 423.1h0M634.5 424.1h0M624.3 422.7h0M633.4 423.4h0M615.7 425.8h0M613.1 426.1h0M617.5 422.9h0M618.2 423.2h0M615.1 423.8h0M625.6 422.8h0M629.3 421.4h0M615.9 423.0h0M613.6 425.5h0M613.3 427.5h0M614.1 424.1h0M617.7 423.8h0M631.5 423.5h0M612.9 430.1h0M614.0 425.6h0M611.3 429.4h0M630.5 423.7h0M627.1 422.6h0M616.2 422.9h0M617.7 423.7h0M631.7 423.7h0" stroke="#ff0000" stroke-opacity="0.55" stroke-width="2.30" stroke-linecap="round" fill="none"/><path d="M532.4 407.6h0M575.5 439.2h0M531.9 420.6h0M587.8 440.9h0M608.5 428.9h0M544.8 401.8h0M543.7 406.1h0M586.2 434.4h0M549.3 416.6h0M556.4 402.4h0M558.5 403.6h0M572.0 417.4h0M565.6 430.6h0M613.4 432.6h0M613.3 433.9h0M564.7 414.6h0M557.0 410.8h0M555.0 436.6h0M555.8 439.1h0M585.5 433.1h0M538.3 406.1h0M567.8 447.7h0M540.7 418.7h0M540.2 417.2h0M543.3 385.8h0M542.2 386.3h0M565.1 430.9h0M564.7 431.9h0M591.7 442.3h0M591.2 443.6h0M590.6 444.5h0M545.6 437.1h0M555.2 422.2h0M548.2 381.4h0M554.9 368.8h0M559.3 363.4h0M559.3 365.2h0M565.1 396.2h0M592.0 435.6h0M593.3 435.8h0M581.1 429.2h0M558.5 424.4h0M549.1 402.7h0M537.0 395.9h0M562.3 371.6h0M567.9 390.8h0M563.8 375.6h0M559.7 388.6h0M588.6 434.3h0M543.3 418.3h0M544.8 418.8h0M581.7 425.4h0M582.5 426.8h0M583.3 427.8h0M548.6 383.7h0M561.4 373.1h0M546.3 434.5h0M544.7 387.6h0M555.1 434.6h0M569.8 391.3h0M568.3 391.3h0M568.1 408.3h0M587.1 426.6h0M567.2 404.2h0M611.6 427.1h0M557.0 372.4h0M550.3 393.4h0M567.8 421.9h0M552.4 395.8h0M553.7 435.7h0M545.4 397.6h0M557.4 419.5h0M561.7 439.7h0M561.5 442.2h0M574.7 412.7h0M536.6 393.8h0M561.1 390.7h0M577.4 431.4h0M547.3 427.9h0M551.5 378.9h0M553.5 406.3h0M540.6 397.9h0M567.2 423.2h0M527.6 402.2h0M554.7 412.1h0M548.7 404.7h0M551.8 437.7h0M549.8 436.3h0M537.0 419.3h0M615.4 429.0h0M615.4 430.3h0M553.1 408.0h0M563.8 433.2h0M550.6 444.5h0M544.9 436.0h0M547.3 404.6h0M533.9 407.2h0M561.4 432.0h0M576.4 423.2h0M570.0 418.0h0M592.1 431.6h0M547.5 381.8h0M542.1 395.4h0M555.2 444.6h0M605.3 439.9h0M557.5 398.5h0M542.6 425.7h0M600.9 431.8h0M555.2 437.8h0M548.8 425.5h0M549.1 427.2h0M553.4 426.0h0M552.1 425.0h0M539.9 404.6h0M541.4 386.2h0M537.2 414.7h0M536.3 413.3h0M531.1 411.3h0M529.0 412.3h0M548.5 404.0h0M539.7 402.8h0M558.2 385.4h0M565.7 370.5h0M561.5 374.4h0M556.5 365.7h0M554.5 365.4h0M563.4 377.6h0M568.6 385.3h0M561.2 385.9h0M564.0 386.9h0M552.7 388.7h0M552.9 389.8h0M568.4 376.3h0M564.4 382.2h0M557.0 379.9h0M558.3 383.3h0M562.0 379.1h0M562.5 380.2h0M564.3 372.4h0M559.0 360.8h0M559.7 372.1h0M569.9 381.2h0M561.6 379.5h0M568.9 377.6h0M570.5 379.4h0M557.6 382.5h0M562.9 375.9h0M551.9 375.8h0M561.5 375.5h0M561.5 381.3h0M569.2 387.9h0M554.9 385.4h0M553.8 378.0h0M556.1 368.0h0M560.6 369.5h0M554.4 384.7h0M557.3 381.0h0M555.5 374.5h0M553.9 383.5h0M557.8 371.6h0M557.2 373.4h0M553.4 386.2h0M560.3 376.8h0M559.3 388.4h0M558.2 368.3h0M567.8 378.3h0M568.5 378.9h0M556.7 374.8h0M562.8 369.6h0M552.0 388.1h0M555.9 368.9h0M559.4 362.4h0M564.6 387.1h0M554.1 381.0h0M566.1 390.4h0M557.2 384.7h0M559.5 388.9h0M567.3 380.1h0M555.3 385.8h0M563.6 383.4h0M563.9 385.1h0M561.9 369.4h0M561.2 370.5h0M554.0 364.5h0M554.9 365.8h0M557.7 369.9h0M560.9 373.2h0M567.1 378.6h0M559.1 433.9h0M592.5 429.3h0M556.2 436.0h0M554.6 439.7h0M554.6 436.7h0M555.1 437.7h0M548.5 437.4h0M573.0 434.7h0M588.1 438.0h0M574.5 433.9h0M548.0 433.7h0M584.9 430.9h0M604.7 435.1h0M563.0 437.2h0M547.2 436.6h0M512.2 411.4h0M512.9 411.9h0M520.4 409.9h0M518.7 421.6h0M533.3 446.1h0M621.7 421.9h0M630.2 423.1h0M616.4 423.6h0M628.6 422.5h0M622.6 422.0h0M631.1 421.2h0M631.2 423.9h0M628.5 421.2h0M624.5 421.7h0M613.9 425.6h0M612.5 426.9h0M612.8 427.6h0M629.0 421.1h0M625.8 421.8h0M618.5 424.2h0M612.6 424.8h0M632.1 422.2h0M633.6 424.0h0M629.9 421.6h0M615.3 424.2h0M630.0 422.8h0M629.5 423.1h0" stroke="#ff0000" stroke-opacity="0.55" stroke-width="2.30" stroke-linecap="round" fill="none"/><path d="M577.9 438.5h0M543.3 425.1h0M541.8 425.4h0M532.7 420.5h0M557.2 398.6h0M556.5 399.3h0M542.4 404.9h0M604.8 428.9h0M604.2 429.2h0M552.1 418.9h0M557.8 402.4h0M563.9 430.9h0M563.3 430.6h0M543.3 416.3h0M588.0 434.7h0M584.7 432.7h0M536.6 405.7h0M539.3 406.7h0M554.0 369.0h0M545.8 439.4h0M552.0 419.1h0M549.5 380.3h0M534.5 406.7h0M561.2 389.4h0M575.6 420.4h0M574.1 421.3h0M532.3 418.8h0M593.2 434.6h0M592.3 434.1h0M592.5 434.9h0M557.3 414.0h0M533.5 402.4h0M561.2 407.2h0M581.0 428.5h0M529.4 418.8h0M567.5 392.2h0M556.8 389.3h0M541.5 391.0h0M586.1 426.9h0M585.3 428.1h0M563.2 443.4h0M562.4 443.8h0M560.3 370.9h0M567.9 412.5h0M563.5 426.9h0M563.8 429.8h0M586.2 426.1h0M588.1 426.6h0M559.9 424.1h0M568.1 402.7h0M610.5 428.0h0M555.0 370.6h0M556.4 371.4h0M548.2 381.6h0M548.5 383.2h0M556.9 421.1h0M566.4 400.1h0M565.1 400.6h0M560.1 390.9h0M550.2 381.9h0M561.9 446.3h0M557.2 391.5h0M566.4 424.4h0M528.3 401.8h0M561.0 400.8h0M560.7 401.8h0M550.1 436.9h0M614.8 431.4h0M561.3 445.1h0M560.7 445.1h0M564.3 433.1h0M555.4 370.1h0M557.8 370.4h0M556.1 421.6h0M601.1 440.3h0M565.3 389.4h0M578.5 422.3h0M555.5 428.1h0M603.7 438.8h0M599.3 441.4h0M599.4 443.1h0M547.0 381.6h0M556.0 439.3h0M538.1 389.7h0M549.3 425.2h0M536.1 407.2h0M549.7 430.8h0M576.9 433.8h0M576.6 434.5h0M555.2 434.2h0M564.5 441.8h0M549.9 404.1h0M547.6 403.3h0M539.8 400.5h0M554.5 389.6h0M557.4 365.1h0M553.7 364.0h0M562.3 386.2h0M562.2 367.1h0M567.9 376.5h0M564.3 383.2h0M568.2 378.9h0M570.1 379.8h0M568.9 381.5h0M561.3 371.6h0M554.9 379.3h0M558.2 378.1h0M558.2 379.1h0M562.9 373.0h0M555.8 366.8h0M557.2 367.2h0M553.0 374.7h0M556.5 388.8h0M556.1 371.4h0M555.3 372.5h0M565.0 371.4h0M561.1 373.9h0M561.8 375.1h0M553.8 386.4h0M553.7 385.0h0M551.1 385.5h0M554.3 379.4h0M558.1 381.1h0M561.3 366.7h0M564.9 375.4h0M563.5 386.4h0M553.5 381.9h0M553.5 369.6h0M558.9 377.3h0M554.7 366.0h0M555.7 375.6h0M553.3 386.8h0M559.9 363.5h0M560.9 364.1h0M563.9 378.0h0M562.1 383.2h0M561.4 382.9h0M558.3 363.0h0M553.5 378.2h0M567.2 380.5h0M568.0 374.0h0M565.8 375.4h0M556.5 371.1h0M554.6 372.9h0M592.1 430.5h0M556.0 434.2h0M578.6 440.2h0M547.0 437.0h0M573.9 435.1h0M574.6 437.1h0M575.1 437.3h0M551.8 435.5h0M575.5 432.9h0M606.0 432.2h0M606.3 435.9h0M558.7 433.2h0M602.3 435.1h0M557.5 437.3h0M556.4 437.8h0M544.9 437.9h0M543.2 437.4h0M554.2 434.9h0M554.8 435.3h0M546.5 434.9h0M560.8 430.5h0M555.0 433.1h0M580.9 438.0h0M519.4 410.7h0M519.0 422.1h0M614.5 424.4h0M627.8 422.7h0M621.0 421.1h0M624.5 422.1h0M620.4 421.7h0M618.8 422.4h0M631.8 422.4h0M628.8 421.9h0M614.3 424.3h0M634.5 424.8h0M613.1 428.3h0M613.8 424.4h0M613.7 424.5h0M613.8 427.1h0M616.9 423.5h0M619.2 422.9h0M614.4 426.0h0M629.4 422.6h0M621.4 420.2h0M617.6 423.1h0" stroke="#ff0000" stroke-opacity="0.55" stroke-width="2.30" stroke-linecap="round" fill="none"/><path d="M514.3 416.0h0M510.4 419.9h0M512.6 416.6h0M522.2 425.7h0M510.6 420.0h0M520.7 424.5h0M520.9 423.7h0M512.4 415.8h0M513.0 421.9h0M510.5 415.5h0M519.7 423.9h0M528.6 396.2h0M529.1 394.9h0M529.5 403.6h0M532.1 405.2h0M531.7 405.9h0M531.4 403.8h0M523.3 409.0h0M524.9 406.4h0M552.6 409.8h0M554.8 410.6h0M550.2 414.4h0M541.4 403.8h0M550.8 415.0h0M547.3 414.2h0M550.6 405.0h0M549.1 411.6h0M547.6 411.6h0M550.7 411.9h0M544.8 408.1h0M546.4 408.1h0M542.9 411.1h0M549.3 407.6h0M552.0 412.4h0M555.7 415.0h0M552.3 415.8h0M545.7 406.3h0M549.3 413.5h0M550.6 414.7h0M547.0 410.9h0M546.3 413.2h0M548.7 410.4h0M545.0 404.8h0M544.5 410.0h0M543.6 408.8h0M551.3 414.6h0M544.4 411.0h0M544.4 399.2h0M543.0 401.4h0M542.0 394.9h0M541.3 401.6h0M539.9 388.3h0M537.4 390.6h0M538.9 391.4h0M531.1 421.3h0M551.4 424.7h0M549.1 425.4h0M549.4 425.2h0M550.6 426.2h0M568.3 417.8h0M567.8 403.9h0M559.7 402.4h0M559.6 404.1h0M570.0 413.7h0M568.5 403.5h0M559.8 401.9h0M564.9 399.5h0M567.3 408.1h0M569.1 415.9h0M563.4 401.5h0M568.1 404.4h0M561.7 402.9h0M567.2 419.1h0M552.2 441.7h0M576.2 441.3h0M566.2 441.7h0M558.9 442.4h0M550.5 441.5h0M572.9 442.0h0M571.1 443.6h0M575.5 440.8h0M550.0 439.7h0M541.0 441.2h0M558.2 440.2h0M568.4 441.3h0M543.3 441.6h0M576.3 439.2h0M564.9 441.7h0M573.9 439.5h0M583.5 440.5h0M557.9 441.7h0M544.4 443.1h0M558.8 439.1h0M562.5 440.9h0M546.1 443.8h0M584.6 441.0h0M560.9 441.4h0M559.6 439.3h0M572.2 441.2h0M534.8 440.8h0M557.0 449.5h0M584.8 423.3h0M583.5 418.8h0M581.6 423.4h0M581.1 418.7h0M584.4 422.6h0M579.6 422.9h0M592.0 446.0h0M586.4 445.1h0M590.0 447.5h0M587.0 443.8h0M591.5 430.1h0M591.4 431.9h0M591.0 430.6h0M570.9 447.1h0M599.8 440.4h0M566.3 376.6h0M609.1 438.9h0M539.8 410.1h0M544.8 402.6h0M564.6 370.0h0M563.3 442.8h0M558.9 398.3h0M560.2 426.9h0M580.0 429.0h0M558.7 412.7h0M537.2 416.0h0M596.8 429.2h0" stroke="#008000" stroke-opacity="0.62" stroke-width="2.30" stroke-linecap="round" fill="none"/><path d="M514.0 420.8h0M523.0 425.2h0M512.5 417.1h0M516.9 413.4h0M515.3 421.6h0M514.9 422.6h0M513.9 414.3h0M512.3 418.7h0M517.4 421.1h0M512.5 420.1h0M515.5 414.2h0M515.4 418.4h0M516.1 414.7h0M510.9 415.7h0M530.1 397.4h0M529.5 396.1h0M529.8 406.6h0M531.3 402.4h0M548.0 412.1h0M545.1 406.8h0M548.2 411.5h0M552.6 412.3h0M552.8 413.2h0M545.8 406.7h0M551.7 410.0h0M549.7 405.8h0M547.7 406.7h0M544.1 411.2h0M545.7 406.8h0M552.4 410.4h0M551.2 410.8h0M544.3 413.7h0M551.5 414.6h0M546.8 407.6h0M549.1 408.3h0M542.4 411.8h0M547.0 418.3h0M549.3 416.4h0M547.9 411.0h0M547.7 416.8h0M543.2 412.4h0M549.2 406.0h0M548.5 408.1h0M540.0 417.4h0M546.3 405.7h0M548.0 417.1h0M548.7 403.1h0M549.1 414.6h0M544.1 413.0h0M550.3 413.1h0M552.7 413.5h0M545.1 411.6h0M550.6 412.5h0M545.2 398.5h0M541.4 397.2h0M538.9 397.0h0M543.7 396.8h0M543.3 396.9h0M542.6 391.9h0M539.3 387.3h0M532.2 423.1h0M530.2 421.6h0M531.3 423.7h0M550.0 426.0h0M551.0 425.8h0M569.0 417.7h0M567.6 416.2h0M569.9 409.9h0M565.6 404.6h0M562.6 402.3h0M569.2 409.5h0M545.4 443.7h0M553.1 438.9h0M582.2 440.7h0M576.9 442.4h0M547.8 438.4h0M571.8 441.4h0M567.0 441.1h0M560.2 441.9h0M566.9 440.2h0M537.2 436.0h0M565.7 442.6h0M542.8 442.9h0M584.6 439.7h0M565.3 439.4h0M578.3 440.5h0M556.9 442.6h0M540.6 442.2h0M573.0 439.8h0M581.3 441.2h0M582.5 440.1h0M536.6 437.3h0M557.8 440.2h0M577.9 441.2h0M583.0 421.2h0M579.5 419.2h0M583.4 420.6h0M580.7 422.4h0M582.8 423.4h0M580.0 417.9h0M585.6 419.3h0M581.2 419.1h0M593.7 447.5h0M587.9 444.2h0M591.9 447.1h0M594.7 445.7h0M587.2 445.4h0M591.4 430.1h0M594.7 431.3h0M591.6 429.4h0M578.0 432.5h0M554.6 423.0h0M527.9 399.4h0M568.3 392.0h0M556.9 368.1h0M572.1 394.4h0M561.3 389.5h0M615.2 426.2h0M570.1 387.0h0M566.4 395.5h0M538.4 402.4h0M567.5 387.4h0M569.1 404.2h0" stroke="#008000" stroke-opacity="0.62" stroke-width="2.30" stroke-linecap="round" fill="none"/><path d="M513.0 420.9h0M515.8 421.0h0M518.7 424.3h0M520.3 423.9h0M515.0 413.6h0M519.6 424.8h0M519.8 423.4h0M509.4 417.4h0M513.2 420.5h0M512.4 420.5h0M527.1 394.9h0M530.1 396.9h0M526.3 395.9h0M524.5 397.0h0M526.1 398.3h0M529.5 395.5h0M527.1 397.7h0M524.4 398.9h0M529.8 405.3h0M530.2 405.1h0M524.6 407.9h0M523.4 409.1h0M543.7 406.7h0M550.2 415.5h0M547.3 407.1h0M544.4 414.7h0M541.9 412.8h0M556.1 408.8h0M550.7 406.9h0M550.8 414.2h0M546.8 413.5h0M545.7 415.8h0M544.1 406.3h0M544.9 414.6h0M549.8 411.7h0M550.8 413.3h0M548.1 411.1h0M547.1 408.1h0M545.2 415.4h0M553.7 405.4h0M545.3 410.8h0M548.1 410.2h0M548.7 406.2h0M551.7 411.4h0M551.4 412.9h0M548.6 412.9h0M547.6 408.0h0M550.8 412.8h0M540.3 415.4h0M551.3 404.4h0M549.5 407.1h0M542.7 407.6h0M544.4 398.6h0M544.9 397.8h0M544.6 396.3h0M547.7 397.9h0M541.9 398.9h0M541.9 396.2h0M542.8 397.7h0M545.1 399.2h0M543.1 397.6h0M539.9 394.5h0M545.6 398.1h0M539.5 390.5h0M541.8 390.4h0M539.1 387.4h0M532.8 422.1h0M530.4 422.3h0M532.3 423.2h0M551.2 427.1h0M552.5 422.9h0M570.3 421.3h0M570.8 409.3h0M565.8 402.7h0M563.6 405.4h0M563.0 400.6h0M568.5 407.0h0M561.6 400.5h0M583.2 441.3h0M570.5 439.5h0M563.9 441.1h0M581.6 442.5h0M545.1 443.1h0M561.2 442.1h0M553.5 441.3h0M563.3 442.3h0M564.2 442.1h0M544.7 441.6h0M582.4 442.2h0M568.4 441.1h0M562.2 442.2h0M549.5 440.4h0M583.7 438.0h0M536.5 439.9h0M575.8 438.9h0M573.4 443.7h0M537.2 438.3h0M541.8 441.8h0M574.5 442.1h0M568.0 441.4h0M556.0 439.8h0M538.7 439.3h0M577.2 442.2h0M538.5 439.4h0M556.3 449.2h0M582.9 423.2h0M582.3 418.7h0M580.4 423.9h0M581.3 423.8h0M586.8 444.7h0M589.1 447.6h0M593.4 448.0h0M593.7 446.7h0M535.1 406.3h0M571.3 393.5h0M560.7 376.7h0M545.7 420.4h0M563.5 386.9h0M614.3 427.6h0M583.6 424.8h0M541.2 392.0h0M567.0 383.5h0M549.7 423.2h0" stroke="#008000" stroke-opacity="0.62" stroke-width="2.30" stroke-linecap="round" fill="none"/><path d="M517.5 419.8h0M521.3 423.3h0M519.9 424.7h0M520.3 424.2h0M512.0 417.7h0M514.5 412.9h0M510.6 419.2h0M510.3 417.4h0M518.9 424.1h0M511.6 419.3h0M526.8 399.3h0M524.7 398.9h0M525.6 398.6h0M527.3 397.2h0M530.6 395.6h0M530.0 395.3h0M523.5 409.7h0M547.9 406.8h0M547.1 406.4h0M547.4 410.5h0M546.8 407.9h0M547.5 412.7h0M547.0 412.4h0M550.8 410.8h0M543.7 415.4h0M546.9 413.6h0M547.2 409.8h0M544.4 408.4h0M549.0 409.3h0M544.5 410.6h0M551.0 407.0h0M549.7 408.8h0M545.1 409.5h0M553.7 409.4h0M541.6 395.9h0M545.2 395.0h0M541.6 396.4h0M539.5 397.7h0M537.4 391.3h0M538.3 388.5h0M539.6 389.1h0M531.3 422.9h0M529.9 423.2h0M531.6 423.6h0M530.8 420.6h0M531.3 422.9h0M552.9 425.7h0M549.9 424.9h0M568.9 405.9h0M569.5 404.8h0M566.5 406.9h0M558.9 404.6h0M567.9 406.3h0M563.0 403.6h0M568.9 413.7h0M565.9 419.8h0M568.2 420.2h0M566.3 407.8h0M564.5 403.0h0M569.3 406.0h0M568.4 416.5h0M546.7 440.6h0M582.6 441.2h0M554.2 438.2h0M581.0 439.2h0M546.7 441.1h0M585.0 437.8h0M581.9 440.3h0M571.4 440.7h0M538.9 435.1h0M583.1 440.6h0M556.6 440.3h0M543.7 442.0h0M536.4 437.0h0M556.0 441.2h0M573.4 443.0h0M582.6 421.9h0M581.4 419.7h0M582.2 417.8h0M584.8 421.3h0M592.0 446.8h0M591.3 429.8h0M566.0 397.4h0M560.1 363.5h0M572.2 442.8h0M599.8 440.9h0M592.5 428.1h0M551.3 442.2h0M565.5 371.5h0M552.6 425.2h0M556.9 393.3h0M553.8 374.3h0M533.0 428.0h0M577.9 433.7h0" stroke="#008000" stroke-opacity="0.62" stroke-width="2.30" stroke-linecap="round" fill="none"/><rect x="571.6" y="360.4" width="60.39999999999998" height="25.80000000000001" rx="2" fill="#fff" fill-opacity="0.85" stroke="#e4e4e4" stroke-width="0.8"/><circle cx="582.6" cy="367.62" r="2.6" fill="#ff0000" fill-opacity="0.35"/><text x="591.60" y="370.82" font-size="9" text-anchor="start" fill="#111" textLength="32.0" lengthAdjust="spacingAndGlyphs">Original</text><circle cx="582.6" cy="379.49" r="2.6" fill="#008000" fill-opacity="0.35"/><text x="591.60" y="382.69" font-size="9" text-anchor="start" fill="#111" textLength="37.0" lengthAdjust="spacingAndGlyphs">TimeGAN</text><line x1="506.25" y1="388.00" x2="507.75" y2="388.00" stroke="#aaa" stroke-width="0.9"/><line x1="506.25" y1="416.25" x2="507.75" y2="416.25" stroke="#aaa" stroke-width="0.9"/><line x1="506.25" y1="444.50" x2="507.75" y2="444.50" stroke="#aaa" stroke-width="0.9"/><text x="521.25" y="462.00" font-size="9" text-anchor="middle" fill="#222">−10</text><text x="563.75" y="462.00" font-size="9" text-anchor="middle" fill="#222">0</text><text x="605.00" y="462.00" font-size="9" text-anchor="middle" fill="#222">10</text><text x="504.55" y="391.20" font-size="9" text-anchor="end" fill="#222">10</text><text x="504.55" y="419.45" font-size="9" text-anchor="end" fill="#222">0</text><text x="504.55" y="447.70" font-size="9" text-anchor="end" fill="#222">−10</text><line x1="17.5" y1="479.5" x2="149" y2="479.5" stroke="#e6e6e6" stroke-width="1"/><line x1="17.5" y1="479.5" x2="17.5" y2="577" stroke="#a8a8a8" stroke-width="1"/><line x1="149" y1="479.5" x2="149" y2="577" stroke="#8a8a8a" stroke-width="1.6"/><path d="M25.00 577.00 L25.48 576.88 L26.12 576.77 L26.89 576.64 L27.73 576.47 L28.63 576.24 L29.54 575.93 L30.43 575.53 L31.25 575.00 L32.03 574.39 L32.81 573.75 L33.59 573.03 L34.38 572.22 L35.16 571.29 L35.94 570.21 L36.72 568.95 L37.50 567.50 L38.29 565.83 L39.09 563.95 L39.90 561.89 L40.70 559.69 L41.50 557.37 L42.28 554.96 L43.03 552.50 L43.75 550.00 L44.44 547.38 L45.12 544.58 L45.77 541.65 L46.41 538.67 L47.02 535.70 L47.62 532.80 L48.19 530.05 L48.75 527.50 L49.28 525.03 L49.79 522.53 L50.28 520.07 L50.75 517.73 L51.20 515.60 L51.64 513.76 L52.08 512.28 L52.50 511.25 L52.91 510.63 L53.30 510.34 L53.67 510.37 L54.03 510.70 L54.39 511.34 L54.75 512.28 L55.12 513.50 L55.50 515.00 L55.89 516.93 L56.28 519.37 L56.68 522.17 L57.08 525.23 L57.48 528.42 L57.90 531.61 L58.32 534.68 L58.75 537.50 L59.19 540.21 L59.65 543.00 L60.12 545.79 L60.59 548.52 L61.07 551.12 L61.55 553.53 L62.03 555.68 L62.50 557.50 L62.97 558.99 L63.44 560.21 L63.91 561.18 L64.38 561.95 L64.84 562.56 L65.31 563.04 L65.78 563.42 L66.25 563.75 L66.72 563.99 L67.19 564.08 L67.66 564.05 L68.12 563.91 L68.59 563.66 L69.06 563.34 L69.53 562.95 L70.00 562.50 L70.48 561.90 L70.97 561.08 L71.46 560.14 L71.95 559.14 L72.44 558.17 L72.90 557.31 L73.34 556.65 L73.75 556.25 L74.11 556.11 L74.43 556.14 L74.72 556.33 L75.00 556.64 L75.28 557.06 L75.57 557.57 L75.89 558.14 L76.25 558.75 L76.66 559.48 L77.10 560.39 L77.56 561.42 L78.05 562.50 L78.54 563.58 L79.03 564.61 L79.52 565.52 L80.00 566.25 L80.47 566.85 L80.94 567.40 L81.41 567.88 L81.88 568.28 L82.34 568.58 L82.81 568.77 L83.28 568.83 L83.75 568.75 L84.22 568.48 L84.71 568.00 L85.19 567.37 L85.67 566.64 L86.15 565.86 L86.62 565.09 L87.07 564.37 L87.50 563.75 L87.91 563.17 L88.30 562.55 L88.67 561.92 L89.03 561.33 L89.39 560.80 L89.75 560.38 L90.12 560.10 L90.50 560.00 L90.88 560.08 L91.25 560.32 L91.62 560.69 L92.00 561.17 L92.39 561.74 L92.81 562.37 L93.26 563.05 L93.75 563.75 L94.28 564.57 L94.85 565.57 L95.44 566.67 L96.06 567.81 L96.71 568.91 L97.37 569.90 L98.05 570.71 L98.75 571.25 L99.45 571.53 L100.17 571.61 L100.89 571.53 L101.64 571.33 L102.42 571.04 L103.23 570.69 L104.09 570.34 L105.00 570.00 L105.99 569.61 L107.07 569.09 L108.21 568.50 L109.38 567.89 L110.54 567.31 L111.68 566.81 L112.76 566.44 L113.75 566.25 L114.64 566.24 L115.46 566.36 L116.22 566.59 L116.95 566.91 L117.67 567.30 L118.41 567.75 L119.18 568.24 L120.00 568.75 L120.89 569.34 L121.82 570.04 L122.78 570.82 L123.75 571.64 L124.72 572.46 L125.68 573.23 L126.61 573.93 L127.50 574.50 L128.34 574.96 L129.16 575.36 L129.96 575.69 L130.73 575.97 L131.50 576.21 L132.25 576.41 L133.00 576.59 L133.75 576.75 L134.53 576.88 L135.36 576.96 L136.20 577.00 L137.02 577.02 L137.79 577.01 L138.48 577.00 L139.06 576.99 L139.50 577.00" fill="none" stroke="#1c5fae" stroke-width="2.2" stroke-linejoin="round"/><path d="M33.75 577.00 L37.50 568.75 L43.00 545.00 L49.25 499.50 L53.00 507.50 L60.00 550.00 L72.50 543.25 L79.50 553.75 L86.25 568.75 L90.50 577.00" fill="none" stroke="#fb6a12" stroke-width="2.2" stroke-linejoin="round" stroke-dasharray="6.6 3.0"/><rect x="89.3" y="482.7" width="54.7" height="26.80000000000001" rx="2" fill="#fff" fill-opacity="0.85" stroke="#e4e4e4" stroke-width="0.8"/><line x1="91.5" y1="489.53" x2="101.3" y2="489.53" stroke="#1c5fae" stroke-width="2.2"/><line x1="92.6" y1="501.46" x2="99.1" y2="501.46" stroke="#fb6a12" stroke-width="2.2"/><text x="109.00" y="492.73" font-size="9" text-anchor="start" fill="#111" textLength="32.0" lengthAdjust="spacingAndGlyphs">Original</text><text x="109.00" y="504.66" font-size="9" text-anchor="start" fill="#111" textLength="31.5" lengthAdjust="spacingAndGlyphs">GT-GAN</text><text x="36.30" y="586.30" font-size="9" text-anchor="middle" fill="#222">0.0</text><text x="83.00" y="586.30" font-size="9" text-anchor="middle" fill="#222">0.5</text><text x="130.70" y="586.30" font-size="9" text-anchor="middle" fill="#222">1.0</text><text x="15.00" y="486.20" font-size="9" text-anchor="end" fill="#222">5</text><text x="15.00" y="505.20" font-size="9" text-anchor="end" fill="#222">4</text><text x="15.00" y="523.70" font-size="9" text-anchor="end" fill="#222">3</text><text x="15.00" y="542.20" font-size="9" text-anchor="end" fill="#222">2</text><text x="15.00" y="561.20" font-size="9" text-anchor="end" fill="#222">1</text><text x="15.00" y="580.20" font-size="9" text-anchor="end" fill="#222">0</text><text x="83.00" y="596.30" font-size="9" text-anchor="middle" fill="#222">Data Value</text><text x="0" y="0" font-size="9.2" text-anchor="middle" fill="#222" transform="translate(7.20 528.00) rotate(-90)">Data Density Estimate</text><line x1="171.25" y1="479.5" x2="302.5" y2="479.5" stroke="#e6e6e6" stroke-width="1"/><line x1="171.25" y1="479.5" x2="171.25" y2="577" stroke="#a8a8a8" stroke-width="1"/><line x1="302.5" y1="479.5" x2="302.5" y2="577" stroke="#8a8a8a" stroke-width="1.6"/><path d="M180.00 577.00 L180.48 576.90 L181.12 576.83 L181.89 576.75 L182.73 576.62 L183.63 576.42 L184.54 576.11 L185.43 575.65 L186.25 575.00 L187.03 574.20 L187.81 573.30 L188.59 572.28 L189.38 571.12 L190.16 569.83 L190.94 568.39 L191.72 566.78 L192.50 565.00 L193.29 563.01 L194.09 560.82 L194.90 558.45 L195.70 555.94 L196.50 553.31 L197.28 550.59 L198.03 547.81 L198.75 545.00 L199.45 542.01 L200.13 538.75 L200.79 535.33 L201.44 531.88 L202.06 528.50 L202.65 525.31 L203.22 522.44 L203.75 520.00 L204.24 517.91 L204.69 516.04 L205.11 514.38 L205.50 512.97 L205.88 511.81 L206.25 510.92 L206.62 510.31 L207.00 510.00 L207.38 509.98 L207.75 510.23 L208.11 510.76 L208.47 511.56 L208.83 512.64 L209.20 513.98 L209.59 515.61 L210.00 517.50 L210.44 519.86 L210.91 522.75 L211.41 526.03 L211.91 529.53 L212.40 533.09 L212.88 536.54 L213.34 539.73 L213.75 542.50 L214.11 544.90 L214.40 547.13 L214.67 549.19 L214.92 551.09 L215.18 552.86 L215.48 554.51 L215.83 556.05 L216.25 557.50 L216.76 558.86 L217.35 560.14 L218.00 561.30 L218.67 562.34 L219.36 563.25 L220.03 564.00 L220.67 564.59 L221.25 565.00 L221.78 565.19 L222.28 565.17 L222.75 564.96 L223.20 564.61 L223.65 564.15 L224.09 563.62 L224.54 563.06 L225.00 562.50 L225.47 561.81 L225.94 560.91 L226.41 559.88 L226.88 558.83 L227.34 557.84 L227.81 557.02 L228.28 556.46 L228.75 556.25 L229.22 556.43 L229.69 556.93 L230.16 557.68 L230.62 558.59 L231.09 559.61 L231.56 560.64 L232.03 561.63 L232.50 562.50 L232.97 563.34 L233.44 564.27 L233.91 565.23 L234.38 566.17 L234.84 567.05 L235.31 567.80 L235.78 568.39 L236.25 568.75 L236.71 568.88 L237.17 568.83 L237.62 568.62 L238.08 568.28 L238.54 567.85 L239.01 567.34 L239.50 566.80 L240.00 566.25 L240.53 565.57 L241.08 564.69 L241.64 563.69 L242.22 562.66 L242.80 561.68 L243.38 560.86 L243.94 560.27 L244.50 560.00 L245.05 560.08 L245.59 560.43 L246.13 561.00 L246.67 561.72 L247.20 562.54 L247.73 563.40 L248.24 564.24 L248.75 565.00 L249.22 565.77 L249.63 566.65 L250.03 567.58 L250.42 568.52 L250.84 569.40 L251.31 570.19 L251.86 570.82 L252.50 571.25 L253.26 571.47 L254.11 571.52 L255.04 571.44 L256.02 571.25 L257.02 570.98 L258.04 570.66 L259.04 570.33 L260.00 570.00 L260.94 569.60 L261.88 569.06 L262.81 568.45 L263.75 567.81 L264.69 567.22 L265.62 566.72 L266.56 566.38 L267.50 566.25 L268.44 566.35 L269.39 566.62 L270.33 567.03 L271.28 567.55 L272.22 568.14 L273.16 568.76 L274.09 569.40 L275.00 570.00 L275.91 570.63 L276.83 571.35 L277.75 572.11 L278.66 572.89 L279.54 573.65 L280.40 574.37 L281.22 574.99 L282.00 575.50 L282.71 575.89 L283.35 576.19 L283.94 576.42 L284.52 576.59 L285.08 576.72 L285.67 576.82 L286.30 576.91 L287.00 577.00 L287.81 577.07 L288.72 577.11 L289.70 577.11 L290.69 577.09 L291.64 577.07 L292.50 577.04 L293.22 577.01 L293.75 577.00" fill="none" stroke="#1c5fae" stroke-width="2.2" stroke-linejoin="round"/><path d="M190.00 577.00 L190.23 576.44 L190.53 575.89 L190.89 575.25 L191.30 574.44 L191.72 573.35 L192.16 571.89 L192.59 569.97 L193.00 567.50 L193.39 564.41 L193.78 560.75 L194.18 556.63 L194.58 552.14 L194.98 547.39 L195.40 542.46 L195.82 537.47 L196.25 532.50 L196.69 527.07 L197.15 520.89 L197.62 514.32 L198.09 507.73 L198.57 501.51 L199.05 496.03 L199.53 491.65 L200.00 488.75 L200.47 487.38 L200.94 487.20 L201.41 488.01 L201.88 489.61 L202.34 491.81 L202.81 494.40 L203.28 497.20 L203.75 500.00 L204.21 503.11 L204.66 506.87 L205.10 511.07 L205.55 515.55 L206.00 520.11 L206.47 524.58 L206.97 528.77 L207.50 532.50 L208.06 535.89 L208.63 539.15 L209.23 542.27 L209.84 545.23 L210.48 548.01 L211.13 550.58 L211.81 552.91 L212.50 555.00 L213.22 556.80 L213.97 558.33 L214.75 559.62 L215.55 560.70 L216.35 561.62 L217.16 562.41 L217.96 563.11 L218.75 563.75 L219.51 564.27 L220.22 564.62 L220.93 564.82 L221.64 564.92 L222.38 564.95 L223.17 564.95 L224.04 564.95 L225.00 565.00 L226.09 565.09 L227.29 565.21 L228.59 565.31 L229.92 565.39 L231.27 565.42 L232.59 565.38 L233.84 565.25 L235.00 565.00 L236.08 564.62 L237.14 564.13 L238.16 563.55 L239.14 562.89 L240.07 562.19 L240.95 561.46 L241.76 560.72 L242.50 560.00 L243.15 559.30 L243.70 558.58 L244.18 557.86 L244.61 557.11 L245.01 556.33 L245.40 555.52 L245.81 554.66 L246.25 553.75 L246.73 552.68 L247.22 551.42 L247.71 550.05 L248.20 548.67 L248.69 547.38 L249.15 546.28 L249.59 545.45 L250.00 545.00 L250.36 544.88 L250.68 544.99 L250.97 545.32 L251.25 545.86 L251.53 546.61 L251.82 547.55 L252.14 548.68 L252.50 550.00 L252.90 551.65 L253.32 553.70 L253.76 556.03 L254.22 558.52 L254.70 561.03 L255.20 563.45 L255.71 565.65 L256.25 567.50 L256.81 569.07 L257.38 570.49 L257.98 571.77 L258.59 572.92 L259.23 573.94 L259.88 574.83 L260.56 575.60 L261.25 576.25 L262.01 576.73 L262.87 577.02 L263.78 577.15 L264.69 577.17 L265.56 577.13 L266.35 577.05 L267.01 577.00 L267.50 577.00" fill="none" stroke="#fb6a12" stroke-width="2.2" stroke-linejoin="round" stroke-dasharray="6.6 3.0"/><rect x="238" y="482.7" width="60" height="26.80000000000001" rx="2" fill="#fff" fill-opacity="0.85" stroke="#e4e4e4" stroke-width="0.8"/><line x1="240.2" y1="489.53" x2="250" y2="489.53" stroke="#1c5fae" stroke-width="2.2"/><line x1="241.3" y1="501.46" x2="247.8" y2="501.46" stroke="#fb6a12" stroke-width="2.2"/><text x="257.70" y="492.73" font-size="9" text-anchor="start" fill="#111" textLength="32.0" lengthAdjust="spacingAndGlyphs">Original</text><text x="257.70" y="504.66" font-size="9" text-anchor="start" fill="#111" textLength="37.0" lengthAdjust="spacingAndGlyphs">TimeGAN</text><text x="188.75" y="586.30" font-size="9" text-anchor="middle" fill="#222">0.0</text><text x="236.25" y="586.30" font-size="9" text-anchor="middle" fill="#222">0.5</text><text x="283.75" y="586.30" font-size="9" text-anchor="middle" fill="#222">1.0</text><text x="168.75" y="486.95" font-size="9" text-anchor="end" fill="#222">5</text><text x="168.75" y="505.60" font-size="9" text-anchor="end" fill="#222">4</text><text x="168.75" y="524.30" font-size="9" text-anchor="end" fill="#222">3</text><text x="168.75" y="542.90" font-size="9" text-anchor="end" fill="#222">2</text><text x="168.75" y="561.60" font-size="9" text-anchor="end" fill="#222">1</text><text x="168.75" y="580.20" font-size="9" text-anchor="end" fill="#222">0</text><text x="237.00" y="596.30" font-size="9" text-anchor="middle" fill="#222">Data Value</text><text x="0" y="0" font-size="9.2" text-anchor="middle" fill="#222" transform="translate(160.80 528.00) rotate(-90)">Data Density Estimate</text><line x1="342.1" y1="478.4" x2="476" y2="478.4" stroke="#e6e6e6" stroke-width="1"/><line x1="342.1" y1="577.0" x2="476" y2="577.0" stroke="#9a9a9a" stroke-width="1"/><line x1="476" y1="478.4" x2="476" y2="577.0" stroke="#8a8a8a" stroke-width="1.6"/><path d="M350.00 577.00 L352.05 577.01 L354.90 577.05 L358.31 577.09 L362.03 577.12 L365.81 577.15 L369.39 577.14 L372.54 577.10 L375.00 577.00 L376.79 576.89 L378.16 576.80 L379.20 576.69 L380.00 576.55 L380.64 576.33 L381.21 576.02 L381.80 575.59 L382.50 575.00 L383.25 574.25 L383.96 573.35 L384.61 572.32 L385.23 571.20 L385.83 570.01 L386.40 568.77 L386.95 567.51 L387.50 566.25 L388.02 564.95 L388.50 563.58 L388.94 562.16 L389.38 560.70 L389.81 559.24 L390.25 557.78 L390.73 556.36 L391.25 555.00 L391.80 553.66 L392.35 552.32 L392.92 550.99 L393.52 549.69 L394.14 548.42 L394.79 547.21 L395.50 546.06 L396.25 545.00 L397.08 544.02 L397.98 543.10 L398.93 542.25 L399.92 541.45 L400.92 540.71 L401.90 540.01 L402.86 539.36 L403.75 538.75 L404.60 538.16 L405.43 537.57 L406.24 537.03 L407.03 536.53 L407.80 536.11 L408.55 535.79 L409.29 535.57 L410.00 535.50 L410.68 535.57 L411.34 535.79 L411.97 536.11 L412.58 536.53 L413.18 537.03 L413.78 537.57 L414.38 538.16 L415.00 538.75 L415.62 539.37 L416.25 540.04 L416.88 540.76 L417.50 541.53 L418.12 542.34 L418.75 543.19 L419.38 544.08 L420.00 545.00 L420.62 545.97 L421.25 546.98 L421.88 548.04 L422.50 549.14 L423.12 550.27 L423.75 551.42 L424.38 552.58 L425.00 553.75 L425.62 554.97 L426.25 556.28 L426.88 557.63 L427.50 558.98 L428.12 560.31 L428.75 561.57 L429.38 562.73 L430.00 563.75 L430.61 564.62 L431.19 565.38 L431.77 566.05 L432.34 566.64 L432.94 567.19 L433.57 567.71 L434.26 568.22 L435.00 568.75 L435.83 569.31 L436.73 569.88 L437.68 570.43 L438.67 570.97 L439.67 571.46 L440.65 571.89 L441.61 572.24 L442.50 572.50 L443.35 572.63 L444.18 572.62 L444.99 572.52 L445.78 572.38 L446.55 572.21 L447.30 572.07 L448.04 571.98 L448.75 572.00 L449.43 572.10 L450.06 572.24 L450.66 572.43 L451.25 572.64 L451.84 572.89 L452.44 573.15 L453.07 573.44 L453.75 573.75 L454.51 574.11 L455.37 574.53 L456.28 575.00 L457.19 575.48 L458.06 575.95 L458.85 576.38 L459.51 576.74 L460.00 577.00" fill="none" stroke="#1c5fae" stroke-width="2.2" stroke-linejoin="round"/><path d="M351.25 577.00 L352.97 576.95 L355.33 576.91 L358.16 576.85 L361.25 576.78 L364.42 576.69 L367.48 576.58 L370.24 576.43 L372.50 576.25 L374.31 576.04 L375.85 575.81 L377.18 575.55 L378.36 575.27 L379.43 574.95 L380.44 574.59 L381.45 574.19 L382.50 573.75 L383.57 573.27 L384.58 572.76 L385.55 572.22 L386.48 571.64 L387.39 571.01 L388.27 570.32 L389.14 569.57 L390.00 568.75 L390.84 567.88 L391.65 566.97 L392.44 566.02 L393.20 565.00 L393.96 563.90 L394.72 562.71 L395.48 561.42 L396.25 560.00 L397.03 558.38 L397.81 556.54 L398.59 554.56 L399.38 552.50 L400.16 550.44 L400.94 548.46 L401.72 546.62 L402.50 545.00 L403.29 543.56 L404.09 542.21 L404.90 540.95 L405.70 539.80 L406.50 538.74 L407.28 537.80 L408.03 536.97 L408.75 536.25 L409.43 535.66 L410.06 535.18 L410.66 534.82 L411.25 534.56 L411.84 534.41 L412.44 534.35 L413.07 534.38 L413.75 534.50 L414.48 534.71 L415.25 535.04 L416.06 535.46 L416.88 535.97 L417.69 536.56 L418.50 537.23 L419.27 537.96 L420.00 538.75 L420.68 539.61 L421.34 540.56 L421.97 541.59 L422.58 542.69 L423.18 543.84 L423.78 545.03 L424.38 546.26 L425.00 547.50 L425.62 548.81 L426.25 550.22 L426.88 551.70 L427.50 553.20 L428.12 554.70 L428.75 556.14 L429.38 557.51 L430.00 558.75 L430.61 559.89 L431.19 560.98 L431.77 562.00 L432.34 562.97 L432.94 563.88 L433.57 564.73 L434.26 565.52 L435.00 566.25 L435.82 566.90 L436.70 567.45 L437.63 567.93 L438.59 568.36 L439.58 568.76 L440.57 569.15 L441.55 569.56 L442.50 570.00 L443.44 570.48 L444.38 570.97 L445.31 571.46 L446.25 571.95 L447.19 572.44 L448.12 572.90 L449.06 573.34 L450.00 573.75 L450.90 574.13 L451.76 574.50 L452.59 574.86 L453.44 575.19 L454.32 575.50 L455.27 575.78 L456.32 576.03 L457.50 576.25 L458.91 576.43 L460.57 576.58 L462.37 576.69 L464.22 576.78 L466.01 576.85 L467.64 576.91 L469.00 576.95 L470.00 577.00" fill="none" stroke="#fb6a12" stroke-width="2.2" stroke-linejoin="round" stroke-dasharray="6.6 3.0"/><rect x="416.5" y="481.8" width="55.5" height="26.19999999999999" rx="2" fill="#fff" fill-opacity="0.85" stroke="#e4e4e4" stroke-width="0.8"/><line x1="418.7" y1="488.48" x2="428.5" y2="488.48" stroke="#1c5fae" stroke-width="2.2"/><line x1="419.8" y1="500.14" x2="426.3" y2="500.14" stroke="#fb6a12" stroke-width="2.2"/><text x="436.20" y="491.68" font-size="9" text-anchor="start" fill="#111" textLength="32.0" lengthAdjust="spacingAndGlyphs">Original</text><text x="436.20" y="503.34" font-size="9" text-anchor="start" fill="#111" textLength="31.5" lengthAdjust="spacingAndGlyphs">GT-GAN</text><line x1="343.05" y1="493.00" x2="344.45" y2="493.00" stroke="#aaa" stroke-width="0.9"/><line x1="343.05" y1="507.00" x2="344.45" y2="507.00" stroke="#aaa" stroke-width="0.9"/><line x1="343.05" y1="521.25" x2="344.45" y2="521.25" stroke="#aaa" stroke-width="0.9"/><line x1="343.05" y1="535.50" x2="344.45" y2="535.50" stroke="#aaa" stroke-width="0.9"/><line x1="343.05" y1="549.50" x2="344.45" y2="549.50" stroke="#aaa" stroke-width="0.9"/><line x1="343.05" y1="563.25" x2="344.45" y2="563.25" stroke="#aaa" stroke-width="0.9"/><line x1="343.05" y1="577.20" x2="344.45" y2="577.20" stroke="#aaa" stroke-width="0.9"/><text x="363.25" y="586.30" font-size="9" text-anchor="middle" fill="#222">0.2</text><text x="404.50" y="586.30" font-size="9" text-anchor="middle" fill="#222">0.4</text><text x="445.75" y="586.30" font-size="9" text-anchor="middle" fill="#222">0.6</text><text x="340.75" y="496.20" font-size="9" text-anchor="end" fill="#222">12</text><text x="340.75" y="510.20" font-size="9" text-anchor="end" fill="#222">10</text><text x="340.75" y="524.45" font-size="9" text-anchor="end" fill="#222">8</text><text x="340.75" y="538.70" font-size="9" text-anchor="end" fill="#222">6</text><text x="340.75" y="552.70" font-size="9" text-anchor="end" fill="#222">4</text><text x="340.75" y="566.45" font-size="9" text-anchor="end" fill="#222">2</text><text x="340.75" y="580.40" font-size="9" text-anchor="end" fill="#222">0</text><text x="405.00" y="596.30" font-size="9" text-anchor="middle" fill="#222">Data Value</text><text x="0" y="0" font-size="9.2" text-anchor="middle" fill="#222" transform="translate(326.90 528.00) rotate(-90)">Data Density Estimate</text><line x1="502.8" y1="478.4" x2="636.6" y2="478.4" stroke="#e6e6e6" stroke-width="1"/><line x1="502.8" y1="577.0" x2="636.6" y2="577.0" stroke="#9a9a9a" stroke-width="1"/><line x1="636.6" y1="478.4" x2="636.6" y2="577.0" stroke="#8a8a8a" stroke-width="1.6"/><path d="M531.71 576.86 L532.50 576.79 L533.58 576.74 L534.87 576.68 L536.28 576.60 L537.74 576.46 L539.16 576.24 L540.46 575.91 L541.55 575.46 L542.46 574.89 L543.25 574.26 L543.97 573.54 L544.63 572.73 L545.25 571.82 L545.87 570.81 L546.50 569.68 L547.18 568.43 L547.88 566.98 L548.58 565.31 L549.29 563.48 L549.99 561.57 L550.69 559.64 L551.39 557.75 L552.10 555.97 L552.80 554.36 L553.49 552.90 L554.17 551.49 L554.85 550.14 L555.53 548.86 L556.21 547.66 L556.92 546.53 L557.65 545.48 L558.43 544.52 L559.25 543.67 L560.12 542.94 L561.02 542.31 L561.94 541.74 L562.86 541.23 L563.76 540.74 L564.63 540.25 L565.46 539.74 L566.23 539.18 L566.96 538.56 L567.67 537.94 L568.36 537.35 L569.03 536.83 L569.71 536.42 L570.39 536.16 L571.08 536.09 L571.77 536.21 L572.45 536.49 L573.13 536.91 L573.80 537.44 L574.49 538.07 L575.20 538.77 L575.93 539.52 L576.70 540.30 L577.53 541.14 L578.40 542.05 L579.30 543.03 L580.22 544.08 L581.14 545.19 L582.04 546.33 L582.91 547.52 L583.73 548.74 L584.50 550.03 L585.24 551.42 L585.95 552.88 L586.63 554.36 L587.31 555.85 L587.99 557.31 L588.67 558.70 L589.36 559.99 L590.04 561.21 L590.70 562.39 L591.34 563.54 L592.00 564.65 L592.67 565.69 L593.38 566.68 L594.15 567.59 L594.98 568.43 L595.92 569.19 L596.96 569.89 L598.06 570.53 L599.20 571.10 L600.34 571.60 L601.44 572.02 L602.48 572.37 L603.42 572.64 L604.26 572.78 L605.02 572.77 L605.73 572.65 L606.41 572.47 L607.06 572.28 L607.70 572.12 L608.36 572.04 L609.04 572.08 L609.74 572.25 L610.42 572.50 L611.09 572.82 L611.77 573.17 L612.46 573.55 L613.16 573.93 L613.90 574.29 L614.67 574.61 L615.53 574.92 L616.49 575.25 L617.51 575.58 L618.53 575.89 L619.52 576.20 L620.40 576.46 L621.15 576.69 L621.70 576.86" fill="none" stroke="#1c5fae" stroke-width="2.2" stroke-linejoin="round"/><path d="M548.58 576.86 L549.03 576.87 L549.63 576.93 L550.34 577.01 L551.13 577.07 L551.95 577.07 L552.77 576.97 L553.53 576.72 L554.21 576.30 L554.80 575.78 L555.36 575.25 L555.89 574.65 L556.40 573.91 L556.91 572.98 L557.40 571.79 L557.91 570.29 L558.43 568.43 L558.96 566.04 L559.51 563.13 L560.07 559.84 L560.62 556.33 L561.16 552.76 L561.69 549.26 L562.18 546.00 L562.64 543.12 L563.05 540.64 L563.41 538.44 L563.74 536.42 L564.05 534.50 L564.36 532.61 L564.69 530.66 L565.05 528.56 L565.46 526.24 L565.93 523.70 L566.44 521.01 L567.00 518.22 L567.56 515.35 L568.13 512.43 L568.69 509.50 L569.20 506.60 L569.67 503.75 L570.09 500.68 L570.46 497.26 L570.81 493.70 L571.13 490.21 L571.45 487.01 L571.78 484.30 L572.12 482.31 L572.49 481.25 L572.88 481.24 L573.28 482.13 L573.70 483.72 L574.12 485.82 L574.55 488.22 L574.98 490.74 L575.42 493.17 L575.86 495.31 L576.30 497.25 L576.74 499.20 L577.19 501.18 L577.64 503.22 L578.09 505.32 L578.56 507.50 L579.03 509.78 L579.52 512.18 L580.02 514.74 L580.53 517.48 L581.06 520.33 L581.59 523.26 L582.13 526.20 L582.67 529.12 L583.20 531.96 L583.73 534.68 L584.26 537.31 L584.79 539.93 L585.32 542.51 L585.84 545.05 L586.37 547.52 L586.90 549.90 L587.43 552.19 L587.95 554.36 L588.47 556.44 L588.97 558.44 L589.47 560.36 L589.97 562.19 L590.49 563.91 L591.02 565.54 L591.58 567.04 L592.17 568.43 L592.81 569.68 L593.48 570.81 L594.18 571.82 L594.90 572.73 L595.62 573.54 L596.36 574.26 L597.08 574.89 L597.80 575.46 L598.54 575.91 L599.33 576.24 L600.15 576.46 L600.96 576.60 L601.72 576.68 L602.41 576.74 L602.99 576.79 L603.42 576.86" fill="none" stroke="#fb6a12" stroke-width="2.2" stroke-linejoin="round" stroke-dasharray="6.6 3.0"/><rect x="506.4" y="481.8" width="61.89999999999998" height="24.80000000000001" rx="2" fill="#fff" fill-opacity="0.85" stroke="#e4e4e4" stroke-width="0.8"/><line x1="508.59999999999997" y1="488.12" x2="518.4" y2="488.12" stroke="#1c5fae" stroke-width="2.2"/><line x1="509.7" y1="499.16" x2="516.1999999999999" y2="499.16" stroke="#fb6a12" stroke-width="2.2"/><text x="526.10" y="491.32" font-size="9" text-anchor="start" fill="#111" textLength="32.0" lengthAdjust="spacingAndGlyphs">Original</text><text x="526.10" y="502.36" font-size="9" text-anchor="start" fill="#111" textLength="37.0" lengthAdjust="spacingAndGlyphs">TimeGAN</text><line x1="503.00" y1="493.00" x2="504.40" y2="493.00" stroke="#aaa" stroke-width="0.9"/><line x1="503.00" y1="507.00" x2="504.40" y2="507.00" stroke="#aaa" stroke-width="0.9"/><line x1="503.00" y1="521.10" x2="504.40" y2="521.10" stroke="#aaa" stroke-width="0.9"/><line x1="503.00" y1="535.10" x2="504.40" y2="535.10" stroke="#aaa" stroke-width="0.9"/><line x1="503.00" y1="549.10" x2="504.40" y2="549.10" stroke="#aaa" stroke-width="0.9"/><line x1="503.00" y1="563.20" x2="504.40" y2="563.20" stroke="#aaa" stroke-width="0.9"/><line x1="503.00" y1="577.20" x2="504.40" y2="577.20" stroke="#aaa" stroke-width="0.9"/><text x="525.20" y="586.30" font-size="9" text-anchor="middle" fill="#222">0.2</text><text x="566.30" y="586.30" font-size="9" text-anchor="middle" fill="#222">0.4</text><text x="606.20" y="586.30" font-size="9" text-anchor="middle" fill="#222">0.6</text><text x="500.70" y="496.20" font-size="9" text-anchor="end" fill="#222">12</text><text x="500.70" y="510.20" font-size="9" text-anchor="end" fill="#222">10</text><text x="500.70" y="524.30" font-size="9" text-anchor="end" fill="#222">8</text><text x="500.70" y="538.30" font-size="9" text-anchor="end" fill="#222">6</text><text x="500.70" y="552.30" font-size="9" text-anchor="end" fill="#222">4</text><text x="500.70" y="566.40" font-size="9" text-anchor="end" fill="#222">2</text><text x="500.70" y="580.40" font-size="9" text-anchor="end" fill="#222">0</text><text x="566.00" y="596.30" font-size="9" text-anchor="middle" fill="#222">Data Value</text><text x="0" y="0" font-size="9.2" text-anchor="middle" fill="#222" transform="translate(488.00 528.00) rotate(-90)">Data Density Estimate</text></svg><div class="t" style="left:151.50px;top:612.44px;font-size:15px;"><div class="cc"><span>(a) Stocks</span></div></div><div class="t" style="left:478.00px;top:612.44px;font-size:15px;"><div class="cc"><span>(b) Energy</span></div></div>
</body></html>
